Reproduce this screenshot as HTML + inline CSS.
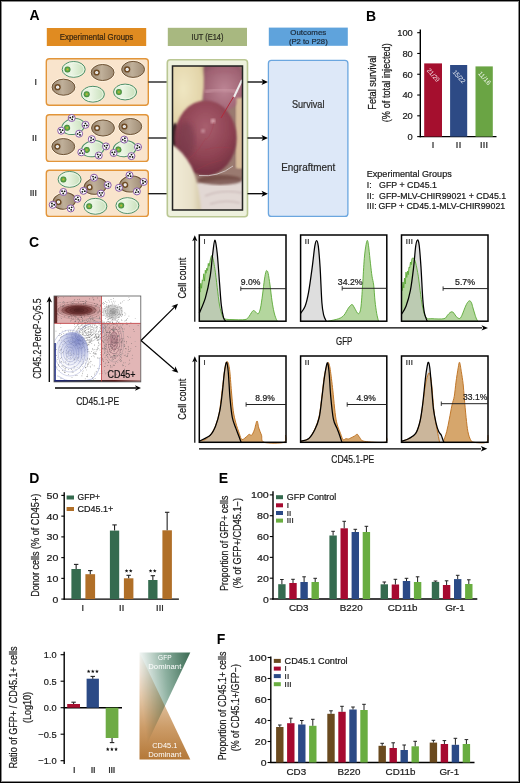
<!DOCTYPE html>
<html><head><meta charset="utf-8"><style>
html,body{margin:0;padding:0;background:#fff;}
svg{display:block;font-family:"Liberation Sans", sans-serif;}
</style></head><body>
<svg width="520" height="783" viewBox="0 0 520 783">
<rect width="520" height="783" fill="#fff"/>
<defs>
<linearGradient id="gcell" x1="0" y1="0" x2="1" y2="0"><stop offset="0" stop-color="#dcedd3"/><stop offset="0.4" stop-color="#ebf5e4"/><stop offset="1" stop-color="#c6dfb9"/></linearGradient>
<linearGradient id="bcell" x1="0" y1="0" x2="1" y2="0"><stop offset="0" stop-color="#98846d"/><stop offset="0.45" stop-color="#c0b09a"/><stop offset="1" stop-color="#a08d76"/></linearGradient>
<radialGradient id="gnuc" cx="0.5" cy="0.5" r="0.5"><stop offset="0" stop-color="#d8b430"/><stop offset="0.45" stop-color="#6cb048"/><stop offset="1" stop-color="#3b8238"/></radialGradient>
<radialGradient id="bnuc" cx="0.5" cy="0.5" r="0.5"><stop offset="0" stop-color="#d8d8d8"/><stop offset="1" stop-color="#ffffff"/></radialGradient>
<linearGradient id="tgreen" x1="1" y1="0" x2="0" y2="0.25"><stop offset="0" stop-color="#3a6a52"/><stop offset="0.5" stop-color="#8db0a0"/><stop offset="1" stop-color="#ffffff"/></linearGradient>
<linearGradient id="torange" x1="0" y1="1" x2="0" y2="0"><stop offset="0" stop-color="#b47838"/><stop offset="0.3" stop-color="#cc9c68"/><stop offset="0.55" stop-color="#e0c2a0"/><stop offset="0.8" stop-color="#f2e6da"/><stop offset="1" stop-color="#ffffff"/></linearGradient>
<radialGradient id="sphere" cx="0.5" cy="0.35" r="0.75"><stop offset="0" stop-color="#a85e6e"/><stop offset="0.55" stop-color="#8e4252"/><stop offset="1" stop-color="#682a3a"/></radialGradient>
<radialGradient id="glove1" cx="0.35" cy="0.4" r="0.75"><stop offset="0" stop-color="#efe6c2"/><stop offset="0.8" stop-color="#e2d4a8"/><stop offset="1" stop-color="#c8b486"/></radialGradient>
<radialGradient id="horn" cx="0.55" cy="0.6" r="0.7"><stop offset="0" stop-color="#bc8494"/><stop offset="0.6" stop-color="#a06474"/><stop offset="1" stop-color="#80485a"/></radialGradient>
<linearGradient id="glove2" x1="0" y1="0" x2="1" y2="0"><stop offset="0" stop-color="#f2ecd8"/><stop offset="0.7" stop-color="#e8e0c8"/><stop offset="1" stop-color="#d6caa8"/></linearGradient>
<filter id="blur1"><feGaussianBlur stdDeviation="1.2"/></filter>
<filter id="blur2"><feGaussianBlur stdDeviation="2.5"/></filter>
<clipPath id="photoclip"><rect x="172.5" y="66" width="69.8" height="143.5"/></clipPath>
</defs>
<rect x="0.5" y="0.5" width="519" height="782" fill="none" stroke="#000" stroke-width="1" rx="0"/>
<rect x="1.5" y="1.5" width="517" height="780" fill="none" stroke="#8a8a8a" stroke-width="1" rx="0"/>
<text x="29.6" y="20.4" font-size="14" fill="#000" font-weight="bold">A</text>
<rect x="46.8" y="28" width="99.4" height="18" fill="#e08b21" stroke="none" stroke-width="1" rx="0"/>
<text x="96.5" y="40.2" font-size="8.3" fill="#3b2710" text-anchor="middle" textLength="73.5" lengthAdjust="spacingAndGlyphs" stroke="#3b2710" stroke-width="0.22">Experimental Groups</text>
<rect x="167.8" y="27.8" width="79.2" height="18.2" fill="#a8b880" stroke="none" stroke-width="1" rx="0"/>
<text x="207.4" y="40.1" font-size="8.3" fill="#2c2c20" text-anchor="middle" textLength="32" lengthAdjust="spacingAndGlyphs" stroke="#2c2c20" stroke-width="0.22">IUT (E14)</text>
<rect x="268.8" y="27.6" width="79" height="18.2" fill="#5fa3dc" stroke="none" stroke-width="1" rx="0"/>
<text x="308.3" y="35.2" font-size="8" fill="#1d2c3c" text-anchor="middle" textLength="36" lengthAdjust="spacingAndGlyphs" stroke="#1d2c3c" stroke-width="0.22">Outcomes</text>
<text x="308.3" y="43.6" font-size="8" fill="#1d2c3c" text-anchor="middle" textLength="38.8" lengthAdjust="spacingAndGlyphs" stroke="#1d2c3c" stroke-width="0.22">(P2 to P28)</text>
<rect x="46.3" y="58.8" width="102" height="46.5" fill="#f9e4cc" stroke="#e2953a" stroke-width="1.4" rx="3"/>
<rect x="46.3" y="114.7" width="102" height="46.7" fill="#f9e4cc" stroke="#e2953a" stroke-width="1.4" rx="3"/>
<rect x="46.3" y="170.3" width="102" height="46.099999999999994" fill="#f9e4cc" stroke="#e2953a" stroke-width="1.4" rx="3"/>
<text x="37" y="84.6" font-size="8.8" fill="#444" text-anchor="end" font-weight="bold">I</text>
<text x="37" y="140.8" font-size="8.8" fill="#444" text-anchor="end" font-weight="bold">II</text>
<text x="37" y="196.4" font-size="8.8" fill="#444" text-anchor="end" font-weight="bold">III</text>
<g><ellipse cx="73.7" cy="69.4" rx="11.5" ry="7.9" fill="url(#gcell)" stroke="#4e8f6a" stroke-width="1"/><ellipse cx="73.7" cy="69.4" rx="10.2" ry="6.7" fill="none" stroke="#f3faef" stroke-width="0.7"/><circle cx="67.5" cy="69.4" r="3.0" fill="url(#gnuc)"/></g>
<g><ellipse cx="102.6" cy="72.5" rx="12.2" ry="8.9" fill="none" stroke="#fff4e2" stroke-width="1"/><ellipse cx="102.6" cy="72.5" rx="11.4" ry="8.0" fill="url(#bcell)" stroke="#6e5234" stroke-width="1"/><circle cx="96.69999999999999" cy="72.5" r="3.1" fill="#6e4a24"/><circle cx="96.69999999999999" cy="72.5" r="1.6" fill="url(#bnuc)"/></g>
<g><ellipse cx="133.1" cy="69.4" rx="12.2" ry="8.9" fill="none" stroke="#fff4e2" stroke-width="1"/><ellipse cx="133.1" cy="69.4" rx="11.4" ry="8.0" fill="url(#bcell)" stroke="#6e5234" stroke-width="1"/><circle cx="127.19999999999999" cy="69.4" r="3.1" fill="#6e4a24"/><circle cx="127.19999999999999" cy="69.4" r="1.6" fill="url(#bnuc)"/></g>
<g><ellipse cx="63.5" cy="87.2" rx="12.2" ry="8.9" fill="none" stroke="#fff4e2" stroke-width="1"/><ellipse cx="63.5" cy="87.2" rx="11.4" ry="8.0" fill="url(#bcell)" stroke="#6e5234" stroke-width="1"/><circle cx="57.6" cy="87.2" r="3.1" fill="#6e4a24"/><circle cx="57.6" cy="87.2" r="1.6" fill="url(#bnuc)"/></g>
<g><ellipse cx="92.9" cy="94.2" rx="11.5" ry="7.9" fill="url(#gcell)" stroke="#4e8f6a" stroke-width="1"/><ellipse cx="92.9" cy="94.2" rx="10.2" ry="6.7" fill="none" stroke="#f3faef" stroke-width="0.7"/><circle cx="86.7" cy="94.2" r="3.0" fill="url(#gnuc)"/></g>
<g><ellipse cx="125.1" cy="92" rx="11.5" ry="7.9" fill="url(#gcell)" stroke="#4e8f6a" stroke-width="1"/><ellipse cx="125.1" cy="92" rx="10.2" ry="6.7" fill="none" stroke="#f3faef" stroke-width="0.7"/><circle cx="118.89999999999999" cy="92" r="3.0" fill="url(#gnuc)"/></g>
<g transform="rotate(-12 73.2 126.5)"><ellipse cx="73.2" cy="126.5" rx="11.5" ry="7.9" fill="url(#gcell)" stroke="#4e8f6a" stroke-width="1"/><ellipse cx="73.2" cy="126.5" rx="10.2" ry="6.7" fill="none" stroke="#f3faef" stroke-width="0.7"/><circle cx="67.0" cy="126.5" r="3.0" fill="url(#gnuc)"/></g>
<g><ellipse cx="103" cy="128" rx="12.2" ry="8.9" fill="none" stroke="#fff4e2" stroke-width="1"/><ellipse cx="103" cy="128" rx="11.4" ry="8.0" fill="url(#bcell)" stroke="#6e5234" stroke-width="1"/><circle cx="97.1" cy="128" r="3.1" fill="#6e4a24"/><circle cx="97.1" cy="128" r="1.6" fill="url(#bnuc)"/></g>
<g><ellipse cx="130.3" cy="126.5" rx="12.2" ry="8.9" fill="none" stroke="#fff4e2" stroke-width="1"/><ellipse cx="130.3" cy="126.5" rx="11.4" ry="8.0" fill="url(#bcell)" stroke="#6e5234" stroke-width="1"/><circle cx="124.4" cy="126.5" r="3.1" fill="#6e4a24"/><circle cx="124.4" cy="126.5" r="1.6" fill="url(#bnuc)"/></g>
<g><ellipse cx="63.3" cy="146.6" rx="12.2" ry="8.9" fill="none" stroke="#fff4e2" stroke-width="1"/><ellipse cx="63.3" cy="146.6" rx="11.4" ry="8.0" fill="url(#bcell)" stroke="#6e5234" stroke-width="1"/><circle cx="57.4" cy="146.6" r="3.1" fill="#6e4a24"/><circle cx="57.4" cy="146.6" r="1.6" fill="url(#bnuc)"/></g>
<g transform="rotate(-12 92.9 148.7)"><ellipse cx="92.9" cy="148.7" rx="11.5" ry="7.9" fill="url(#gcell)" stroke="#4e8f6a" stroke-width="1"/><ellipse cx="92.9" cy="148.7" rx="10.2" ry="6.7" fill="none" stroke="#f3faef" stroke-width="0.7"/><circle cx="86.7" cy="148.7" r="3.0" fill="url(#gnuc)"/></g>
<g transform="rotate(-8 124.6 148.7)"><ellipse cx="124.6" cy="148.7" rx="11.5" ry="7.9" fill="url(#gcell)" stroke="#4e8f6a" stroke-width="1"/><ellipse cx="124.6" cy="148.7" rx="10.2" ry="6.7" fill="none" stroke="#f3faef" stroke-width="0.7"/><circle cx="118.39999999999999" cy="148.7" r="3.0" fill="url(#gnuc)"/></g>
<circle cx="71.7" cy="118" r="3.5" fill="#fff" stroke="#8758a6" stroke-width="1"/><circle cx="72.14" cy="119.43" r="0.9" fill="#111"/><circle cx="70.24" cy="117.66" r="0.9" fill="#111"/><circle cx="72.72" cy="116.90" r="0.9" fill="#111"/>
<circle cx="85.5" cy="124.8" r="3.5" fill="#fff" stroke="#8758a6" stroke-width="1"/><circle cx="84.26" cy="125.64" r="0.9" fill="#111"/><circle cx="85.40" cy="123.30" r="0.9" fill="#111"/><circle cx="86.85" cy="125.46" r="0.9" fill="#111"/>
<circle cx="61.2" cy="130.7" r="3.5" fill="#fff" stroke="#8758a6" stroke-width="1"/><circle cx="60.03" cy="129.76" r="0.9" fill="#111"/><circle cx="62.60" cy="130.16" r="0.9" fill="#111"/><circle cx="60.97" cy="132.18" r="0.9" fill="#111"/>
<circle cx="79.1" cy="133.7" r="3.5" fill="#fff" stroke="#8758a6" stroke-width="1"/><circle cx="79.66" cy="132.31" r="0.9" fill="#111"/><circle cx="80.02" cy="134.88" r="0.9" fill="#111"/><circle cx="77.61" cy="133.91" r="0.9" fill="#111"/>
<circle cx="91.8" cy="139.2" r="3.5" fill="#fff" stroke="#8758a6" stroke-width="1"/><circle cx="93.29" cy="139.33" r="0.9" fill="#111"/><circle cx="90.94" cy="140.43" r="0.9" fill="#111"/><circle cx="91.17" cy="137.84" r="0.9" fill="#111"/>
<circle cx="106" cy="146.4" r="3.5" fill="#fff" stroke="#8758a6" stroke-width="1"/><circle cx="106.31" cy="147.87" r="0.9" fill="#111"/><circle cx="104.57" cy="145.94" r="0.9" fill="#111"/><circle cx="107.11" cy="145.40" r="0.9" fill="#111"/>
<circle cx="81.3" cy="152.3" r="3.5" fill="#fff" stroke="#8758a6" stroke-width="1"/><circle cx="79.99" cy="153.03" r="0.9" fill="#111"/><circle cx="81.33" cy="150.80" r="0.9" fill="#111"/><circle cx="82.59" cy="153.07" r="0.9" fill="#111"/>
<circle cx="98.8" cy="155.5" r="3.5" fill="#fff" stroke="#8758a6" stroke-width="1"/><circle cx="97.72" cy="154.46" r="0.9" fill="#111"/><circle cx="100.24" cy="155.09" r="0.9" fill="#111"/><circle cx="98.44" cy="156.96" r="0.9" fill="#111"/>
<circle cx="124.2" cy="139.6" r="3.5" fill="#fff" stroke="#8758a6" stroke-width="1"/><circle cx="124.88" cy="138.26" r="0.9" fill="#111"/><circle cx="125.02" cy="140.86" r="0.9" fill="#111"/><circle cx="122.70" cy="139.68" r="0.9" fill="#111"/>
<circle cx="138" cy="147" r="3.5" fill="#fff" stroke="#8758a6" stroke-width="1"/><circle cx="139.48" cy="147.26" r="0.9" fill="#111"/><circle cx="137.04" cy="148.15" r="0.9" fill="#111"/><circle cx="137.49" cy="145.59" r="0.9" fill="#111"/>
<circle cx="113.6" cy="153" r="3.5" fill="#fff" stroke="#8758a6" stroke-width="1"/><circle cx="113.78" cy="154.49" r="0.9" fill="#111"/><circle cx="112.22" cy="152.41" r="0.9" fill="#111"/><circle cx="114.80" cy="152.10" r="0.9" fill="#111"/>
<circle cx="131.4" cy="156.1" r="3.5" fill="#fff" stroke="#8758a6" stroke-width="1"/><circle cx="130.03" cy="156.71" r="0.9" fill="#111"/><circle cx="131.56" cy="154.61" r="0.9" fill="#111"/><circle cx="132.61" cy="156.98" r="0.9" fill="#111"/>
<g><ellipse cx="69.6" cy="179.4" rx="11.5" ry="7.9" fill="url(#gcell)" stroke="#4e8f6a" stroke-width="1"/><ellipse cx="69.6" cy="179.4" rx="10.2" ry="6.7" fill="none" stroke="#f3faef" stroke-width="0.7"/><circle cx="63.39999999999999" cy="179.4" r="3.0" fill="url(#gnuc)"/></g>
<g transform="rotate(-10 95.4 186.2)"><ellipse cx="95.4" cy="186.2" rx="12.2" ry="8.9" fill="none" stroke="#fff4e2" stroke-width="1"/><ellipse cx="95.4" cy="186.2" rx="11.4" ry="8.0" fill="url(#bcell)" stroke="#6e5234" stroke-width="1"/><circle cx="89.5" cy="186.2" r="3.1" fill="#6e4a24"/><circle cx="89.5" cy="186.2" r="1.6" fill="url(#bnuc)"/></g>
<g transform="rotate(-8 131 184)"><ellipse cx="131" cy="184" rx="12.2" ry="8.9" fill="none" stroke="#fff4e2" stroke-width="1"/><ellipse cx="131" cy="184" rx="11.4" ry="8.0" fill="url(#bcell)" stroke="#6e5234" stroke-width="1"/><circle cx="125.1" cy="184" r="3.1" fill="#6e4a24"/><circle cx="125.1" cy="184" r="1.6" fill="url(#bnuc)"/></g>
<g transform="rotate(-10 64.3 201)"><ellipse cx="64.3" cy="201" rx="12.2" ry="8.9" fill="none" stroke="#fff4e2" stroke-width="1"/><ellipse cx="64.3" cy="201" rx="11.4" ry="8.0" fill="url(#bcell)" stroke="#6e5234" stroke-width="1"/><circle cx="58.4" cy="201" r="3.1" fill="#6e4a24"/><circle cx="58.4" cy="201" r="1.6" fill="url(#bnuc)"/></g>
<g><ellipse cx="95.4" cy="206.3" rx="11.5" ry="7.9" fill="url(#gcell)" stroke="#4e8f6a" stroke-width="1"/><ellipse cx="95.4" cy="206.3" rx="10.2" ry="6.7" fill="none" stroke="#f3faef" stroke-width="0.7"/><circle cx="89.2" cy="206.3" r="3.0" fill="url(#gnuc)"/></g>
<g><ellipse cx="127.4" cy="205.6" rx="11.5" ry="7.9" fill="url(#gcell)" stroke="#4e8f6a" stroke-width="1"/><ellipse cx="127.4" cy="205.6" rx="10.2" ry="6.7" fill="none" stroke="#f3faef" stroke-width="0.7"/><circle cx="121.2" cy="205.6" r="3.0" fill="url(#gnuc)"/></g>
<circle cx="94" cy="177.7" r="3.5" fill="#fff" stroke="#8758a6" stroke-width="1"/><circle cx="93.02" cy="176.57" r="0.9" fill="#111"/><circle cx="95.47" cy="177.41" r="0.9" fill="#111"/><circle cx="93.51" cy="179.12" r="0.9" fill="#111"/>
<circle cx="107.7" cy="185.1" r="3.5" fill="#fff" stroke="#8758a6" stroke-width="1"/><circle cx="108.49" cy="183.83" r="0.9" fill="#111"/><circle cx="108.40" cy="186.42" r="0.9" fill="#111"/><circle cx="106.20" cy="185.05" r="0.9" fill="#111"/>
<circle cx="83.4" cy="190.8" r="3.5" fill="#fff" stroke="#8758a6" stroke-width="1"/><circle cx="84.85" cy="191.19" r="0.9" fill="#111"/><circle cx="82.34" cy="191.86" r="0.9" fill="#111"/><circle cx="83.01" cy="189.35" r="0.9" fill="#111"/>
<circle cx="100.9" cy="193.6" r="3.5" fill="#fff" stroke="#8758a6" stroke-width="1"/><circle cx="100.95" cy="195.10" r="0.9" fill="#111"/><circle cx="99.58" cy="192.90" r="0.9" fill="#111"/><circle cx="102.17" cy="192.81" r="0.9" fill="#111"/>
<circle cx="129.5" cy="175.2" r="3.5" fill="#fff" stroke="#8758a6" stroke-width="1"/><circle cx="128.08" cy="175.69" r="0.9" fill="#111"/><circle cx="129.79" cy="173.73" r="0.9" fill="#111"/><circle cx="130.63" cy="176.18" r="0.9" fill="#111"/>
<circle cx="143.7" cy="181.9" r="3.5" fill="#fff" stroke="#8758a6" stroke-width="1"/><circle cx="142.82" cy="180.69" r="0.9" fill="#111"/><circle cx="145.19" cy="181.74" r="0.9" fill="#111"/><circle cx="143.09" cy="183.27" r="0.9" fill="#111"/>
<circle cx="118.9" cy="187.8" r="3.5" fill="#fff" stroke="#8758a6" stroke-width="1"/><circle cx="119.80" cy="186.60" r="0.9" fill="#111"/><circle cx="119.49" cy="189.18" r="0.9" fill="#111"/><circle cx="117.41" cy="187.62" r="0.9" fill="#111"/>
<circle cx="136.9" cy="191.4" r="3.5" fill="#fff" stroke="#8758a6" stroke-width="1"/><circle cx="138.31" cy="191.91" r="0.9" fill="#111"/><circle cx="135.75" cy="192.36" r="0.9" fill="#111"/><circle cx="136.64" cy="189.92" r="0.9" fill="#111"/>
<circle cx="63.3" cy="192" r="3.5" fill="#fff" stroke="#8758a6" stroke-width="1"/><circle cx="63.22" cy="193.50" r="0.9" fill="#111"/><circle cx="62.04" cy="191.18" r="0.9" fill="#111"/><circle cx="64.64" cy="191.32" r="0.9" fill="#111"/>
<circle cx="77.4" cy="198.8" r="3.5" fill="#fff" stroke="#8758a6" stroke-width="1"/><circle cx="75.94" cy="199.16" r="0.9" fill="#111"/><circle cx="77.81" cy="197.36" r="0.9" fill="#111"/><circle cx="78.44" cy="199.88" r="0.9" fill="#111"/>
<circle cx="52.7" cy="204.8" r="3.5" fill="#fff" stroke="#8758a6" stroke-width="1"/><circle cx="51.93" cy="203.51" r="0.9" fill="#111"/><circle cx="54.20" cy="204.77" r="0.9" fill="#111"/><circle cx="51.97" cy="206.11" r="0.9" fill="#111"/>
<circle cx="70.7" cy="208.4" r="3.5" fill="#fff" stroke="#8758a6" stroke-width="1"/><circle cx="71.70" cy="207.29" r="0.9" fill="#111"/><circle cx="71.16" cy="209.83" r="0.9" fill="#111"/><circle cx="69.23" cy="208.09" r="0.9" fill="#111"/>
<line x1="148.3" y1="82" x2="167.3" y2="82" stroke="#111" stroke-width="1.3"/>
<line x1="148.3" y1="138" x2="167.3" y2="138" stroke="#111" stroke-width="1.3"/>
<line x1="148.3" y1="193.7" x2="167.3" y2="193.7" stroke="#111" stroke-width="1.3"/>
<rect x="167.3" y="59.8" width="80.2" height="157" fill="#eef1de" stroke="#bac793" stroke-width="1.6" rx="3"/>
<g clip-path="url(#photoclip)">
<rect x="172.5" y="66" width="70" height="144" fill="#9a7a70" stroke="none" stroke-width="1" rx="0"/>
<path d="M194,184 Q220,178 243,180 L243,211 L194,211 Z" fill="#e2d8d4" filter="url(#blur1)"/>
<path d="M205,196 Q222,189 242,193 M210,204 Q225,199 240,203" stroke="#c4b0b0" stroke-width="1.1" fill="none" filter="url(#blur1)"/>
<ellipse cx="220" cy="180" rx="22" ry="5" fill="#6e4640" opacity="0.8" filter="url(#blur1)"/>
<rect x="236.5" y="98" width="7" height="70" fill="#d8bc9a" filter="url(#blur1)"/>
<ellipse cx="222" cy="84" rx="23" ry="27" fill="url(#horn)" filter="url(#blur1)"/>
<path d="M205,92 Q222,87 238,92" stroke="#cc9aa6" stroke-width="4" fill="none" opacity="0.55" filter="url(#blur1)"/>
<path d="M206,74 Q222,69 238,73" stroke="#a46274" stroke-width="1.2" fill="none" filter="url(#blur1)"/>
<rect x="236.5" y="98" width="7" height="70" fill="#d8bc9a" filter="url(#blur1)"/>
<path d="M172,64 L203,64 Q206,90 200,108 Q193,121 180,125 L172,127 Z" fill="url(#glove1)" filter="url(#blur1)"/>
<ellipse cx="175" cy="135" rx="4" ry="12" fill="#3a2025" filter="url(#blur1)"/>
<ellipse cx="205.6" cy="138" rx="31" ry="37.5" fill="url(#sphere)" filter="url(#blur1)"/>
<ellipse cx="186" cy="140" rx="9" ry="18" fill="#6a3048" fill-opacity="0.45" filter="url(#blur2)"/>
<circle cx="213" cy="121" r="2.5" fill="#e6b8c0" opacity="0.7" filter="url(#blur1)"/>
<circle cx="203" cy="131" r="2" fill="#dcb0b8" opacity="0.6" filter="url(#blur1)"/>
<path d="M188,160 Q200,150 206,138 M205,150 Q216,146 232,148 M196,170 Q210,162 222,160 M214,122 Q212,134 206,140" stroke="#a83848" stroke-width="0.5" fill="none" opacity="0.55"/>
<path d="M172,145 Q182,150 191,166 Q199,182 201,211 L172,211 Z" fill="url(#glove2)" filter="url(#blur1)"/>
<path d="M199,175.5 Q218,177.5 233,166" stroke="#d8cccc" stroke-width="1" fill="none" opacity="0.85"/>
<path d="M234,96 L221,118" stroke="#b02a3a" stroke-width="1" fill="none"/><path d="M242,80 L234,97" stroke="#eeeeee" stroke-width="2" fill="none"/>
</g>
<rect x="172.5" y="66" width="70" height="144" fill="none" stroke="#222" stroke-width="1.5" rx="0"/>
<line x1="247.5" y1="82" x2="263" y2="82" stroke="#000" stroke-width="1.3"/>
<polygon points="268,82 261.5,79 263.125,82 261.5,85" fill="#000"/>
<line x1="247.5" y1="138" x2="263" y2="138" stroke="#000" stroke-width="1.3"/>
<polygon points="268,138 261.5,135 263.125,138 261.5,141" fill="#000"/>
<line x1="247.5" y1="193.7" x2="263" y2="193.7" stroke="#000" stroke-width="1.3"/>
<polygon points="268,193.7 261.5,190.7 263.125,193.7 261.5,196.7" fill="#000"/>
<rect x="268.4" y="60.4" width="79.5" height="156" fill="#dde8f8" stroke="#6ba6df" stroke-width="1.3" rx="3"/>
<text x="308.2" y="108.4" font-size="10.5" fill="#2a2a2a" text-anchor="middle" textLength="32.6" lengthAdjust="spacingAndGlyphs" stroke="#2a2a2a" stroke-width="0.22">Survival</text>
<text x="308.2" y="171.2" font-size="10.5" fill="#2a2a2a" text-anchor="middle" textLength="54" lengthAdjust="spacingAndGlyphs" stroke="#2a2a2a" stroke-width="0.22">Engraftment</text>
<text x="366" y="20.6" font-size="14" fill="#000" font-weight="bold">B</text>
<line x1="420.3" y1="29.5" x2="420.3" y2="137.29999999999998" stroke="#000" stroke-width="1.4"/>
<line x1="419.6" y1="136.6" x2="496.5" y2="136.6" stroke="#000" stroke-width="1.4"/>
<line x1="417.2" y1="136.6" x2="420.3" y2="136.6" stroke="#000" stroke-width="1.1"/>
<text x="412.8" y="140.0" font-size="9.6" fill="#1a1a1a" text-anchor="end" textLength="5.2" lengthAdjust="spacingAndGlyphs" stroke="#1a1a1a" stroke-width="0.22">0</text>
<line x1="417.2" y1="115.82" x2="420.3" y2="115.82" stroke="#000" stroke-width="1.1"/>
<text x="412.8" y="119.22" font-size="9.6" fill="#1a1a1a" text-anchor="end" textLength="10.4" lengthAdjust="spacingAndGlyphs" stroke="#1a1a1a" stroke-width="0.22">20</text>
<line x1="417.2" y1="95.03999999999999" x2="420.3" y2="95.03999999999999" stroke="#000" stroke-width="1.1"/>
<text x="412.8" y="98.44" font-size="9.6" fill="#1a1a1a" text-anchor="end" textLength="10.4" lengthAdjust="spacingAndGlyphs" stroke="#1a1a1a" stroke-width="0.22">40</text>
<line x1="417.2" y1="74.25999999999999" x2="420.3" y2="74.25999999999999" stroke="#000" stroke-width="1.1"/>
<text x="412.8" y="77.66" font-size="9.6" fill="#1a1a1a" text-anchor="end" textLength="10.4" lengthAdjust="spacingAndGlyphs" stroke="#1a1a1a" stroke-width="0.22">60</text>
<line x1="417.2" y1="53.47999999999999" x2="420.3" y2="53.47999999999999" stroke="#000" stroke-width="1.1"/>
<text x="412.8" y="56.87999999999999" font-size="9.6" fill="#1a1a1a" text-anchor="end" textLength="10.4" lengthAdjust="spacingAndGlyphs" stroke="#1a1a1a" stroke-width="0.22">80</text>
<line x1="417.2" y1="32.69999999999999" x2="420.3" y2="32.69999999999999" stroke="#000" stroke-width="1.1"/>
<text x="412.8" y="36.09999999999999" font-size="9.6" fill="#1a1a1a" text-anchor="end" textLength="15.6" lengthAdjust="spacingAndGlyphs" stroke="#1a1a1a" stroke-width="0.22">100</text>
<rect x="424.2" y="63.4" width="17.80000000000001" height="73.19999999999999" fill="#a50f2e" stroke="none" stroke-width="1" rx="0"/>
<text x="426.4" y="70.8" font-size="6.6" fill="#fff" textLength="15.5" lengthAdjust="spacingAndGlyphs" transform="rotate(48 426.4 70.8)" fill-opacity="0.92">21/29</text>
<rect x="450.1" y="65" width="17.099999999999966" height="71.6" fill="#2d4a85" stroke="none" stroke-width="1" rx="0"/>
<text x="452.3" y="72.4" font-size="6.6" fill="#fff" textLength="15.5" lengthAdjust="spacingAndGlyphs" transform="rotate(48 452.3 72.4)" fill-opacity="0.92">15/22</text>
<rect x="475.5" y="66.4" width="17.30000000000001" height="70.19999999999999" fill="#6aa444" stroke="none" stroke-width="1" rx="0"/>
<text x="477.7" y="73.80000000000001" font-size="6.6" fill="#fff" textLength="15.5" lengthAdjust="spacingAndGlyphs" transform="rotate(48 477.7 73.80000000000001)" fill-opacity="0.92">11/16</text>
<text x="433.1" y="148.2" font-size="9" fill="#1a1a1a" text-anchor="middle" stroke="#1a1a1a" stroke-width="0.22" letter-spacing="0.3">I</text>
<text x="458.65" y="148.2" font-size="9" fill="#1a1a1a" text-anchor="middle" stroke="#1a1a1a" stroke-width="0.22" letter-spacing="0.3">II</text>
<text x="484.15" y="148.2" font-size="9" fill="#1a1a1a" text-anchor="middle" stroke="#1a1a1a" stroke-width="0.22" letter-spacing="0.3">III</text>
<text x="376.5" y="82.7" font-size="10" fill="#1a1a1a" text-anchor="middle" textLength="54" lengthAdjust="spacingAndGlyphs" transform="rotate(-90 376.5 82.7)" stroke="#1a1a1a" stroke-width="0.22">Fetal survival</text>
<text x="390.5" y="82.7" font-size="10" fill="#1a1a1a" text-anchor="middle" textLength="79" lengthAdjust="spacingAndGlyphs" transform="rotate(-90 390.5 82.7)" stroke="#1a1a1a" stroke-width="0.22">(% of total injected)</text>
<text x="366.8" y="176.9" font-size="8.8" fill="#1a1a1a" textLength="84.9" lengthAdjust="spacingAndGlyphs" stroke="#1a1a1a" stroke-width="0.22">Experimental Groups</text>
<text x="366.8" y="187.7" font-size="8.8" fill="#1a1a1a" stroke="#1a1a1a" stroke-width="0.22">I:</text>
<text x="379.1" y="187.7" font-size="8.8" fill="#1a1a1a" textLength="57.8" lengthAdjust="spacingAndGlyphs" stroke="#1a1a1a" stroke-width="0.22">GFP + CD45.1</text>
<text x="366.8" y="198.5" font-size="8.8" fill="#1a1a1a" stroke="#1a1a1a" stroke-width="0.22">II:</text>
<text x="379.1" y="198.5" font-size="8.8" fill="#1a1a1a" textLength="127.1" lengthAdjust="spacingAndGlyphs" stroke="#1a1a1a" stroke-width="0.22">GFP-MLV-CHIR99021 + CD45.1</text>
<text x="366.8" y="209.29999999999998" font-size="8.8" fill="#1a1a1a" stroke="#1a1a1a" stroke-width="0.22">III:</text>
<text x="378.5" y="209.29999999999998" font-size="8.8" fill="#1a1a1a" textLength="126.7" lengthAdjust="spacingAndGlyphs" stroke="#1a1a1a" stroke-width="0.22">GFP + CD45.1-MLV-CHIR99021</text>
<text x="29.1" y="246.7" font-size="14" fill="#000" font-weight="bold">C</text>
<rect x="54" y="296" width="86.80000000000001" height="85.89999999999998" fill="#fff" stroke="none" stroke-width="1" rx="0"/>
<rect x="54" y="296" width="47.5" height="27.399999999999977" fill="#d9a3a3" stroke="none" stroke-width="1" rx="0" fill-opacity="0.85"/>
<rect x="101.5" y="323.4" width="39.30000000000001" height="58.5" fill="#dfaeae" stroke="none" stroke-width="1" rx="0" fill-opacity="0.9"/>
<defs><clipPath id="dpclip"><rect x="54" y="296" width="86.8" height="85.9"/></clipPath><radialGradient id="blueb" cx="0.68" cy="0.22" r="0.85"><stop offset="0" stop-color="#4e5cb2"/><stop offset="0.4" stop-color="#a3abd9"/><stop offset="1" stop-color="#e4e6f5" stop-opacity="0"/></radialGradient><radialGradient id="marb" cx="0.5" cy="0.5" r="0.5"><stop offset="0" stop-color="#4e1e1e"/><stop offset="0.55" stop-color="#7a3e3e"/><stop offset="1" stop-color="#b07a7a" stop-opacity="0"/></radialGradient><radialGradient id="grayb" cx="0.5" cy="0.5" r="0.5"><stop offset="0" stop-color="#8f8f8f"/><stop offset="1" stop-color="#d8d8d8" stop-opacity="0"/></radialGradient></defs>
<g clip-path="url(#dpclip)">
<rect x="80.2" y="369.7" width="0.6" height="0.6" fill="#444"/>
<rect x="123.9" y="355.3" width="0.6" height="0.6" fill="#666"/>
<rect x="73.1" y="310.8" width="0.6" height="0.6" fill="#444"/>
<rect x="104.4" y="353.4" width="0.6" height="0.6" fill="#666"/>
<rect x="86.3" y="341.8" width="0.6" height="0.6" fill="#555"/>
<rect x="81.2" y="316.3" width="0.6" height="0.6" fill="#666"/>
<rect x="73.7" y="357.9" width="0.6" height="0.6" fill="#888"/>
<rect x="87.7" y="337.4" width="0.6" height="0.6" fill="#666"/>
<rect x="65.9" y="350.4" width="0.6" height="0.6" fill="#444"/>
<rect x="75.2" y="345.5" width="0.6" height="0.6" fill="#888"/>
<rect x="100.1" y="337.1" width="0.6" height="0.6" fill="#666"/>
<rect x="111.9" y="329.2" width="0.6" height="0.6" fill="#888"/>
<rect x="103.7" y="324.4" width="0.6" height="0.6" fill="#888"/>
<rect x="102.9" y="354.6" width="0.6" height="0.6" fill="#666"/>
<rect x="120.0" y="359.0" width="0.6" height="0.6" fill="#444"/>
<rect x="105.8" y="335.4" width="0.6" height="0.6" fill="#888"/>
<rect x="61.7" y="366.2" width="0.6" height="0.6" fill="#555"/>
<rect x="87.2" y="312.2" width="0.6" height="0.6" fill="#444"/>
<rect x="71.9" y="303.1" width="0.6" height="0.6" fill="#555"/>
<rect x="56.6" y="366.7" width="0.6" height="0.6" fill="#444"/>
<rect x="78.2" y="339.7" width="0.6" height="0.6" fill="#555"/>
<rect x="78.8" y="307.4" width="0.6" height="0.6" fill="#666"/>
<rect x="82.2" y="343.2" width="0.6" height="0.6" fill="#666"/>
<rect x="66.3" y="333.6" width="0.6" height="0.6" fill="#555"/>
<rect x="112.3" y="360.4" width="0.6" height="0.6" fill="#888"/>
<rect x="109.2" y="350.9" width="0.6" height="0.6" fill="#444"/>
<rect x="79.2" y="313.6" width="0.6" height="0.6" fill="#555"/>
<rect x="117.0" y="355.3" width="0.6" height="0.6" fill="#666"/>
<rect x="59.4" y="366.2" width="0.6" height="0.6" fill="#666"/>
<rect x="101.6" y="339.6" width="0.6" height="0.6" fill="#444"/>
<rect x="110.4" y="312.9" width="0.6" height="0.6" fill="#555"/>
<rect x="59.2" y="362.6" width="0.6" height="0.6" fill="#555"/>
<rect x="86.7" y="311.4" width="0.6" height="0.6" fill="#666"/>
<rect x="72.8" y="308.6" width="0.6" height="0.6" fill="#666"/>
<rect x="105.7" y="337.2" width="0.6" height="0.6" fill="#444"/>
<rect x="110.2" y="335.3" width="0.6" height="0.6" fill="#888"/>
<rect x="77.3" y="323.9" width="0.6" height="0.6" fill="#444"/>
<rect x="124.1" y="341.1" width="0.6" height="0.6" fill="#555"/>
<rect x="82.3" y="371.6" width="0.6" height="0.6" fill="#888"/>
<rect x="84.8" y="324.7" width="0.6" height="0.6" fill="#666"/>
<rect x="82.2" y="329.1" width="0.6" height="0.6" fill="#444"/>
<rect x="110.2" y="366.7" width="0.6" height="0.6" fill="#444"/>
<rect x="113.4" y="359.2" width="0.6" height="0.6" fill="#666"/>
<rect x="72.5" y="370.5" width="0.6" height="0.6" fill="#888"/>
<rect x="74.0" y="324.3" width="0.6" height="0.6" fill="#666"/>
<rect x="120.1" y="315.1" width="0.6" height="0.6" fill="#666"/>
<rect x="101.7" y="312.4" width="0.6" height="0.6" fill="#444"/>
<rect x="108.2" y="344.0" width="0.6" height="0.6" fill="#888"/>
<rect x="122.9" y="324.4" width="0.6" height="0.6" fill="#888"/>
<rect x="90.6" y="313.4" width="0.6" height="0.6" fill="#888"/>
<rect x="102.3" y="302.9" width="0.6" height="0.6" fill="#444"/>
<rect x="77.7" y="318.5" width="0.6" height="0.6" fill="#444"/>
<rect x="120.5" y="354.2" width="0.6" height="0.6" fill="#666"/>
<rect x="99.2" y="373.6" width="0.6" height="0.6" fill="#888"/>
<rect x="99.1" y="307.3" width="0.6" height="0.6" fill="#555"/>
<rect x="88.2" y="344.1" width="0.6" height="0.6" fill="#666"/>
<rect x="108.4" y="332.1" width="0.6" height="0.6" fill="#555"/>
<rect x="124.2" y="368.8" width="0.6" height="0.6" fill="#555"/>
<rect x="107.3" y="360.3" width="0.6" height="0.6" fill="#666"/>
<rect x="84.9" y="302.3" width="0.6" height="0.6" fill="#444"/>
<rect x="101.7" y="337.2" width="0.6" height="0.6" fill="#666"/>
<rect x="115.7" y="355.3" width="0.6" height="0.6" fill="#888"/>
<rect x="90.9" y="329.1" width="0.6" height="0.6" fill="#555"/>
<rect x="127.7" y="353.0" width="0.6" height="0.6" fill="#555"/>
<rect x="118.3" y="322.1" width="0.6" height="0.6" fill="#666"/>
<rect x="87.7" y="344.5" width="0.6" height="0.6" fill="#555"/>
<rect x="101.9" y="322.4" width="0.6" height="0.6" fill="#666"/>
<rect x="55.8" y="311.3" width="0.6" height="0.6" fill="#444"/>
<rect x="54.8" y="349.8" width="0.6" height="0.6" fill="#444"/>
<rect x="119.5" y="346.1" width="0.6" height="0.6" fill="#444"/>
<rect x="102.5" y="340.9" width="0.6" height="0.6" fill="#444"/>
<rect x="79.2" y="331.1" width="0.6" height="0.6" fill="#666"/>
<rect x="103.4" y="348.6" width="0.6" height="0.6" fill="#555"/>
<rect x="90.2" y="366.9" width="0.6" height="0.6" fill="#888"/>
<rect x="97.4" y="326.2" width="0.6" height="0.6" fill="#555"/>
<rect x="88.9" y="313.7" width="0.6" height="0.6" fill="#444"/>
<rect x="108.4" y="347.4" width="0.6" height="0.6" fill="#888"/>
<rect x="118.2" y="335.7" width="0.6" height="0.6" fill="#888"/>
<rect x="105.2" y="301.2" width="0.6" height="0.6" fill="#666"/>
<rect x="129.5" y="362.9" width="0.6" height="0.6" fill="#666"/>
<rect x="94.1" y="325.4" width="0.6" height="0.6" fill="#555"/>
<rect x="78.0" y="335.3" width="0.6" height="0.6" fill="#888"/>
<rect x="69.6" y="349.1" width="0.6" height="0.6" fill="#555"/>
<rect x="100.7" y="346.8" width="0.6" height="0.6" fill="#888"/>
<rect x="122.0" y="365.5" width="0.6" height="0.6" fill="#666"/>
<rect x="98.7" y="334.3" width="0.6" height="0.6" fill="#444"/>
<rect x="99.8" y="343.7" width="0.6" height="0.6" fill="#555"/>
<rect x="104.2" y="303.1" width="0.6" height="0.6" fill="#555"/>
<rect x="93.9" y="306.8" width="0.6" height="0.6" fill="#888"/>
<rect x="98.0" y="312.7" width="0.6" height="0.6" fill="#555"/>
<rect x="113.8" y="345.3" width="0.6" height="0.6" fill="#444"/>
<rect x="129.3" y="359.8" width="0.6" height="0.6" fill="#444"/>
<rect x="113.8" y="312.6" width="0.6" height="0.6" fill="#555"/>
<rect x="89.2" y="334.7" width="0.6" height="0.6" fill="#666"/>
<rect x="100.7" y="328.7" width="0.6" height="0.6" fill="#666"/>
<rect x="110.7" y="316.7" width="0.6" height="0.6" fill="#666"/>
<rect x="62.5" y="352.0" width="0.6" height="0.6" fill="#888"/>
<rect x="116.5" y="341.8" width="0.6" height="0.6" fill="#444"/>
<rect x="108.5" y="338.3" width="0.6" height="0.6" fill="#555"/>
<rect x="103.3" y="314.9" width="0.6" height="0.6" fill="#555"/>
<rect x="95.9" y="331.3" width="0.6" height="0.6" fill="#888"/>
<rect x="122.2" y="340.2" width="0.6" height="0.6" fill="#666"/>
<rect x="67.7" y="356.1" width="0.6" height="0.6" fill="#666"/>
<rect x="57.7" y="302.7" width="0.6" height="0.6" fill="#555"/>
<rect x="101.2" y="314.9" width="0.6" height="0.6" fill="#888"/>
<rect x="88.7" y="339.9" width="0.6" height="0.6" fill="#666"/>
<rect x="67.7" y="311.3" width="0.6" height="0.6" fill="#888"/>
<rect x="80.0" y="328.0" width="0.6" height="0.6" fill="#888"/>
<rect x="115.6" y="316.9" width="0.6" height="0.6" fill="#444"/>
<rect x="82.0" y="344.8" width="0.6" height="0.6" fill="#444"/>
<rect x="81.2" y="307.5" width="0.6" height="0.6" fill="#444"/>
<rect x="64.8" y="372.1" width="0.6" height="0.6" fill="#444"/>
<rect x="70.3" y="339.5" width="0.6" height="0.6" fill="#555"/>
<rect x="112.1" y="321.3" width="0.6" height="0.6" fill="#888"/>
<rect x="112.3" y="337.8" width="0.6" height="0.6" fill="#555"/>
<rect x="115.9" y="332.9" width="0.6" height="0.6" fill="#444"/>
<rect x="97.6" y="322.8" width="0.6" height="0.6" fill="#666"/>
<rect x="97.2" y="311.9" width="0.6" height="0.6" fill="#444"/>
<rect x="66.3" y="353.5" width="0.6" height="0.6" fill="#444"/>
<rect x="84.1" y="326.1" width="0.6" height="0.6" fill="#444"/>
<rect x="115.2" y="362.8" width="0.6" height="0.6" fill="#444"/>
<rect x="127.5" y="353.9" width="0.6" height="0.6" fill="#888"/>
<rect x="117.7" y="331.2" width="0.6" height="0.6" fill="#666"/>
<rect x="108.4" y="306.6" width="0.6" height="0.6" fill="#555"/>
<rect x="87.7" y="307.8" width="0.6" height="0.6" fill="#444"/>
<rect x="87.0" y="339.4" width="0.6" height="0.6" fill="#666"/>
<rect x="59.3" y="333.2" width="0.6" height="0.6" fill="#666"/>
<rect x="88.3" y="311.5" width="0.6" height="0.6" fill="#444"/>
<rect x="110.6" y="328.7" width="0.6" height="0.6" fill="#888"/>
<rect x="84.1" y="346.9" width="0.6" height="0.6" fill="#666"/>
<rect x="81.7" y="360.7" width="0.6" height="0.6" fill="#888"/>
<rect x="103.4" y="302.2" width="0.6" height="0.6" fill="#555"/>
<rect x="66.4" y="343.1" width="0.6" height="0.6" fill="#666"/>
<rect x="97.6" y="314.5" width="0.6" height="0.6" fill="#888"/>
<rect x="107.4" y="342.3" width="0.6" height="0.6" fill="#888"/>
<rect x="112.1" y="329.5" width="0.6" height="0.6" fill="#555"/>
<rect x="102.0" y="358.2" width="0.6" height="0.6" fill="#555"/>
<rect x="60.7" y="378.3" width="0.6" height="0.6" fill="#444"/>
<rect x="63.6" y="364.9" width="0.6" height="0.6" fill="#666"/>
<rect x="120.1" y="333.4" width="0.6" height="0.6" fill="#888"/>
<rect x="56.2" y="316.4" width="0.6" height="0.6" fill="#444"/>
<rect x="61.3" y="357.3" width="0.6" height="0.6" fill="#444"/>
<rect x="86.8" y="359.0" width="0.6" height="0.6" fill="#666"/>
<rect x="112.2" y="319.1" width="0.6" height="0.6" fill="#666"/>
<rect x="116.1" y="323.4" width="0.6" height="0.6" fill="#444"/>
<rect x="100.5" y="312.8" width="0.6" height="0.6" fill="#666"/>
<rect x="127.9" y="350.9" width="0.6" height="0.6" fill="#555"/>
<rect x="105.6" y="372.8" width="0.6" height="0.6" fill="#555"/>
<rect x="84.5" y="308.8" width="0.6" height="0.6" fill="#555"/>
<rect x="68.2" y="363.3" width="0.6" height="0.6" fill="#888"/>
<rect x="71.0" y="369.2" width="0.6" height="0.6" fill="#555"/>
<rect x="74.6" y="308.5" width="0.6" height="0.6" fill="#555"/>
<rect x="79.7" y="349.7" width="0.6" height="0.6" fill="#555"/>
<rect x="61.4" y="348.7" width="0.6" height="0.6" fill="#666"/>
<rect x="77.5" y="358.0" width="0.6" height="0.6" fill="#888"/>
<rect x="114.5" y="345.5" width="0.6" height="0.6" fill="#555"/>
<rect x="69.8" y="341.7" width="0.6" height="0.6" fill="#888"/>
<rect x="78.9" y="356.6" width="0.6" height="0.6" fill="#888"/>
<rect x="58.3" y="309.8" width="0.6" height="0.6" fill="#666"/>
<rect x="89.0" y="307.0" width="0.6" height="0.6" fill="#555"/>
<rect x="81.6" y="375.6" width="0.6" height="0.6" fill="#444"/>
<rect x="56.8" y="313.8" width="0.6" height="0.6" fill="#555"/>
<rect x="84.6" y="330.2" width="0.6" height="0.6" fill="#555"/>
<rect x="90.1" y="334.3" width="0.6" height="0.6" fill="#666"/>
<rect x="84.6" y="309.6" width="0.6" height="0.6" fill="#555"/>
<rect x="78.1" y="309.7" width="0.6" height="0.6" fill="#666"/>
<rect x="121.8" y="307.8" width="0.6" height="0.6" fill="#888"/>
<rect x="78.0" y="322.1" width="0.6" height="0.6" fill="#555"/>
<rect x="116.6" y="346.5" width="0.6" height="0.6" fill="#666"/>
<rect x="72.7" y="372.1" width="0.6" height="0.6" fill="#444"/>
<rect x="99.7" y="344.7" width="0.6" height="0.6" fill="#888"/>
<rect x="100.2" y="331.4" width="0.6" height="0.6" fill="#666"/>
<rect x="102.2" y="348.4" width="0.6" height="0.6" fill="#888"/>
<rect x="88.0" y="319.8" width="0.6" height="0.6" fill="#555"/>
<rect x="80.0" y="315.2" width="0.6" height="0.6" fill="#888"/>
<rect x="119.2" y="313.2" width="0.6" height="0.6" fill="#555"/>
<rect x="68.9" y="353.1" width="0.6" height="0.6" fill="#888"/>
<rect x="107.9" y="341.6" width="0.6" height="0.6" fill="#666"/>
<rect x="73.7" y="342.2" width="0.6" height="0.6" fill="#666"/>
<rect x="115.6" y="310.2" width="0.6" height="0.6" fill="#555"/>
<rect x="101.0" y="332.4" width="0.6" height="0.6" fill="#444"/>
<rect x="98.5" y="337.2" width="0.6" height="0.6" fill="#666"/>
<rect x="66.1" y="307.1" width="0.6" height="0.6" fill="#444"/>
<rect x="102.5" y="314.9" width="0.6" height="0.6" fill="#888"/>
<rect x="134.8" y="341.4" width="0.6" height="0.6" fill="#888"/>
<rect x="108.1" y="306.0" width="0.6" height="0.6" fill="#555"/>
<rect x="71.0" y="305.8" width="0.6" height="0.6" fill="#888"/>
<rect x="83.7" y="331.5" width="0.6" height="0.6" fill="#444"/>
<rect x="102.6" y="324.0" width="0.6" height="0.6" fill="#444"/>
<rect x="90.6" y="327.4" width="0.6" height="0.6" fill="#888"/>
<rect x="111.4" y="344.4" width="0.6" height="0.6" fill="#555"/>
<rect x="105.6" y="310.3" width="0.6" height="0.6" fill="#888"/>
<rect x="72.4" y="349.8" width="0.6" height="0.6" fill="#555"/>
<rect x="108.0" y="307.7" width="0.6" height="0.6" fill="#555"/>
<rect x="107.1" y="314.3" width="0.6" height="0.6" fill="#888"/>
<rect x="121.8" y="315.1" width="0.6" height="0.6" fill="#888"/>
<rect x="122.4" y="309.8" width="0.6" height="0.6" fill="#888"/>
<rect x="106.4" y="304.0" width="0.6" height="0.6" fill="#888"/>
<rect x="79.1" y="298.9" width="0.6" height="0.6" fill="#444"/>
<rect x="79.6" y="315.6" width="0.6" height="0.6" fill="#555"/>
<rect x="81.9" y="334.5" width="0.6" height="0.6" fill="#555"/>
<rect x="121.1" y="357.6" width="0.6" height="0.6" fill="#444"/>
<rect x="112.8" y="308.6" width="0.6" height="0.6" fill="#666"/>
<rect x="85.1" y="358.9" width="0.6" height="0.6" fill="#888"/>
<rect x="105.1" y="329.8" width="0.6" height="0.6" fill="#555"/>
<rect x="114.1" y="348.6" width="0.6" height="0.6" fill="#444"/>
<rect x="83.2" y="342.1" width="0.6" height="0.6" fill="#555"/>
<rect x="121.0" y="340.9" width="0.6" height="0.6" fill="#444"/>
<rect x="94.6" y="320.5" width="0.6" height="0.6" fill="#555"/>
<rect x="88.4" y="314.1" width="0.6" height="0.6" fill="#666"/>
<rect x="121.6" y="320.2" width="0.6" height="0.6" fill="#444"/>
<rect x="112.0" y="356.0" width="0.6" height="0.6" fill="#888"/>
<rect x="69.4" y="342.0" width="0.6" height="0.6" fill="#666"/>
<rect x="113.5" y="316.9" width="0.6" height="0.6" fill="#666"/>
<rect x="92.5" y="377.5" width="0.6" height="0.6" fill="#555"/>
<rect x="102.7" y="336.1" width="0.6" height="0.6" fill="#666"/>
<rect x="116.2" y="339.4" width="0.6" height="0.6" fill="#888"/>
<rect x="122.0" y="314.5" width="0.6" height="0.6" fill="#666"/>
<rect x="70.5" y="343.0" width="0.6" height="0.6" fill="#555"/>
<rect x="92.8" y="318.7" width="0.6" height="0.6" fill="#444"/>
<rect x="62.0" y="306.0" width="0.6" height="0.6" fill="#666"/>
<rect x="75.7" y="311.3" width="0.6" height="0.6" fill="#888"/>
<rect x="74.5" y="299.0" width="0.6" height="0.6" fill="#444"/>
<rect x="106.7" y="351.4" width="0.6" height="0.6" fill="#888"/>
<rect x="94.1" y="311.1" width="0.6" height="0.6" fill="#555"/>
<rect x="89.3" y="313.0" width="0.6" height="0.6" fill="#666"/>
<rect x="96.0" y="350.8" width="0.6" height="0.6" fill="#888"/>
<rect x="67.9" y="364.6" width="0.6" height="0.6" fill="#444"/>
<rect x="59.7" y="346.3" width="0.6" height="0.6" fill="#555"/>
<rect x="80.6" y="301.0" width="0.6" height="0.6" fill="#666"/>
<rect x="93.3" y="352.4" width="0.6" height="0.6" fill="#444"/>
<rect x="79.9" y="340.8" width="0.6" height="0.6" fill="#666"/>
<rect x="85.4" y="310.9" width="0.6" height="0.6" fill="#555"/>
<rect x="68.3" y="306.7" width="0.6" height="0.6" fill="#666"/>
<rect x="74.5" y="315.9" width="0.6" height="0.6" fill="#444"/>
<rect x="92.4" y="334.4" width="0.6" height="0.6" fill="#444"/>
<rect x="85.4" y="330.3" width="0.6" height="0.6" fill="#555"/>
<rect x="73.0" y="302.6" width="0.6" height="0.6" fill="#666"/>
<rect x="100.4" y="325.3" width="0.6" height="0.6" fill="#666"/>
<rect x="116.6" y="353.5" width="0.6" height="0.6" fill="#555"/>
<rect x="97.3" y="337.1" width="0.6" height="0.6" fill="#666"/>
<rect x="110.7" y="299.4" width="0.6" height="0.6" fill="#444"/>
<rect x="121.4" y="319.5" width="0.6" height="0.6" fill="#888"/>
<rect x="63.7" y="306.3" width="0.6" height="0.6" fill="#888"/>
<rect x="86.8" y="357.7" width="0.6" height="0.6" fill="#555"/>
<rect x="104.9" y="348.3" width="0.6" height="0.6" fill="#444"/>
<rect x="93.6" y="309.5" width="0.6" height="0.6" fill="#555"/>
<rect x="115.9" y="322.4" width="0.6" height="0.6" fill="#666"/>
<rect x="111.3" y="345.9" width="0.6" height="0.6" fill="#888"/>
<rect x="100.9" y="355.6" width="0.6" height="0.6" fill="#444"/>
<rect x="99.6" y="318.2" width="0.6" height="0.6" fill="#888"/>
<rect x="111.0" y="341.6" width="0.6" height="0.6" fill="#555"/>
<rect x="114.4" y="338.0" width="0.6" height="0.6" fill="#444"/>
<rect x="87.1" y="313.6" width="0.6" height="0.6" fill="#666"/>
<rect x="86.7" y="307.3" width="0.6" height="0.6" fill="#666"/>
<rect x="112.9" y="329.5" width="0.6" height="0.6" fill="#888"/>
<rect x="89.9" y="360.9" width="0.6" height="0.6" fill="#888"/>
<rect x="79.7" y="331.9" width="0.6" height="0.6" fill="#555"/>
<rect x="112.3" y="319.1" width="0.6" height="0.6" fill="#888"/>
<rect x="73.8" y="366.5" width="0.6" height="0.6" fill="#888"/>
<rect x="118.3" y="335.3" width="0.6" height="0.6" fill="#888"/>
<rect x="58.5" y="308.6" width="0.6" height="0.6" fill="#888"/>
<rect x="73.7" y="333.2" width="0.6" height="0.6" fill="#444"/>
<rect x="99.5" y="309.4" width="0.6" height="0.6" fill="#888"/>
<rect x="122.2" y="311.5" width="0.6" height="0.6" fill="#888"/>
<rect x="77.6" y="357.3" width="0.6" height="0.6" fill="#444"/>
<rect x="59.7" y="350.7" width="0.6" height="0.6" fill="#888"/>
<rect x="113.9" y="329.3" width="0.6" height="0.6" fill="#888"/>
<rect x="76.9" y="353.9" width="0.6" height="0.6" fill="#444"/>
<rect x="80.9" y="317.2" width="0.6" height="0.6" fill="#444"/>
<rect x="67.1" y="308.3" width="0.6" height="0.6" fill="#888"/>
<rect x="81.3" y="352.9" width="0.6" height="0.6" fill="#666"/>
<rect x="107.3" y="307.2" width="0.6" height="0.6" fill="#666"/>
<rect x="85.0" y="302.6" width="0.6" height="0.6" fill="#555"/>
<rect x="59.7" y="302.3" width="0.6" height="0.6" fill="#888"/>
<rect x="69.8" y="354.3" width="0.6" height="0.6" fill="#888"/>
<rect x="75.7" y="333.4" width="0.6" height="0.6" fill="#555"/>
<rect x="114.7" y="311.0" width="0.6" height="0.6" fill="#444"/>
<rect x="70.3" y="357.2" width="0.6" height="0.6" fill="#444"/>
<rect x="84.0" y="316.5" width="0.6" height="0.6" fill="#555"/>
<rect x="117.5" y="355.8" width="0.6" height="0.6" fill="#888"/>
<rect x="109.2" y="343.9" width="0.6" height="0.6" fill="#555"/>
<rect x="131.3" y="343.4" width="0.6" height="0.6" fill="#555"/>
<rect x="73.1" y="307.4" width="0.6" height="0.6" fill="#444"/>
<rect x="110.8" y="309.6" width="0.6" height="0.6" fill="#888"/>
<rect x="112.9" y="364.8" width="0.6" height="0.6" fill="#555"/>
<rect x="134.9" y="318.1" width="0.6" height="0.6" fill="#888"/>
<rect x="98.2" y="342.3" width="0.6" height="0.6" fill="#444"/>
<rect x="100.2" y="304.6" width="0.6" height="0.6" fill="#666"/>
<rect x="89.7" y="322.0" width="0.6" height="0.6" fill="#555"/>
<rect x="83.8" y="320.1" width="0.6" height="0.6" fill="#555"/>
<rect x="88.7" y="344.6" width="0.6" height="0.6" fill="#444"/>
<rect x="87.5" y="321.9" width="0.6" height="0.6" fill="#888"/>
<rect x="104.7" y="357.0" width="0.6" height="0.6" fill="#666"/>
<rect x="84.6" y="310.4" width="0.6" height="0.6" fill="#666"/>
<rect x="71.8" y="354.8" width="0.6" height="0.6" fill="#444"/>
<rect x="75.4" y="308.8" width="0.6" height="0.6" fill="#444"/>
<rect x="125.0" y="351.7" width="0.6" height="0.6" fill="#888"/>
<rect x="121.3" y="309.9" width="0.6" height="0.6" fill="#444"/>
<rect x="114.5" y="313.6" width="0.6" height="0.6" fill="#555"/>
<rect x="79.9" y="312.3" width="0.6" height="0.6" fill="#444"/>
<rect x="109.9" y="322.0" width="0.6" height="0.6" fill="#444"/>
<rect x="109.0" y="331.1" width="0.6" height="0.6" fill="#444"/>
<rect x="83.3" y="303.0" width="0.6" height="0.6" fill="#888"/>
<rect x="67.8" y="353.4" width="0.6" height="0.6" fill="#888"/>
<rect x="112.6" y="334.6" width="0.6" height="0.6" fill="#888"/>
<rect x="105.8" y="329.8" width="0.6" height="0.6" fill="#888"/>
<rect x="102.2" y="348.6" width="0.6" height="0.6" fill="#555"/>
<rect x="101.0" y="356.7" width="0.6" height="0.6" fill="#444"/>
<rect x="95.0" y="380.1" width="0.6" height="0.6" fill="#444"/>
<rect x="87.0" y="363.7" width="0.6" height="0.6" fill="#666"/>
<rect x="70.0" y="347.0" width="0.6" height="0.6" fill="#888"/>
<rect x="68.6" y="346.7" width="0.6" height="0.6" fill="#666"/>
<rect x="60.6" y="317.6" width="0.6" height="0.6" fill="#888"/>
<rect x="101.9" y="372.8" width="0.6" height="0.6" fill="#666"/>
<rect x="103.2" y="361.3" width="0.6" height="0.6" fill="#444"/>
<rect x="105.4" y="343.7" width="0.6" height="0.6" fill="#444"/>
<rect x="82.5" y="359.4" width="0.6" height="0.6" fill="#555"/>
<rect x="113.7" y="323.2" width="0.6" height="0.6" fill="#444"/>
<rect x="65.8" y="367.0" width="0.6" height="0.6" fill="#666"/>
<rect x="76.5" y="344.7" width="0.6" height="0.6" fill="#555"/>
<rect x="60.2" y="305.7" width="0.6" height="0.6" fill="#444"/>
<rect x="66.8" y="359.7" width="0.6" height="0.6" fill="#555"/>
<rect x="113.7" y="331.0" width="0.6" height="0.6" fill="#555"/>
<rect x="113.7" y="355.0" width="0.6" height="0.6" fill="#888"/>
<rect x="96.6" y="336.2" width="0.6" height="0.6" fill="#666"/>
<rect x="113.4" y="300.8" width="0.6" height="0.6" fill="#666"/>
<rect x="128.2" y="337.4" width="0.6" height="0.6" fill="#888"/>
<rect x="73.7" y="312.9" width="0.6" height="0.6" fill="#444"/>
<rect x="73.0" y="307.2" width="0.6" height="0.6" fill="#666"/>
<rect x="96.3" y="315.9" width="0.6" height="0.6" fill="#555"/>
<rect x="124.9" y="320.4" width="0.6" height="0.6" fill="#888"/>
<rect x="111.6" y="313.0" width="0.6" height="0.6" fill="#555"/>
<rect x="108.1" y="347.0" width="0.6" height="0.6" fill="#888"/>
<rect x="100.3" y="364.0" width="0.6" height="0.6" fill="#555"/>
<rect x="79.3" y="319.8" width="0.6" height="0.6" fill="#555"/>
<rect x="107.5" y="319.2" width="0.6" height="0.6" fill="#666"/>
<rect x="107.8" y="326.6" width="0.6" height="0.6" fill="#888"/>
<rect x="108.5" y="299.9" width="0.6" height="0.6" fill="#666"/>
<rect x="111.1" y="317.3" width="0.6" height="0.6" fill="#888"/>
<rect x="112.2" y="342.4" width="0.6" height="0.6" fill="#555"/>
<rect x="77.1" y="314.0" width="0.6" height="0.6" fill="#888"/>
<rect x="106.0" y="355.4" width="0.6" height="0.6" fill="#444"/>
<rect x="70.0" y="309.2" width="0.6" height="0.6" fill="#666"/>
<rect x="102.6" y="359.0" width="0.6" height="0.6" fill="#666"/>
<rect x="101.2" y="340.0" width="0.6" height="0.6" fill="#888"/>
<rect x="65.3" y="368.4" width="0.6" height="0.6" fill="#666"/>
<rect x="96.8" y="339.9" width="0.6" height="0.6" fill="#444"/>
<rect x="104.3" y="325.2" width="0.6" height="0.6" fill="#888"/>
<rect x="112.1" y="312.6" width="0.6" height="0.6" fill="#555"/>
<rect x="75.5" y="320.2" width="0.6" height="0.6" fill="#888"/>
<rect x="73.3" y="314.8" width="0.6" height="0.6" fill="#666"/>
<rect x="105.1" y="327.6" width="0.6" height="0.6" fill="#666"/>
<rect x="82.2" y="301.0" width="0.6" height="0.6" fill="#666"/>
<rect x="82.1" y="340.1" width="0.6" height="0.6" fill="#666"/>
<rect x="55.7" y="330.8" width="0.6" height="0.6" fill="#555"/>
<rect x="85.8" y="366.8" width="0.6" height="0.6" fill="#666"/>
<rect x="98.5" y="348.0" width="0.6" height="0.6" fill="#666"/>
<rect x="109.2" y="315.2" width="0.6" height="0.6" fill="#555"/>
<rect x="97.8" y="345.8" width="0.6" height="0.6" fill="#888"/>
<rect x="64.0" y="341.1" width="0.6" height="0.6" fill="#555"/>
<rect x="58.5" y="335.3" width="0.6" height="0.6" fill="#888"/>
<rect x="73.5" y="314.7" width="0.6" height="0.6" fill="#444"/>
<rect x="127.1" y="324.4" width="0.6" height="0.6" fill="#666"/>
<rect x="81.1" y="364.7" width="0.6" height="0.6" fill="#444"/>
<rect x="118.2" y="314.2" width="0.6" height="0.6" fill="#444"/>
<rect x="94.7" y="335.8" width="0.6" height="0.6" fill="#555"/>
<rect x="84.9" y="378.6" width="0.6" height="0.6" fill="#666"/>
<rect x="77.5" y="299.2" width="0.6" height="0.6" fill="#444"/>
<rect x="126.5" y="322.4" width="0.6" height="0.6" fill="#888"/>
<rect x="110.0" y="305.1" width="0.6" height="0.6" fill="#555"/>
<rect x="117.4" y="348.1" width="0.6" height="0.6" fill="#555"/>
<rect x="118.2" y="317.4" width="0.6" height="0.6" fill="#444"/>
<rect x="105.4" y="329.4" width="0.6" height="0.6" fill="#666"/>
<rect x="66.8" y="336.2" width="0.6" height="0.6" fill="#444"/>
<rect x="68.7" y="317.0" width="0.6" height="0.6" fill="#555"/>
<rect x="118.7" y="327.3" width="0.6" height="0.6" fill="#555"/>
<rect x="86.0" y="324.9" width="0.6" height="0.6" fill="#888"/>
<rect x="106.2" y="349.4" width="0.6" height="0.6" fill="#888"/>
<rect x="122.6" y="353.5" width="0.6" height="0.6" fill="#666"/>
<rect x="74.1" y="303.1" width="0.6" height="0.6" fill="#888"/>
<rect x="71.1" y="306.2" width="0.6" height="0.6" fill="#666"/>
<rect x="65.0" y="361.6" width="0.6" height="0.6" fill="#444"/>
<rect x="109.5" y="374.5" width="0.6" height="0.6" fill="#555"/>
<rect x="94.3" y="349.0" width="0.6" height="0.6" fill="#888"/>
<rect x="76.0" y="316.8" width="0.6" height="0.6" fill="#888"/>
<rect x="112.2" y="308.9" width="0.6" height="0.6" fill="#444"/>
<rect x="128.0" y="349.2" width="0.6" height="0.6" fill="#555"/>
<rect x="99.7" y="349.7" width="0.6" height="0.6" fill="#444"/>
<rect x="84.9" y="304.9" width="0.6" height="0.6" fill="#444"/>
<rect x="124.4" y="328.7" width="0.6" height="0.6" fill="#666"/>
<rect x="84.7" y="322.1" width="0.6" height="0.6" fill="#444"/>
<rect x="109.1" y="306.2" width="0.6" height="0.6" fill="#666"/>
<rect x="79.6" y="311.2" width="0.6" height="0.6" fill="#444"/>
<rect x="82.5" y="322.8" width="0.6" height="0.6" fill="#666"/>
<rect x="107.6" y="336.7" width="0.6" height="0.6" fill="#888"/>
<rect x="114.4" y="312.3" width="0.6" height="0.6" fill="#444"/>
<rect x="67.8" y="340.3" width="0.6" height="0.6" fill="#555"/>
<rect x="101.4" y="335.4" width="0.6" height="0.6" fill="#444"/>
<rect x="90.4" y="310.4" width="0.6" height="0.6" fill="#666"/>
<rect x="85.3" y="349.4" width="0.6" height="0.6" fill="#555"/>
<rect x="113.7" y="312.9" width="0.6" height="0.6" fill="#444"/>
<rect x="58.0" y="297.2" width="0.6" height="0.6" fill="#444"/>
<rect x="118.7" y="316.7" width="0.6" height="0.6" fill="#888"/>
<rect x="114.7" y="371.2" width="0.6" height="0.6" fill="#666"/>
<rect x="74.5" y="341.1" width="0.6" height="0.6" fill="#666"/>
<rect x="124.9" y="354.8" width="0.6" height="0.6" fill="#555"/>
<rect x="98.4" y="339.3" width="0.6" height="0.6" fill="#444"/>
<rect x="115.5" y="342.2" width="0.6" height="0.6" fill="#444"/>
<rect x="63.8" y="370.8" width="0.6" height="0.6" fill="#555"/>
<rect x="108.7" y="344.0" width="0.6" height="0.6" fill="#444"/>
<rect x="59.6" y="335.3" width="0.6" height="0.6" fill="#555"/>
<rect x="92.3" y="325.5" width="0.6" height="0.6" fill="#888"/>
<rect x="107.2" y="335.9" width="0.6" height="0.6" fill="#444"/>
<rect x="77.4" y="318.7" width="0.6" height="0.6" fill="#888"/>
<rect x="113.8" y="338.9" width="0.6" height="0.6" fill="#666"/>
<rect x="85.4" y="362.8" width="0.6" height="0.6" fill="#666"/>
<rect x="63.5" y="333.3" width="0.6" height="0.6" fill="#666"/>
<rect x="113.9" y="343.0" width="0.6" height="0.6" fill="#888"/>
<rect x="121.7" y="323.3" width="0.6" height="0.6" fill="#444"/>
<rect x="86.0" y="376.4" width="0.6" height="0.6" fill="#666"/>
<rect x="120.5" y="303.2" width="0.6" height="0.6" fill="#555"/>
<rect x="83.1" y="361.7" width="0.6" height="0.6" fill="#555"/>
<rect x="113.0" y="298.1" width="0.6" height="0.6" fill="#666"/>
<rect x="81.3" y="357.3" width="0.6" height="0.6" fill="#666"/>
<rect x="88.4" y="329.4" width="0.6" height="0.6" fill="#555"/>
<rect x="108.5" y="362.1" width="0.6" height="0.6" fill="#444"/>
<rect x="99.9" y="305.9" width="0.6" height="0.6" fill="#888"/>
<rect x="83.4" y="338.8" width="0.6" height="0.6" fill="#666"/>
<rect x="82.0" y="306.1" width="0.6" height="0.6" fill="#888"/>
<rect x="63.2" y="351.1" width="0.6" height="0.6" fill="#444"/>
<rect x="61.9" y="330.8" width="0.6" height="0.6" fill="#888"/>
<rect x="91.6" y="334.8" width="0.6" height="0.6" fill="#444"/>
<rect x="67.6" y="351.6" width="0.6" height="0.6" fill="#444"/>
<rect x="119.2" y="306.4" width="0.6" height="0.6" fill="#666"/>
<rect x="114.3" y="305.8" width="0.6" height="0.6" fill="#555"/>
<rect x="123.7" y="300.0" width="0.6" height="0.6" fill="#888"/>
<rect x="73.1" y="352.7" width="0.6" height="0.6" fill="#888"/>
<rect x="92.9" y="353.3" width="0.6" height="0.6" fill="#444"/>
<rect x="101.0" y="310.7" width="0.6" height="0.6" fill="#444"/>
<rect x="103.8" y="308.6" width="0.6" height="0.6" fill="#555"/>
<rect x="117.0" y="307.3" width="0.6" height="0.6" fill="#666"/>
<rect x="90.7" y="332.5" width="0.6" height="0.6" fill="#888"/>
<rect x="106.5" y="334.2" width="0.6" height="0.6" fill="#444"/>
<rect x="129.1" y="351.2" width="0.6" height="0.6" fill="#555"/>
<rect x="92.4" y="316.6" width="0.6" height="0.6" fill="#666"/>
<rect x="110.4" y="365.0" width="0.6" height="0.6" fill="#444"/>
<rect x="81.7" y="357.9" width="0.6" height="0.6" fill="#888"/>
<rect x="94.3" y="356.6" width="0.6" height="0.6" fill="#666"/>
<rect x="102.3" y="323.7" width="0.6" height="0.6" fill="#666"/>
<rect x="123.4" y="370.4" width="0.6" height="0.6" fill="#444"/>
<rect x="109.6" y="316.0" width="0.6" height="0.6" fill="#666"/>
<rect x="133.8" y="331.3" width="0.6" height="0.6" fill="#555"/>
<rect x="107.2" y="327.7" width="0.6" height="0.6" fill="#888"/>
<rect x="70.6" y="359.4" width="0.6" height="0.6" fill="#888"/>
<rect x="78.8" y="311.7" width="0.6" height="0.6" fill="#555"/>
<rect x="104.9" y="373.7" width="0.6" height="0.6" fill="#888"/>
<rect x="70.1" y="355.4" width="0.6" height="0.6" fill="#888"/>
<rect x="76.9" y="367.2" width="0.6" height="0.6" fill="#888"/>
<rect x="83.1" y="346.1" width="0.6" height="0.6" fill="#444"/>
<rect x="96.4" y="305.1" width="0.6" height="0.6" fill="#555"/>
<rect x="125.1" y="362.5" width="0.6" height="0.6" fill="#888"/>
<rect x="89.4" y="358.3" width="0.6" height="0.6" fill="#666"/>
<rect x="70.7" y="320.3" width="0.6" height="0.6" fill="#444"/>
<rect x="119.0" y="340.6" width="0.6" height="0.6" fill="#444"/>
<rect x="75.7" y="343.9" width="0.6" height="0.6" fill="#555"/>
<rect x="86.5" y="304.7" width="0.6" height="0.6" fill="#666"/>
<rect x="81.9" y="355.9" width="0.6" height="0.6" fill="#888"/>
<rect x="94.9" y="353.7" width="0.6" height="0.6" fill="#666"/>
<rect x="115.2" y="348.9" width="0.6" height="0.6" fill="#444"/>
<rect x="112.2" y="311.8" width="0.6" height="0.6" fill="#666"/>
<rect x="104.6" y="305.9" width="0.6" height="0.6" fill="#666"/>
<rect x="91.3" y="351.3" width="0.6" height="0.6" fill="#555"/>
<rect x="123.4" y="331.1" width="0.6" height="0.6" fill="#888"/>
<rect x="83.1" y="326.9" width="0.6" height="0.6" fill="#555"/>
<rect x="58.0" y="314.6" width="0.6" height="0.6" fill="#666"/>
<rect x="113.4" y="353.5" width="0.6" height="0.6" fill="#888"/>
<rect x="72.6" y="303.8" width="0.6" height="0.6" fill="#444"/>
<rect x="98.8" y="335.7" width="0.6" height="0.6" fill="#444"/>
<rect x="72.3" y="301.0" width="0.6" height="0.6" fill="#888"/>
<rect x="122.0" y="324.6" width="0.6" height="0.6" fill="#444"/>
<rect x="85.2" y="367.2" width="0.6" height="0.6" fill="#555"/>
<rect x="75.4" y="340.7" width="0.6" height="0.6" fill="#444"/>
<rect x="121.3" y="316.4" width="0.6" height="0.6" fill="#666"/>
<rect x="77.9" y="319.2" width="0.6" height="0.6" fill="#444"/>
<rect x="98.5" y="306.3" width="0.6" height="0.6" fill="#888"/>
<rect x="63.1" y="306.2" width="0.6" height="0.6" fill="#666"/>
<rect x="128.5" y="363.9" width="0.6" height="0.6" fill="#666"/>
<rect x="89.7" y="314.1" width="0.6" height="0.6" fill="#888"/>
<rect x="99.0" y="317.2" width="0.6" height="0.6" fill="#666"/>
<rect x="121.1" y="360.7" width="0.6" height="0.6" fill="#555"/>
<rect x="93.2" y="299.5" width="0.6" height="0.6" fill="#555"/>
<rect x="104.0" y="328.0" width="0.6" height="0.6" fill="#444"/>
<rect x="89.4" y="342.6" width="0.6" height="0.6" fill="#888"/>
<rect x="80.1" y="331.8" width="0.6" height="0.6" fill="#888"/>
<rect x="115.7" y="337.1" width="0.6" height="0.6" fill="#666"/>
<rect x="99.7" y="327.3" width="0.6" height="0.6" fill="#555"/>
<rect x="118.3" y="342.6" width="0.6" height="0.6" fill="#666"/>
<rect x="62.8" y="312.4" width="0.6" height="0.6" fill="#444"/>
<rect x="106.8" y="314.9" width="0.6" height="0.6" fill="#555"/>
<rect x="99.1" y="310.2" width="0.6" height="0.6" fill="#444"/>
<rect x="71.1" y="306.9" width="0.6" height="0.6" fill="#888"/>
<rect x="91.1" y="340.4" width="0.6" height="0.6" fill="#444"/>
<rect x="105.6" y="311.2" width="0.6" height="0.6" fill="#444"/>
<rect x="64.1" y="372.4" width="0.6" height="0.6" fill="#444"/>
<rect x="108.5" y="307.1" width="0.6" height="0.6" fill="#888"/>
<rect x="65.1" y="342.3" width="0.6" height="0.6" fill="#555"/>
<rect x="87.0" y="374.0" width="0.6" height="0.6" fill="#888"/>
<rect x="105.0" y="327.1" width="0.6" height="0.6" fill="#555"/>
<rect x="111.1" y="305.5" width="0.6" height="0.6" fill="#888"/>
<rect x="79.8" y="348.0" width="0.6" height="0.6" fill="#666"/>
<rect x="75.7" y="369.5" width="0.6" height="0.6" fill="#555"/>
<rect x="61.3" y="318.0" width="0.6" height="0.6" fill="#666"/>
<rect x="65.7" y="362.6" width="0.6" height="0.6" fill="#666"/>
<rect x="71.0" y="343.3" width="0.6" height="0.6" fill="#444"/>
<rect x="79.9" y="366.5" width="0.6" height="0.6" fill="#555"/>
<rect x="104.7" y="366.2" width="0.6" height="0.6" fill="#666"/>
<rect x="75.7" y="311.1" width="0.6" height="0.6" fill="#555"/>
<rect x="59.2" y="370.0" width="0.6" height="0.6" fill="#888"/>
<rect x="99.3" y="338.7" width="0.6" height="0.6" fill="#555"/>
<rect x="106.3" y="305.8" width="0.6" height="0.6" fill="#666"/>
<rect x="79.8" y="361.3" width="0.6" height="0.6" fill="#444"/>
<rect x="105.2" y="339.6" width="0.6" height="0.6" fill="#555"/>
<rect x="111.7" y="366.7" width="0.6" height="0.6" fill="#444"/>
<rect x="57.3" y="356.9" width="0.6" height="0.6" fill="#888"/>
<rect x="58.2" y="364.1" width="0.6" height="0.6" fill="#555"/>
<rect x="109.8" y="346.3" width="0.6" height="0.6" fill="#555"/>
<rect x="65.4" y="369.7" width="0.6" height="0.6" fill="#666"/>
<rect x="83.8" y="354.1" width="0.6" height="0.6" fill="#888"/>
<rect x="82.7" y="328.2" width="0.6" height="0.6" fill="#888"/>
<rect x="99.2" y="317.9" width="0.6" height="0.6" fill="#444"/>
<rect x="76.8" y="320.6" width="0.6" height="0.6" fill="#888"/>
<rect x="92.6" y="318.9" width="0.6" height="0.6" fill="#555"/>
<rect x="71.9" y="342.0" width="0.6" height="0.6" fill="#555"/>
<rect x="107.4" y="351.8" width="0.6" height="0.6" fill="#555"/>
<rect x="82.4" y="320.2" width="0.6" height="0.6" fill="#444"/>
<rect x="95.1" y="334.8" width="0.6" height="0.6" fill="#555"/>
<rect x="74.4" y="354.3" width="0.6" height="0.6" fill="#888"/>
<rect x="113.9" y="334.1" width="0.6" height="0.6" fill="#888"/>
<rect x="92.2" y="348.2" width="0.6" height="0.6" fill="#666"/>
<rect x="94.9" y="305.3" width="0.6" height="0.6" fill="#555"/>
<rect x="68.2" y="340.0" width="0.6" height="0.6" fill="#666"/>
<rect x="92.9" y="355.6" width="0.6" height="0.6" fill="#444"/>
<rect x="87.1" y="351.2" width="0.6" height="0.6" fill="#444"/>
<rect x="114.7" y="342.1" width="0.6" height="0.6" fill="#444"/>
<rect x="84.9" y="332.5" width="0.6" height="0.6" fill="#444"/>
<rect x="117.5" y="362.0" width="0.6" height="0.6" fill="#888"/>
<rect x="122.6" y="328.8" width="0.6" height="0.6" fill="#666"/>
<rect x="84.8" y="349.9" width="0.6" height="0.6" fill="#666"/>
<rect x="87.1" y="344.7" width="0.6" height="0.6" fill="#444"/>
<rect x="91.5" y="339.0" width="0.6" height="0.6" fill="#444"/>
<rect x="109.6" y="337.2" width="0.6" height="0.6" fill="#666"/>
<rect x="74.6" y="362.3" width="0.6" height="0.6" fill="#444"/>
<rect x="117.1" y="339.9" width="0.6" height="0.6" fill="#666"/>
<rect x="87.0" y="349.0" width="0.6" height="0.6" fill="#555"/>
<rect x="102.5" y="340.1" width="0.6" height="0.6" fill="#666"/>
<rect x="128.6" y="315.8" width="0.6" height="0.6" fill="#666"/>
<rect x="87.8" y="335.6" width="0.6" height="0.6" fill="#888"/>
<rect x="109.2" y="335.6" width="0.6" height="0.6" fill="#666"/>
<rect x="54.8" y="366.1" width="0.6" height="0.6" fill="#444"/>
<rect x="114.2" y="353.1" width="0.6" height="0.6" fill="#888"/>
<rect x="94.8" y="353.5" width="0.6" height="0.6" fill="#555"/>
<rect x="101.1" y="359.7" width="0.6" height="0.6" fill="#555"/>
<rect x="83.0" y="342.1" width="0.6" height="0.6" fill="#555"/>
<rect x="111.9" y="316.3" width="0.6" height="0.6" fill="#444"/>
<rect x="125.5" y="313.7" width="0.6" height="0.6" fill="#666"/>
<rect x="120.0" y="349.8" width="0.6" height="0.6" fill="#666"/>
<rect x="69.1" y="351.6" width="0.6" height="0.6" fill="#666"/>
<rect x="64.5" y="316.4" width="0.6" height="0.6" fill="#555"/>
<rect x="81.2" y="337.7" width="0.6" height="0.6" fill="#555"/>
<rect x="91.9" y="364.6" width="0.6" height="0.6" fill="#666"/>
<rect x="108.8" y="329.8" width="0.6" height="0.6" fill="#555"/>
<rect x="83.9" y="355.0" width="0.6" height="0.6" fill="#666"/>
<rect x="78.1" y="302.5" width="0.6" height="0.6" fill="#444"/>
<rect x="87.4" y="375.7" width="0.6" height="0.6" fill="#555"/>
<rect x="76.4" y="307.3" width="0.6" height="0.6" fill="#444"/>
<rect x="76.4" y="356.8" width="0.6" height="0.6" fill="#666"/>
<rect x="67.0" y="345.9" width="0.6" height="0.6" fill="#888"/>
<rect x="114.3" y="330.2" width="0.6" height="0.6" fill="#888"/>
<rect x="71.8" y="318.9" width="0.6" height="0.6" fill="#555"/>
<rect x="127.3" y="318.0" width="0.6" height="0.6" fill="#666"/>
<rect x="96.0" y="337.7" width="0.6" height="0.6" fill="#888"/>
<rect x="127.9" y="346.4" width="0.6" height="0.6" fill="#555"/>
<rect x="116.7" y="307.4" width="0.6" height="0.6" fill="#444"/>
<rect x="124.6" y="320.8" width="0.6" height="0.6" fill="#666"/>
<rect x="116.5" y="343.3" width="0.6" height="0.6" fill="#666"/>
<rect x="90.3" y="334.5" width="0.6" height="0.6" fill="#444"/>
<rect x="70.4" y="313.8" width="0.6" height="0.6" fill="#666"/>
<rect x="88.1" y="331.5" width="0.6" height="0.6" fill="#555"/>
<rect x="95.2" y="322.8" width="0.6" height="0.6" fill="#444"/>
<rect x="115.2" y="327.4" width="0.6" height="0.6" fill="#444"/>
<rect x="102.1" y="327.8" width="0.6" height="0.6" fill="#666"/>
<rect x="121.7" y="345.6" width="0.6" height="0.6" fill="#888"/>
<rect x="125.9" y="356.3" width="0.6" height="0.6" fill="#555"/>
<rect x="82.6" y="325.8" width="0.6" height="0.6" fill="#444"/>
<rect x="82.3" y="347.0" width="0.6" height="0.6" fill="#888"/>
<rect x="112.8" y="308.2" width="0.6" height="0.6" fill="#555"/>
<rect x="86.4" y="334.1" width="0.6" height="0.6" fill="#666"/>
<rect x="108.8" y="338.0" width="0.6" height="0.6" fill="#666"/>
<rect x="78.6" y="321.4" width="0.6" height="0.6" fill="#666"/>
<rect x="96.4" y="337.2" width="0.6" height="0.6" fill="#444"/>
<rect x="111.6" y="315.0" width="0.6" height="0.6" fill="#555"/>
<rect x="114.5" y="355.4" width="0.6" height="0.6" fill="#555"/>
<rect x="64.3" y="304.0" width="0.6" height="0.6" fill="#666"/>
<rect x="121.3" y="360.0" width="0.6" height="0.6" fill="#888"/>
<rect x="99.3" y="357.8" width="0.6" height="0.6" fill="#666"/>
<rect x="108.9" y="348.8" width="0.6" height="0.6" fill="#888"/>
<rect x="73.8" y="310.1" width="0.6" height="0.6" fill="#888"/>
<rect x="77.9" y="360.3" width="0.6" height="0.6" fill="#444"/>
<rect x="60.9" y="312.2" width="0.6" height="0.6" fill="#888"/>
<rect x="79.9" y="310.3" width="0.6" height="0.6" fill="#555"/>
<rect x="70.0" y="296.3" width="0.6" height="0.6" fill="#888"/>
<rect x="63.1" y="310.4" width="0.6" height="0.6" fill="#666"/>
<rect x="110.3" y="357.3" width="0.6" height="0.6" fill="#444"/>
<rect x="70.5" y="314.7" width="0.6" height="0.6" fill="#888"/>
<rect x="127.2" y="356.1" width="0.6" height="0.6" fill="#444"/>
<rect x="118.0" y="329.2" width="0.6" height="0.6" fill="#666"/>
<rect x="60.6" y="327.0" width="0.6" height="0.6" fill="#666"/>
<rect x="75.7" y="305.8" width="0.6" height="0.6" fill="#888"/>
<rect x="63.2" y="340.8" width="0.6" height="0.6" fill="#666"/>
<rect x="59.1" y="347.5" width="0.6" height="0.6" fill="#888"/>
<rect x="121.8" y="314.0" width="0.6" height="0.6" fill="#555"/>
<rect x="105.4" y="326.4" width="0.6" height="0.6" fill="#555"/>
<rect x="126.2" y="341.3" width="0.6" height="0.6" fill="#444"/>
<rect x="79.1" y="312.7" width="0.6" height="0.6" fill="#555"/>
<rect x="92.6" y="311.3" width="0.6" height="0.6" fill="#666"/>
<rect x="111.8" y="313.1" width="0.6" height="0.6" fill="#555"/>
<rect x="82.2" y="310.7" width="0.6" height="0.6" fill="#555"/>
<rect x="115.1" y="342.9" width="0.6" height="0.6" fill="#666"/>
<rect x="96.0" y="336.5" width="0.6" height="0.6" fill="#555"/>
<rect x="108.7" y="321.2" width="0.6" height="0.6" fill="#555"/>
<rect x="71.1" y="315.0" width="0.6" height="0.6" fill="#666"/>
<rect x="108.9" y="327.0" width="0.6" height="0.6" fill="#444"/>
<rect x="107.5" y="365.0" width="0.6" height="0.6" fill="#555"/>
<rect x="69.9" y="331.6" width="0.6" height="0.6" fill="#888"/>
<rect x="101.5" y="337.2" width="0.6" height="0.6" fill="#666"/>
<rect x="112.3" y="302.8" width="0.6" height="0.6" fill="#666"/>
<rect x="105.8" y="359.1" width="0.6" height="0.6" fill="#555"/>
<rect x="70.8" y="368.2" width="0.6" height="0.6" fill="#888"/>
<rect x="90.4" y="319.5" width="0.6" height="0.6" fill="#444"/>
<rect x="118.3" y="304.6" width="0.6" height="0.6" fill="#666"/>
<rect x="89.9" y="365.9" width="0.6" height="0.6" fill="#555"/>
<rect x="109.9" y="310.7" width="0.6" height="0.6" fill="#444"/>
<rect x="107.1" y="312.8" width="0.6" height="0.6" fill="#666"/>
<rect x="100.5" y="333.1" width="0.6" height="0.6" fill="#444"/>
<rect x="104.0" y="339.7" width="0.6" height="0.6" fill="#555"/>
<rect x="109.7" y="348.9" width="0.6" height="0.6" fill="#666"/>
<rect x="91.0" y="335.4" width="0.6" height="0.6" fill="#444"/>
<rect x="73.4" y="353.3" width="0.6" height="0.6" fill="#666"/>
<rect x="94.7" y="351.7" width="0.6" height="0.6" fill="#444"/>
<rect x="100.7" y="328.3" width="0.6" height="0.6" fill="#888"/>
<rect x="77.6" y="305.4" width="0.6" height="0.6" fill="#444"/>
<rect x="120.2" y="354.1" width="0.6" height="0.6" fill="#888"/>
<rect x="125.8" y="348.6" width="0.6" height="0.6" fill="#444"/>
<rect x="62.4" y="370.0" width="0.6" height="0.6" fill="#444"/>
<rect x="85.1" y="323.8" width="0.6" height="0.6" fill="#666"/>
<rect x="140.7" y="349.2" width="0.6" height="0.6" fill="#555"/>
<rect x="84.7" y="310.3" width="0.6" height="0.6" fill="#888"/>
<rect x="107.5" y="310.3" width="0.6" height="0.6" fill="#555"/>
<rect x="108.2" y="334.8" width="0.6" height="0.6" fill="#888"/>
<rect x="102.8" y="330.7" width="0.6" height="0.6" fill="#666"/>
<rect x="87.0" y="345.5" width="0.6" height="0.6" fill="#444"/>
<rect x="63.4" y="305.1" width="0.6" height="0.6" fill="#555"/>
<rect x="127.5" y="336.4" width="0.6" height="0.6" fill="#555"/>
<rect x="81.5" y="337.2" width="0.6" height="0.6" fill="#444"/>
<rect x="59.8" y="349.7" width="0.6" height="0.6" fill="#666"/>
<rect x="97.0" y="348.0" width="0.6" height="0.6" fill="#888"/>
<rect x="109.0" y="359.6" width="0.6" height="0.6" fill="#888"/>
<rect x="62.9" y="366.8" width="0.6" height="0.6" fill="#666"/>
<rect x="90.7" y="315.9" width="0.6" height="0.6" fill="#888"/>
<rect x="104.1" y="370.0" width="0.6" height="0.6" fill="#888"/>
<rect x="60.4" y="337.1" width="0.6" height="0.6" fill="#444"/>
<rect x="95.1" y="327.7" width="0.6" height="0.6" fill="#666"/>
<rect x="105.4" y="323.0" width="0.6" height="0.6" fill="#888"/>
<rect x="115.8" y="329.2" width="0.6" height="0.6" fill="#666"/>
<rect x="108.9" y="370.8" width="0.6" height="0.6" fill="#888"/>
<rect x="82.6" y="332.4" width="0.6" height="0.6" fill="#555"/>
<rect x="64.9" y="330.5" width="0.6" height="0.6" fill="#555"/>
<rect x="107.2" y="324.8" width="0.6" height="0.6" fill="#888"/>
<rect x="86.1" y="320.1" width="0.6" height="0.6" fill="#555"/>
<rect x="83.3" y="327.4" width="0.6" height="0.6" fill="#888"/>
<rect x="103.8" y="308.2" width="0.6" height="0.6" fill="#888"/>
<rect x="89.7" y="320.6" width="0.6" height="0.6" fill="#666"/>
<rect x="61.8" y="365.4" width="0.6" height="0.6" fill="#555"/>
<rect x="129.2" y="325.8" width="0.6" height="0.6" fill="#888"/>
<rect x="112.9" y="355.7" width="0.6" height="0.6" fill="#444"/>
<rect x="109.4" y="332.6" width="0.6" height="0.6" fill="#444"/>
<rect x="109.2" y="314.4" width="0.6" height="0.6" fill="#888"/>
<rect x="110.4" y="332.4" width="0.6" height="0.6" fill="#444"/>
<rect x="85.4" y="327.8" width="0.6" height="0.6" fill="#888"/>
<rect x="121.1" y="342.5" width="0.6" height="0.6" fill="#444"/>
<rect x="97.3" y="339.2" width="0.6" height="0.6" fill="#888"/>
<rect x="124.2" y="345.5" width="0.6" height="0.6" fill="#888"/>
<rect x="94.3" y="303.2" width="0.6" height="0.6" fill="#444"/>
<rect x="82.9" y="363.1" width="0.6" height="0.6" fill="#555"/>
<rect x="111.9" y="312.2" width="0.6" height="0.6" fill="#888"/>
<rect x="94.1" y="344.5" width="0.6" height="0.6" fill="#888"/>
<rect x="87.6" y="310.4" width="0.6" height="0.6" fill="#444"/>
<rect x="62.9" y="362.5" width="0.6" height="0.6" fill="#666"/>
<rect x="107.5" y="332.4" width="0.6" height="0.6" fill="#888"/>
<rect x="111.7" y="342.6" width="0.6" height="0.6" fill="#888"/>
<rect x="100.6" y="333.4" width="0.6" height="0.6" fill="#888"/>
<rect x="60.6" y="349.8" width="0.6" height="0.6" fill="#888"/>
<rect x="57.8" y="311.1" width="0.6" height="0.6" fill="#888"/>
<rect x="68.2" y="306.3" width="0.6" height="0.6" fill="#444"/>
<rect x="84.9" y="326.8" width="0.6" height="0.6" fill="#666"/>
<rect x="74.4" y="359.6" width="0.6" height="0.6" fill="#666"/>
<rect x="78.8" y="367.8" width="0.6" height="0.6" fill="#555"/>
<rect x="70.1" y="330.1" width="0.6" height="0.6" fill="#888"/>
<rect x="82.6" y="334.0" width="0.6" height="0.6" fill="#444"/>
<rect x="77.5" y="308.2" width="0.6" height="0.6" fill="#555"/>
<rect x="110.2" y="352.4" width="0.6" height="0.6" fill="#555"/>
<rect x="95.2" y="334.4" width="0.6" height="0.6" fill="#666"/>
<rect x="99.8" y="311.0" width="0.6" height="0.6" fill="#666"/>
<rect x="116.4" y="321.7" width="0.6" height="0.6" fill="#888"/>
<rect x="78.4" y="351.6" width="0.6" height="0.6" fill="#666"/>
<rect x="108.8" y="332.6" width="0.6" height="0.6" fill="#666"/>
<rect x="112.4" y="357.8" width="0.6" height="0.6" fill="#555"/>
<rect x="114.0" y="357.8" width="0.6" height="0.6" fill="#555"/>
<rect x="124.6" y="315.4" width="0.6" height="0.6" fill="#888"/>
<rect x="80.3" y="304.7" width="0.6" height="0.6" fill="#555"/>
<rect x="121.6" y="341.5" width="0.6" height="0.6" fill="#444"/>
<rect x="125.5" y="374.4" width="0.6" height="0.6" fill="#666"/>
<rect x="103.3" y="341.9" width="0.6" height="0.6" fill="#444"/>
<rect x="105.2" y="346.0" width="0.6" height="0.6" fill="#555"/>
<rect x="86.6" y="340.3" width="0.6" height="0.6" fill="#888"/>
<rect x="100.0" y="331.4" width="0.6" height="0.6" fill="#444"/>
<rect x="67.8" y="309.9" width="0.6" height="0.6" fill="#555"/>
<rect x="113.6" y="336.4" width="0.6" height="0.6" fill="#888"/>
<rect x="105.0" y="318.0" width="0.6" height="0.6" fill="#666"/>
<rect x="98.5" y="345.2" width="0.6" height="0.6" fill="#666"/>
<rect x="106.1" y="306.8" width="0.6" height="0.6" fill="#444"/>
<rect x="113.2" y="327.7" width="0.6" height="0.6" fill="#666"/>
<rect x="73.7" y="322.9" width="0.6" height="0.6" fill="#666"/>
<rect x="77.2" y="357.5" width="0.6" height="0.6" fill="#888"/>
<rect x="112.1" y="313.6" width="0.6" height="0.6" fill="#555"/>
<rect x="72.5" y="336.7" width="0.6" height="0.6" fill="#888"/>
<rect x="64.8" y="366.2" width="0.6" height="0.6" fill="#666"/>
<rect x="60.7" y="362.2" width="0.6" height="0.6" fill="#666"/>
<rect x="109.6" y="332.0" width="0.6" height="0.6" fill="#888"/>
<rect x="112.0" y="335.4" width="0.6" height="0.6" fill="#444"/>
<rect x="110.5" y="334.2" width="0.6" height="0.6" fill="#888"/>
<rect x="101.5" y="351.5" width="0.6" height="0.6" fill="#555"/>
<rect x="113.2" y="330.1" width="0.6" height="0.6" fill="#555"/>
<rect x="57.5" y="313.0" width="0.6" height="0.6" fill="#666"/>
<rect x="118.7" y="306.9" width="0.6" height="0.6" fill="#888"/>
<rect x="105.4" y="355.6" width="0.6" height="0.6" fill="#888"/>
<rect x="84.1" y="302.9" width="0.6" height="0.6" fill="#888"/>
<rect x="120.5" y="302.0" width="0.6" height="0.6" fill="#888"/>
<rect x="81.6" y="346.9" width="0.6" height="0.6" fill="#666"/>
<rect x="78.6" y="305.2" width="0.6" height="0.6" fill="#666"/>
<rect x="93.4" y="332.7" width="0.6" height="0.6" fill="#666"/>
<rect x="73.4" y="307.3" width="0.6" height="0.6" fill="#444"/>
<rect x="54.5" y="374.9" width="0.6" height="0.6" fill="#555"/>
<rect x="84.1" y="313.1" width="0.6" height="0.6" fill="#444"/>
<rect x="62.4" y="336.4" width="0.6" height="0.6" fill="#888"/>
<rect x="100.2" y="354.5" width="0.6" height="0.6" fill="#555"/>
<rect x="104.2" y="348.4" width="0.6" height="0.6" fill="#666"/>
<rect x="122.0" y="364.0" width="0.6" height="0.6" fill="#888"/>
<rect x="81.0" y="323.8" width="0.6" height="0.6" fill="#888"/>
<rect x="113.8" y="364.9" width="0.6" height="0.6" fill="#444"/>
<rect x="97.0" y="349.0" width="0.6" height="0.6" fill="#888"/>
<rect x="89.6" y="337.1" width="0.6" height="0.6" fill="#555"/>
<rect x="59.8" y="302.5" width="0.6" height="0.6" fill="#666"/>
<rect x="89.2" y="308.9" width="0.6" height="0.6" fill="#888"/>
<rect x="87.2" y="321.4" width="0.6" height="0.6" fill="#444"/>
<rect x="111.4" y="359.7" width="0.6" height="0.6" fill="#888"/>
<rect x="58.1" y="365.0" width="0.6" height="0.6" fill="#666"/>
<rect x="101.0" y="320.5" width="0.6" height="0.6" fill="#444"/>
<rect x="112.3" y="348.1" width="0.6" height="0.6" fill="#555"/>
<rect x="56.1" y="349.2" width="0.6" height="0.6" fill="#444"/>
<rect x="87.1" y="364.9" width="0.6" height="0.6" fill="#666"/>
<rect x="104.3" y="349.7" width="0.6" height="0.6" fill="#444"/>
<rect x="113.5" y="323.8" width="0.6" height="0.6" fill="#444"/>
<rect x="86.6" y="337.8" width="0.6" height="0.6" fill="#555"/>
<rect x="118.7" y="350.6" width="0.6" height="0.6" fill="#444"/>
<rect x="104.0" y="347.0" width="0.6" height="0.6" fill="#666"/>
<rect x="107.1" y="354.2" width="0.6" height="0.6" fill="#888"/>
<rect x="107.3" y="354.3" width="0.6" height="0.6" fill="#555"/>
<rect x="119.9" y="356.2" width="0.6" height="0.6" fill="#444"/>
<rect x="119.0" y="354.9" width="0.6" height="0.6" fill="#444"/>
<rect x="104.8" y="310.2" width="0.6" height="0.6" fill="#444"/>
<rect x="69.3" y="381.7" width="0.6" height="0.6" fill="#555"/>
<rect x="86.6" y="347.8" width="0.6" height="0.6" fill="#888"/>
<rect x="107.5" y="316.4" width="0.6" height="0.6" fill="#888"/>
<rect x="75.5" y="359.5" width="0.6" height="0.6" fill="#888"/>
<rect x="77.8" y="318.2" width="0.6" height="0.6" fill="#666"/>
<rect x="72.5" y="342.5" width="0.6" height="0.6" fill="#444"/>
<rect x="117.4" y="342.4" width="0.6" height="0.6" fill="#888"/>
<rect x="80.8" y="315.3" width="0.6" height="0.6" fill="#666"/>
<rect x="117.9" y="319.2" width="0.6" height="0.6" fill="#555"/>
<rect x="68.9" y="342.0" width="0.6" height="0.6" fill="#666"/>
<rect x="59.7" y="312.9" width="0.6" height="0.6" fill="#444"/>
<rect x="96.7" y="303.7" width="0.6" height="0.6" fill="#555"/>
<rect x="120.9" y="308.4" width="0.6" height="0.6" fill="#666"/>
<rect x="81.7" y="321.0" width="0.6" height="0.6" fill="#888"/>
<rect x="108.8" y="339.7" width="0.6" height="0.6" fill="#666"/>
<rect x="82.1" y="347.6" width="0.6" height="0.6" fill="#444"/>
<rect x="72.3" y="336.7" width="0.6" height="0.6" fill="#888"/>
<rect x="105.2" y="348.7" width="0.6" height="0.6" fill="#444"/>
<rect x="95.5" y="334.0" width="0.6" height="0.6" fill="#555"/>
<rect x="71.7" y="371.7" width="0.6" height="0.6" fill="#888"/>
<rect x="112.5" y="326.8" width="0.6" height="0.6" fill="#888"/>
<rect x="73.7" y="344.8" width="0.6" height="0.6" fill="#666"/>
<rect x="81.5" y="355.0" width="0.6" height="0.6" fill="#888"/>
<rect x="110.0" y="311.2" width="0.6" height="0.6" fill="#555"/>
<rect x="83.1" y="314.1" width="0.6" height="0.6" fill="#555"/>
<rect x="81.4" y="307.8" width="0.6" height="0.6" fill="#666"/>
<rect x="105.9" y="325.9" width="0.6" height="0.6" fill="#888"/>
<rect x="110.8" y="348.5" width="0.6" height="0.6" fill="#444"/>
<rect x="111.9" y="317.0" width="0.6" height="0.6" fill="#444"/>
<rect x="101.2" y="313.9" width="0.6" height="0.6" fill="#666"/>
<rect x="85.1" y="367.6" width="0.6" height="0.6" fill="#444"/>
<rect x="71.2" y="347.9" width="0.6" height="0.6" fill="#888"/>
<rect x="70.4" y="314.7" width="0.6" height="0.6" fill="#666"/>
<rect x="66.2" y="357.5" width="0.6" height="0.6" fill="#888"/>
<rect x="112.4" y="322.4" width="0.6" height="0.6" fill="#444"/>
<rect x="105.7" y="330.7" width="0.6" height="0.6" fill="#444"/>
<rect x="65.3" y="307.5" width="0.6" height="0.6" fill="#666"/>
<rect x="72.5" y="346.9" width="0.6" height="0.6" fill="#666"/>
<rect x="67.3" y="346.4" width="0.6" height="0.6" fill="#444"/>
<rect x="121.2" y="327.3" width="0.6" height="0.6" fill="#666"/>
<rect x="117.1" y="314.7" width="0.6" height="0.6" fill="#666"/>
<rect x="84.2" y="343.0" width="0.6" height="0.6" fill="#555"/>
<rect x="111.1" y="311.3" width="0.6" height="0.6" fill="#888"/>
<rect x="73.9" y="366.4" width="0.6" height="0.6" fill="#666"/>
<rect x="108.9" y="322.1" width="0.6" height="0.6" fill="#666"/>
<rect x="135.5" y="346.1" width="0.6" height="0.6" fill="#555"/>
<rect x="112.1" y="330.2" width="0.6" height="0.6" fill="#666"/>
<rect x="90.7" y="318.4" width="0.6" height="0.6" fill="#444"/>
<rect x="65.9" y="346.9" width="0.6" height="0.6" fill="#444"/>
<rect x="69.0" y="308.3" width="0.6" height="0.6" fill="#444"/>
<rect x="121.3" y="349.2" width="0.6" height="0.6" fill="#444"/>
<rect x="62.2" y="304.8" width="0.6" height="0.6" fill="#888"/>
<rect x="75.0" y="336.5" width="0.6" height="0.6" fill="#666"/>
<rect x="91.4" y="308.1" width="0.6" height="0.6" fill="#555"/>
<rect x="79.9" y="307.3" width="0.6" height="0.6" fill="#666"/>
<rect x="73.7" y="312.3" width="0.6" height="0.6" fill="#666"/>
<rect x="81.4" y="317.0" width="0.6" height="0.6" fill="#444"/>
<rect x="94.1" y="320.1" width="0.6" height="0.6" fill="#555"/>
<rect x="87.8" y="351.0" width="0.6" height="0.6" fill="#444"/>
<rect x="103.4" y="303.8" width="0.6" height="0.6" fill="#555"/>
<rect x="75.4" y="305.5" width="0.6" height="0.6" fill="#666"/>
<rect x="98.5" y="343.4" width="0.6" height="0.6" fill="#555"/>
<rect x="93.6" y="299.6" width="0.6" height="0.6" fill="#444"/>
<rect x="122.0" y="313.8" width="0.6" height="0.6" fill="#666"/>
<rect x="99.6" y="316.9" width="0.6" height="0.6" fill="#888"/>
<rect x="103.1" y="327.4" width="0.6" height="0.6" fill="#444"/>
<rect x="83.2" y="301.2" width="0.6" height="0.6" fill="#666"/>
<rect x="105.3" y="308.0" width="0.6" height="0.6" fill="#555"/>
<rect x="113.0" y="329.6" width="0.6" height="0.6" fill="#444"/>
<rect x="74.5" y="326.0" width="0.6" height="0.6" fill="#888"/>
<rect x="110.8" y="346.3" width="0.6" height="0.6" fill="#888"/>
<rect x="121.8" y="331.2" width="0.6" height="0.6" fill="#888"/>
<rect x="75.5" y="310.1" width="0.6" height="0.6" fill="#444"/>
<rect x="104.9" y="344.9" width="0.6" height="0.6" fill="#888"/>
<rect x="85.7" y="355.7" width="0.6" height="0.6" fill="#888"/>
<rect x="67.0" y="352.8" width="0.6" height="0.6" fill="#888"/>
<rect x="75.1" y="317.7" width="0.6" height="0.6" fill="#555"/>
<rect x="61.3" y="349.3" width="0.6" height="0.6" fill="#666"/>
<rect x="130.2" y="350.6" width="0.6" height="0.6" fill="#666"/>
<rect x="66.6" y="359.4" width="0.6" height="0.6" fill="#666"/>
<rect x="120.4" y="306.7" width="0.6" height="0.6" fill="#555"/>
<rect x="59.8" y="379.9" width="0.6" height="0.6" fill="#666"/>
<rect x="122.8" y="338.4" width="0.6" height="0.6" fill="#444"/>
<rect x="93.2" y="320.7" width="0.6" height="0.6" fill="#555"/>
<rect x="79.2" y="320.5" width="0.6" height="0.6" fill="#444"/>
<rect x="87.7" y="315.0" width="0.6" height="0.6" fill="#555"/>
<rect x="78.2" y="306.2" width="0.6" height="0.6" fill="#555"/>
<rect x="67.2" y="306.2" width="0.6" height="0.6" fill="#888"/>
<rect x="61.0" y="334.0" width="0.6" height="0.6" fill="#555"/>
<rect x="91.8" y="327.1" width="0.6" height="0.6" fill="#555"/>
<rect x="89.2" y="341.8" width="0.6" height="0.6" fill="#444"/>
<rect x="71.1" y="354.7" width="0.6" height="0.6" fill="#666"/>
<rect x="114.0" y="337.2" width="0.6" height="0.6" fill="#888"/>
<rect x="118.2" y="346.9" width="0.6" height="0.6" fill="#888"/>
<rect x="62.3" y="306.6" width="0.6" height="0.6" fill="#444"/>
<rect x="98.6" y="340.7" width="0.6" height="0.6" fill="#888"/>
<rect x="91.1" y="376.0" width="0.6" height="0.6" fill="#444"/>
<rect x="87.2" y="349.0" width="0.6" height="0.6" fill="#555"/>
<rect x="101.2" y="342.3" width="0.6" height="0.6" fill="#888"/>
<rect x="77.0" y="336.8" width="0.6" height="0.6" fill="#444"/>
<rect x="111.2" y="350.1" width="0.6" height="0.6" fill="#444"/>
<rect x="77.4" y="306.9" width="0.6" height="0.6" fill="#888"/>
<rect x="58.1" y="317.5" width="0.6" height="0.6" fill="#888"/>
<rect x="94.6" y="337.1" width="0.6" height="0.6" fill="#555"/>
<rect x="109.8" y="317.8" width="0.6" height="0.6" fill="#444"/>
<rect x="108.9" y="354.1" width="0.6" height="0.6" fill="#555"/>
<rect x="117.4" y="324.6" width="0.6" height="0.6" fill="#555"/>
<rect x="84.1" y="350.8" width="0.6" height="0.6" fill="#888"/>
<rect x="74.9" y="316.1" width="0.6" height="0.6" fill="#555"/>
<rect x="112.6" y="358.9" width="0.6" height="0.6" fill="#555"/>
<rect x="86.0" y="369.7" width="0.6" height="0.6" fill="#888"/>
<rect x="104.8" y="346.6" width="0.6" height="0.6" fill="#888"/>
<rect x="78.8" y="347.7" width="0.6" height="0.6" fill="#666"/>
<rect x="116.9" y="336.3" width="0.6" height="0.6" fill="#555"/>
<rect x="109.1" y="301.7" width="0.6" height="0.6" fill="#666"/>
<rect x="106.7" y="339.8" width="0.6" height="0.6" fill="#444"/>
<rect x="97.2" y="368.3" width="0.6" height="0.6" fill="#888"/>
<rect x="59.1" y="352.0" width="0.6" height="0.6" fill="#666"/>
<rect x="123.1" y="365.0" width="0.6" height="0.6" fill="#555"/>
<rect x="117.9" y="336.4" width="0.6" height="0.6" fill="#888"/>
<rect x="117.0" y="338.9" width="0.6" height="0.6" fill="#444"/>
<rect x="108.2" y="321.4" width="0.6" height="0.6" fill="#555"/>
<rect x="111.4" y="301.6" width="0.6" height="0.6" fill="#666"/>
<rect x="66.9" y="302.6" width="0.6" height="0.6" fill="#444"/>
<rect x="125.9" y="324.4" width="0.6" height="0.6" fill="#555"/>
<rect x="123.5" y="362.6" width="0.6" height="0.6" fill="#555"/>
<rect x="89.3" y="351.6" width="0.6" height="0.6" fill="#888"/>
<rect x="98.5" y="336.2" width="0.6" height="0.6" fill="#888"/>
<rect x="130.0" y="336.9" width="0.6" height="0.6" fill="#888"/>
<rect x="70.9" y="309.7" width="0.6" height="0.6" fill="#888"/>
<rect x="101.5" y="314.7" width="0.6" height="0.6" fill="#555"/>
<rect x="120.1" y="314.4" width="0.6" height="0.6" fill="#444"/>
<rect x="81.2" y="307.9" width="0.6" height="0.6" fill="#666"/>
<rect x="98.6" y="336.9" width="0.6" height="0.6" fill="#666"/>
<rect x="114.3" y="308.0" width="0.6" height="0.6" fill="#444"/>
<rect x="118.9" y="321.7" width="0.6" height="0.6" fill="#888"/>
<rect x="85.6" y="360.2" width="0.6" height="0.6" fill="#444"/>
<rect x="78.4" y="357.7" width="0.6" height="0.6" fill="#555"/>
<rect x="128.6" y="297.4" width="0.6" height="0.6" fill="#888"/>
<rect x="70.4" y="353.1" width="0.6" height="0.6" fill="#444"/>
<rect x="78.7" y="336.3" width="0.6" height="0.6" fill="#555"/>
<rect x="110.5" y="310.1" width="0.6" height="0.6" fill="#666"/>
<rect x="76.7" y="375.0" width="0.6" height="0.6" fill="#444"/>
<rect x="96.0" y="371.6" width="0.6" height="0.6" fill="#666"/>
<rect x="118.6" y="370.8" width="0.6" height="0.6" fill="#888"/>
<rect x="133.2" y="329.1" width="0.6" height="0.6" fill="#444"/>
<rect x="78.6" y="310.8" width="0.6" height="0.6" fill="#888"/>
<rect x="79.2" y="328.3" width="0.6" height="0.6" fill="#888"/>
<rect x="88.6" y="332.5" width="0.6" height="0.6" fill="#666"/>
<rect x="112.1" y="344.1" width="0.6" height="0.6" fill="#555"/>
<rect x="104.2" y="371.7" width="0.6" height="0.6" fill="#888"/>
<rect x="87.0" y="351.9" width="0.6" height="0.6" fill="#888"/>
<rect x="97.5" y="347.0" width="0.6" height="0.6" fill="#666"/>
<rect x="107.3" y="339.6" width="0.6" height="0.6" fill="#555"/>
<rect x="113.0" y="313.2" width="0.6" height="0.6" fill="#666"/>
<rect x="137.8" y="325.0" width="0.6" height="0.6" fill="#555"/>
<rect x="113.2" y="331.5" width="0.6" height="0.6" fill="#555"/>
<rect x="87.7" y="310.3" width="0.6" height="0.6" fill="#555"/>
<rect x="92.6" y="297.6" width="0.6" height="0.6" fill="#444"/>
<rect x="114.2" y="355.1" width="0.6" height="0.6" fill="#444"/>
<rect x="107.9" y="361.6" width="0.6" height="0.6" fill="#555"/>
<rect x="84.8" y="335.6" width="0.6" height="0.6" fill="#666"/>
<rect x="104.2" y="321.8" width="0.6" height="0.6" fill="#444"/>
<rect x="95.6" y="353.6" width="0.6" height="0.6" fill="#555"/>
<rect x="106.0" y="331.9" width="0.6" height="0.6" fill="#555"/>
<rect x="101.0" y="329.8" width="0.6" height="0.6" fill="#555"/>
<rect x="61.9" y="301.9" width="0.6" height="0.6" fill="#666"/>
<rect x="95.8" y="349.1" width="0.6" height="0.6" fill="#666"/>
<rect x="64.3" y="310.1" width="0.6" height="0.6" fill="#666"/>
<rect x="114.7" y="340.9" width="0.6" height="0.6" fill="#666"/>
<rect x="89.8" y="340.0" width="0.6" height="0.6" fill="#444"/>
<rect x="90.2" y="330.4" width="0.6" height="0.6" fill="#555"/>
<rect x="79.9" y="321.5" width="0.6" height="0.6" fill="#666"/>
<rect x="125.0" y="348.3" width="0.6" height="0.6" fill="#555"/>
<rect x="113.8" y="312.9" width="0.6" height="0.6" fill="#444"/>
<rect x="117.0" y="336.5" width="0.6" height="0.6" fill="#666"/>
<rect x="119.6" y="360.4" width="0.6" height="0.6" fill="#444"/>
<rect x="101.3" y="340.3" width="0.6" height="0.6" fill="#444"/>
<rect x="97.9" y="311.3" width="0.6" height="0.6" fill="#444"/>
<rect x="78.2" y="328.5" width="0.6" height="0.6" fill="#444"/>
<rect x="107.4" y="320.9" width="0.6" height="0.6" fill="#555"/>
<rect x="89.8" y="353.2" width="0.6" height="0.6" fill="#444"/>
<rect x="99.7" y="311.5" width="0.6" height="0.6" fill="#666"/>
<rect x="72.4" y="307.2" width="0.6" height="0.6" fill="#555"/>
<rect x="85.5" y="327.5" width="0.6" height="0.6" fill="#888"/>
<rect x="119.7" y="349.0" width="0.6" height="0.6" fill="#444"/>
<rect x="76.2" y="314.3" width="0.6" height="0.6" fill="#888"/>
<rect x="117.6" y="342.3" width="0.6" height="0.6" fill="#444"/>
<rect x="114.7" y="329.6" width="0.6" height="0.6" fill="#555"/>
<rect x="76.2" y="358.6" width="0.6" height="0.6" fill="#666"/>
<rect x="87.3" y="314.0" width="0.6" height="0.6" fill="#444"/>
<rect x="113.5" y="337.6" width="0.6" height="0.6" fill="#666"/>
<rect x="97.3" y="357.6" width="0.6" height="0.6" fill="#666"/>
<rect x="87.5" y="358.3" width="0.6" height="0.6" fill="#666"/>
<rect x="111.0" y="317.3" width="0.6" height="0.6" fill="#888"/>
<rect x="73.8" y="359.6" width="0.6" height="0.6" fill="#555"/>
<rect x="113.0" y="355.5" width="0.6" height="0.6" fill="#555"/>
<rect x="81.9" y="364.0" width="0.6" height="0.6" fill="#888"/>
<rect x="78.6" y="343.6" width="0.6" height="0.6" fill="#666"/>
<rect x="117.1" y="320.7" width="0.6" height="0.6" fill="#444"/>
<rect x="86.8" y="305.8" width="0.6" height="0.6" fill="#888"/>
<rect x="58.1" y="308.6" width="0.6" height="0.6" fill="#666"/>
<rect x="64.1" y="340.9" width="0.6" height="0.6" fill="#444"/>
<rect x="94.0" y="374.6" width="0.6" height="0.6" fill="#444"/>
<rect x="109.9" y="345.8" width="0.6" height="0.6" fill="#666"/>
<rect x="84.5" y="337.9" width="0.6" height="0.6" fill="#888"/>
<rect x="114.1" y="355.9" width="0.6" height="0.6" fill="#444"/>
<rect x="91.4" y="304.7" width="0.6" height="0.6" fill="#666"/>
<rect x="102.7" y="326.0" width="0.6" height="0.6" fill="#888"/>
<rect x="75.8" y="303.9" width="0.6" height="0.6" fill="#444"/>
<rect x="73.7" y="357.7" width="0.6" height="0.6" fill="#555"/>
<rect x="65.4" y="342.6" width="0.6" height="0.6" fill="#555"/>
<rect x="87.6" y="312.5" width="0.6" height="0.6" fill="#555"/>
<rect x="120.4" y="326.7" width="0.6" height="0.6" fill="#888"/>
<rect x="130.6" y="348.5" width="0.6" height="0.6" fill="#666"/>
<rect x="81.3" y="314.5" width="0.6" height="0.6" fill="#888"/>
<rect x="117.5" y="312.2" width="0.6" height="0.6" fill="#444"/>
<rect x="67.9" y="304.4" width="0.6" height="0.6" fill="#888"/>
<rect x="115.0" y="314.1" width="0.6" height="0.6" fill="#444"/>
<rect x="61.0" y="336.1" width="0.6" height="0.6" fill="#666"/>
<rect x="74.9" y="313.8" width="0.6" height="0.6" fill="#666"/>
<rect x="79.2" y="338.9" width="0.6" height="0.6" fill="#666"/>
<rect x="80.5" y="306.3" width="0.6" height="0.6" fill="#888"/>
<rect x="63.3" y="301.3" width="0.6" height="0.6" fill="#666"/>
<rect x="55.0" y="369.4" width="0.6" height="0.6" fill="#666"/>
<rect x="105.4" y="325.0" width="0.6" height="0.6" fill="#888"/>
<rect x="117.3" y="309.1" width="0.6" height="0.6" fill="#444"/>
<rect x="64.2" y="301.9" width="0.6" height="0.6" fill="#666"/>
<rect x="56.3" y="355.0" width="0.6" height="0.6" fill="#444"/>
<rect x="88.7" y="337.2" width="0.6" height="0.6" fill="#444"/>
<rect x="113.3" y="326.7" width="0.6" height="0.6" fill="#555"/>
<rect x="93.3" y="349.6" width="0.6" height="0.6" fill="#888"/>
<rect x="90.7" y="361.3" width="0.6" height="0.6" fill="#444"/>
<rect x="82.0" y="318.1" width="0.6" height="0.6" fill="#555"/>
<rect x="94.0" y="307.9" width="0.6" height="0.6" fill="#666"/>
<rect x="79.6" y="344.0" width="0.6" height="0.6" fill="#444"/>
<rect x="74.9" y="321.3" width="0.6" height="0.6" fill="#555"/>
<rect x="125.0" y="366.0" width="0.6" height="0.6" fill="#888"/>
<rect x="73.3" y="318.7" width="0.6" height="0.6" fill="#444"/>
<rect x="94.0" y="309.4" width="0.6" height="0.6" fill="#666"/>
<rect x="74.7" y="321.4" width="0.6" height="0.6" fill="#444"/>
<rect x="88.8" y="340.8" width="0.6" height="0.6" fill="#666"/>
<rect x="111.5" y="333.5" width="0.6" height="0.6" fill="#888"/>
<rect x="89.2" y="298.6" width="0.6" height="0.6" fill="#444"/>
<rect x="100.9" y="370.7" width="0.6" height="0.6" fill="#666"/>
<rect x="123.9" y="344.0" width="0.6" height="0.6" fill="#444"/>
<rect x="95.8" y="333.1" width="0.6" height="0.6" fill="#666"/>
<rect x="111.4" y="356.7" width="0.6" height="0.6" fill="#666"/>
<rect x="72.8" y="337.8" width="0.6" height="0.6" fill="#444"/>
<rect x="65.6" y="352.5" width="0.6" height="0.6" fill="#888"/>
<rect x="103.2" y="338.3" width="0.6" height="0.6" fill="#666"/>
<rect x="94.8" y="378.3" width="0.6" height="0.6" fill="#666"/>
<rect x="72.0" y="340.4" width="0.6" height="0.6" fill="#888"/>
<rect x="84.4" y="314.6" width="0.6" height="0.6" fill="#444"/>
<rect x="91.1" y="331.8" width="0.6" height="0.6" fill="#444"/>
<rect x="85.2" y="303.7" width="0.6" height="0.6" fill="#555"/>
<rect x="88.4" y="335.5" width="0.6" height="0.6" fill="#666"/>
<rect x="88.1" y="363.5" width="0.6" height="0.6" fill="#666"/>
<rect x="98.1" y="336.0" width="0.6" height="0.6" fill="#444"/>
<rect x="72.9" y="311.0" width="0.6" height="0.6" fill="#555"/>
<rect x="113.8" y="365.4" width="0.6" height="0.6" fill="#666"/>
<rect x="120.9" y="338.2" width="0.6" height="0.6" fill="#555"/>
<rect x="54.2" y="313.6" width="0.6" height="0.6" fill="#444"/>
<rect x="111.2" y="336.5" width="0.6" height="0.6" fill="#666"/>
<rect x="104.3" y="352.6" width="0.6" height="0.6" fill="#888"/>
<rect x="107.8" y="324.3" width="0.6" height="0.6" fill="#444"/>
<rect x="75.2" y="345.1" width="0.6" height="0.6" fill="#888"/>
<rect x="119.7" y="339.2" width="0.6" height="0.6" fill="#444"/>
<rect x="89.8" y="362.7" width="0.6" height="0.6" fill="#888"/>
<rect x="64.4" y="368.6" width="0.6" height="0.6" fill="#888"/>
<rect x="127.3" y="355.2" width="0.6" height="0.6" fill="#555"/>
<rect x="105.6" y="323.9" width="0.6" height="0.6" fill="#555"/>
<rect x="81.8" y="319.6" width="0.6" height="0.6" fill="#666"/>
<rect x="121.6" y="342.7" width="0.6" height="0.6" fill="#555"/>
<rect x="83.3" y="370.6" width="0.6" height="0.6" fill="#888"/>
<rect x="105.6" y="362.5" width="0.6" height="0.6" fill="#888"/>
<rect x="79.7" y="313.4" width="0.6" height="0.6" fill="#888"/>
<rect x="81.8" y="328.9" width="0.6" height="0.6" fill="#555"/>
<rect x="78.4" y="326.1" width="0.6" height="0.6" fill="#555"/>
<rect x="76.9" y="330.6" width="0.6" height="0.6" fill="#666"/>
<rect x="82.5" y="366.2" width="0.6" height="0.6" fill="#888"/>
<rect x="106.0" y="322.1" width="0.6" height="0.6" fill="#666"/>
<rect x="80.2" y="334.5" width="0.6" height="0.6" fill="#666"/>
<rect x="99.9" y="321.2" width="0.6" height="0.6" fill="#444"/>
<rect x="121.6" y="312.7" width="0.6" height="0.6" fill="#888"/>
<rect x="86.0" y="300.9" width="0.6" height="0.6" fill="#444"/>
<rect x="120.5" y="342.3" width="0.6" height="0.6" fill="#888"/>
<rect x="92.3" y="323.6" width="0.6" height="0.6" fill="#444"/>
<rect x="112.0" y="304.7" width="0.6" height="0.6" fill="#666"/>
<rect x="100.0" y="352.4" width="0.6" height="0.6" fill="#888"/>
<rect x="60.8" y="353.5" width="0.6" height="0.6" fill="#444"/>
<rect x="89.0" y="337.0" width="0.6" height="0.6" fill="#444"/>
<rect x="86.9" y="331.7" width="0.6" height="0.6" fill="#888"/>
<rect x="62.3" y="352.5" width="0.6" height="0.6" fill="#444"/>
<rect x="119.0" y="326.0" width="0.6" height="0.6" fill="#888"/>
<rect x="116.1" y="373.9" width="0.6" height="0.6" fill="#555"/>
<rect x="70.2" y="308.3" width="0.6" height="0.6" fill="#555"/>
<rect x="115.7" y="329.4" width="0.6" height="0.6" fill="#444"/>
<rect x="104.5" y="345.4" width="0.6" height="0.6" fill="#444"/>
<rect x="110.1" y="310.6" width="0.6" height="0.6" fill="#555"/>
<rect x="112.6" y="318.3" width="0.6" height="0.6" fill="#888"/>
<rect x="128.2" y="347.6" width="0.6" height="0.6" fill="#666"/>
<rect x="94.6" y="372.8" width="0.6" height="0.6" fill="#555"/>
<rect x="96.6" y="338.0" width="0.6" height="0.6" fill="#888"/>
<rect x="96.0" y="327.2" width="0.6" height="0.6" fill="#444"/>
<rect x="114.8" y="300.9" width="0.6" height="0.6" fill="#888"/>
<rect x="59.8" y="350.2" width="0.6" height="0.6" fill="#888"/>
<rect x="94.0" y="311.8" width="0.6" height="0.6" fill="#666"/>
<rect x="70.8" y="307.3" width="0.6" height="0.6" fill="#444"/>
<rect x="119.1" y="316.9" width="0.6" height="0.6" fill="#888"/>
<rect x="106.3" y="344.3" width="0.6" height="0.6" fill="#444"/>
<rect x="90.5" y="312.1" width="0.6" height="0.6" fill="#555"/>
<rect x="83.5" y="304.3" width="0.6" height="0.6" fill="#555"/>
<rect x="107.2" y="356.1" width="0.6" height="0.6" fill="#888"/>
<rect x="100.5" y="357.2" width="0.6" height="0.6" fill="#888"/>
<rect x="99.1" y="300.7" width="0.6" height="0.6" fill="#666"/>
<rect x="76.5" y="308.8" width="0.6" height="0.6" fill="#444"/>
<rect x="109.6" y="328.1" width="0.6" height="0.6" fill="#444"/>
<rect x="70.8" y="302.5" width="0.6" height="0.6" fill="#444"/>
<rect x="95.6" y="306.0" width="0.6" height="0.6" fill="#444"/>
<rect x="107.3" y="372.4" width="0.6" height="0.6" fill="#555"/>
<rect x="89.0" y="317.5" width="0.6" height="0.6" fill="#555"/>
<rect x="101.7" y="370.8" width="0.6" height="0.6" fill="#555"/>
<rect x="98.1" y="334.7" width="0.6" height="0.6" fill="#555"/>
<rect x="105.7" y="338.4" width="0.6" height="0.6" fill="#888"/>
<rect x="109.3" y="349.5" width="0.6" height="0.6" fill="#666"/>
<rect x="123.0" y="331.4" width="0.6" height="0.6" fill="#888"/>
<rect x="124.6" y="345.7" width="0.6" height="0.6" fill="#666"/>
<rect x="80.9" y="324.8" width="0.6" height="0.6" fill="#888"/>
<rect x="112.4" y="336.8" width="0.6" height="0.6" fill="#444"/>
<rect x="112.8" y="340.8" width="0.6" height="0.6" fill="#888"/>
<rect x="113.9" y="318.8" width="0.6" height="0.6" fill="#888"/>
<rect x="107.0" y="323.3" width="0.6" height="0.6" fill="#888"/>
<rect x="61.1" y="341.9" width="0.6" height="0.6" fill="#888"/>
<rect x="82.4" y="320.8" width="0.6" height="0.6" fill="#555"/>
<rect x="115.4" y="318.9" width="0.6" height="0.6" fill="#666"/>
<rect x="112.2" y="337.4" width="0.6" height="0.6" fill="#666"/>
<rect x="116.7" y="329.3" width="0.6" height="0.6" fill="#888"/>
<rect x="73.4" y="345.2" width="0.6" height="0.6" fill="#888"/>
<rect x="132.0" y="354.9" width="0.6" height="0.6" fill="#666"/>
<rect x="117.6" y="335.2" width="0.6" height="0.6" fill="#444"/>
<rect x="127.8" y="300.2" width="0.6" height="0.6" fill="#888"/>
<rect x="70.6" y="352.1" width="0.6" height="0.6" fill="#666"/>
<rect x="111.9" y="347.0" width="0.6" height="0.6" fill="#444"/>
<rect x="91.1" y="356.4" width="0.6" height="0.6" fill="#666"/>
<rect x="59.4" y="340.4" width="0.6" height="0.6" fill="#444"/>
<rect x="106.1" y="313.4" width="0.6" height="0.6" fill="#555"/>
<rect x="82.7" y="341.8" width="0.6" height="0.6" fill="#555"/>
<rect x="57.1" y="375.7" width="0.6" height="0.6" fill="#888"/>
<rect x="102.6" y="359.8" width="0.6" height="0.6" fill="#444"/>
<rect x="68.6" y="363.6" width="0.6" height="0.6" fill="#666"/>
<rect x="108.7" y="316.3" width="0.6" height="0.6" fill="#444"/>
<rect x="104.9" y="333.7" width="0.6" height="0.6" fill="#555"/>
<rect x="112.8" y="323.4" width="0.6" height="0.6" fill="#666"/>
<rect x="99.1" y="316.3" width="0.6" height="0.6" fill="#888"/>
<rect x="83.2" y="303.5" width="0.6" height="0.6" fill="#444"/>
<rect x="129.2" y="299.4" width="0.6" height="0.6" fill="#555"/>
<rect x="74.3" y="308.5" width="0.6" height="0.6" fill="#555"/>
<rect x="111.0" y="317.1" width="0.6" height="0.6" fill="#666"/>
<rect x="90.0" y="342.3" width="0.6" height="0.6" fill="#666"/>
<rect x="73.7" y="368.6" width="0.6" height="0.6" fill="#666"/>
<rect x="120.5" y="307.9" width="0.6" height="0.6" fill="#444"/>
<rect x="100.8" y="373.2" width="0.6" height="0.6" fill="#666"/>
<rect x="109.1" y="324.6" width="0.6" height="0.6" fill="#666"/>
<rect x="104.0" y="335.5" width="0.6" height="0.6" fill="#666"/>
<rect x="74.8" y="310.5" width="0.6" height="0.6" fill="#666"/>
<rect x="89.4" y="359.4" width="0.6" height="0.6" fill="#555"/>
<rect x="111.4" y="310.6" width="0.6" height="0.6" fill="#444"/>
<rect x="118.4" y="335.8" width="0.6" height="0.6" fill="#666"/>
<rect x="92.5" y="378.2" width="0.6" height="0.6" fill="#666"/>
<rect x="96.6" y="338.1" width="0.6" height="0.6" fill="#444"/>
<rect x="110.7" y="314.5" width="0.6" height="0.6" fill="#888"/>
<rect x="104.4" y="351.8" width="0.6" height="0.6" fill="#555"/>
<rect x="84.4" y="331.3" width="0.6" height="0.6" fill="#444"/>
<rect x="105.3" y="335.2" width="0.6" height="0.6" fill="#888"/>
<rect x="63.2" y="297.1" width="0.6" height="0.6" fill="#888"/>
<rect x="62.9" y="302.3" width="0.6" height="0.6" fill="#666"/>
<rect x="61.6" y="313.7" width="0.6" height="0.6" fill="#888"/>
<rect x="61.4" y="339.8" width="0.6" height="0.6" fill="#666"/>
<rect x="109.7" y="318.5" width="0.6" height="0.6" fill="#666"/>
<rect x="81.0" y="330.3" width="0.6" height="0.6" fill="#555"/>
<rect x="87.5" y="366.4" width="0.6" height="0.6" fill="#555"/>
<rect x="94.5" y="353.6" width="0.6" height="0.6" fill="#444"/>
<rect x="66.6" y="355.8" width="0.6" height="0.6" fill="#444"/>
<rect x="60.0" y="358.3" width="0.6" height="0.6" fill="#555"/>
<rect x="67.8" y="352.4" width="0.6" height="0.6" fill="#444"/>
<rect x="81.4" y="304.4" width="0.6" height="0.6" fill="#555"/>
<rect x="84.0" y="326.4" width="0.6" height="0.6" fill="#444"/>
<rect x="98.2" y="336.8" width="0.6" height="0.6" fill="#555"/>
<rect x="102.6" y="327.5" width="0.6" height="0.6" fill="#888"/>
<rect x="120.3" y="361.0" width="0.6" height="0.6" fill="#666"/>
<rect x="87.1" y="376.5" width="0.6" height="0.6" fill="#444"/>
<rect x="94.5" y="326.8" width="0.6" height="0.6" fill="#888"/>
<rect x="78.8" y="343.5" width="0.6" height="0.6" fill="#888"/>
<rect x="79.3" y="347.3" width="0.6" height="0.6" fill="#555"/>
<rect x="68.3" y="330.8" width="0.6" height="0.6" fill="#444"/>
<rect x="61.3" y="361.2" width="0.6" height="0.6" fill="#444"/>
<rect x="106.6" y="321.7" width="0.6" height="0.6" fill="#666"/>
<rect x="86.0" y="332.5" width="0.6" height="0.6" fill="#666"/>
<rect x="80.7" y="307.4" width="0.6" height="0.6" fill="#666"/>
<rect x="109.7" y="313.2" width="0.6" height="0.6" fill="#444"/>
<rect x="60.0" y="323.6" width="0.6" height="0.6" fill="#444"/>
<rect x="124.2" y="369.6" width="0.6" height="0.6" fill="#444"/>
<rect x="119.6" y="328.2" width="0.6" height="0.6" fill="#444"/>
<rect x="88.1" y="334.1" width="0.6" height="0.6" fill="#666"/>
<rect x="94.6" y="330.7" width="0.6" height="0.6" fill="#444"/>
<rect x="67.9" y="316.8" width="0.6" height="0.6" fill="#666"/>
<rect x="82.6" y="312.7" width="0.6" height="0.6" fill="#888"/>
<rect x="122.4" y="338.8" width="0.6" height="0.6" fill="#555"/>
<rect x="59.0" y="360.8" width="0.6" height="0.6" fill="#555"/>
<rect x="111.9" y="329.5" width="0.6" height="0.6" fill="#666"/>
<rect x="97.4" y="304.5" width="0.6" height="0.6" fill="#444"/>
<rect x="71.2" y="317.8" width="0.6" height="0.6" fill="#555"/>
<rect x="91.5" y="343.0" width="0.6" height="0.6" fill="#555"/>
<rect x="107.4" y="332.3" width="0.6" height="0.6" fill="#555"/>
<rect x="92.3" y="349.5" width="0.6" height="0.6" fill="#666"/>
<rect x="87.4" y="335.3" width="0.6" height="0.6" fill="#444"/>
<rect x="106.5" y="331.9" width="0.6" height="0.6" fill="#444"/>
<rect x="104.9" y="363.5" width="0.6" height="0.6" fill="#666"/>
<rect x="88.3" y="326.7" width="0.6" height="0.6" fill="#555"/>
<rect x="107.5" y="324.6" width="0.6" height="0.6" fill="#888"/>
<rect x="108.0" y="304.9" width="0.6" height="0.6" fill="#444"/>
<rect x="85.3" y="322.7" width="0.6" height="0.6" fill="#888"/>
<rect x="107.9" y="362.1" width="0.6" height="0.6" fill="#555"/>
<rect x="116.4" y="309.1" width="0.6" height="0.6" fill="#555"/>
<rect x="90.3" y="324.9" width="0.6" height="0.6" fill="#444"/>
<rect x="103.3" y="331.8" width="0.6" height="0.6" fill="#555"/>
<rect x="126.0" y="342.7" width="0.6" height="0.6" fill="#666"/>
<rect x="76.9" y="312.4" width="0.6" height="0.6" fill="#555"/>
<rect x="88.6" y="331.3" width="0.6" height="0.6" fill="#555"/>
<rect x="101.5" y="357.1" width="0.6" height="0.6" fill="#888"/>
<rect x="109.8" y="308.0" width="0.6" height="0.6" fill="#888"/>
<rect x="104.8" y="311.6" width="0.6" height="0.6" fill="#555"/>
<rect x="109.4" y="317.7" width="0.6" height="0.6" fill="#888"/>
<rect x="98.0" y="331.2" width="0.6" height="0.6" fill="#555"/>
<rect x="115.5" y="334.9" width="0.6" height="0.6" fill="#888"/>
<rect x="95.4" y="309.5" width="0.6" height="0.6" fill="#666"/>
<rect x="84.1" y="328.2" width="0.6" height="0.6" fill="#888"/>
<rect x="124.0" y="346.3" width="0.6" height="0.6" fill="#444"/>
<rect x="85.4" y="300.0" width="0.6" height="0.6" fill="#666"/>
<rect x="71.2" y="350.5" width="0.6" height="0.6" fill="#888"/>
<rect x="77.0" y="348.1" width="0.6" height="0.6" fill="#666"/>
<rect x="90.8" y="319.1" width="0.6" height="0.6" fill="#888"/>
<rect x="84.3" y="381.6" width="0.6" height="0.6" fill="#555"/>
<rect x="115.1" y="355.8" width="0.6" height="0.6" fill="#444"/>
<rect x="121.0" y="307.4" width="0.6" height="0.6" fill="#444"/>
<rect x="66.9" y="337.7" width="0.6" height="0.6" fill="#555"/>
<rect x="106.2" y="315.4" width="0.6" height="0.6" fill="#888"/>
<rect x="113.8" y="328.9" width="0.6" height="0.6" fill="#555"/>
<rect x="82.2" y="342.8" width="0.6" height="0.6" fill="#888"/>
<rect x="70.8" y="304.2" width="0.6" height="0.6" fill="#555"/>
<rect x="130.6" y="322.4" width="0.6" height="0.6" fill="#555"/>
<rect x="88.7" y="362.1" width="0.6" height="0.6" fill="#555"/>
<rect x="109.5" y="336.3" width="0.6" height="0.6" fill="#444"/>
<rect x="102.9" y="341.4" width="0.6" height="0.6" fill="#666"/>
<rect x="87.8" y="360.8" width="0.6" height="0.6" fill="#666"/>
<rect x="78.0" y="353.8" width="0.6" height="0.6" fill="#444"/>
<rect x="77.1" y="332.4" width="0.6" height="0.6" fill="#888"/>
<rect x="97.2" y="339.9" width="0.6" height="0.6" fill="#666"/>
<rect x="62.0" y="344.2" width="0.6" height="0.6" fill="#666"/>
<rect x="106.0" y="332.3" width="0.6" height="0.6" fill="#666"/>
<rect x="93.9" y="365.6" width="0.6" height="0.6" fill="#444"/>
<rect x="114.3" y="350.7" width="0.6" height="0.6" fill="#888"/>
<rect x="111.1" y="329.3" width="0.6" height="0.6" fill="#444"/>
<rect x="116.0" y="311.6" width="0.6" height="0.6" fill="#888"/>
<rect x="68.5" y="351.2" width="0.6" height="0.6" fill="#555"/>
<rect x="66.3" y="334.1" width="0.6" height="0.6" fill="#666"/>
<rect x="80.6" y="313.0" width="0.6" height="0.6" fill="#666"/>
<rect x="88.1" y="308.4" width="0.6" height="0.6" fill="#888"/>
<rect x="92.9" y="379.5" width="0.6" height="0.6" fill="#444"/>
<rect x="97.1" y="297.7" width="0.6" height="0.6" fill="#444"/>
<rect x="122.4" y="328.5" width="0.6" height="0.6" fill="#555"/>
<rect x="54.4" y="320.4" width="0.6" height="0.6" fill="#444"/>
<rect x="75.4" y="320.8" width="0.6" height="0.6" fill="#666"/>
<rect x="65.7" y="358.0" width="0.6" height="0.6" fill="#888"/>
<rect x="115.6" y="314.7" width="0.6" height="0.6" fill="#666"/>
<rect x="80.1" y="307.5" width="0.6" height="0.6" fill="#888"/>
<rect x="76.3" y="334.6" width="0.6" height="0.6" fill="#555"/>
<rect x="90.0" y="316.0" width="0.6" height="0.6" fill="#666"/>
<rect x="71.7" y="377.1" width="0.6" height="0.6" fill="#666"/>
<rect x="104.3" y="366.2" width="0.6" height="0.6" fill="#555"/>
<rect x="77.7" y="353.8" width="0.6" height="0.6" fill="#444"/>
<rect x="106.6" y="302.0" width="0.6" height="0.6" fill="#555"/>
<rect x="90.3" y="332.5" width="0.6" height="0.6" fill="#666"/>
<rect x="112.3" y="322.3" width="0.6" height="0.6" fill="#444"/>
<rect x="87.7" y="364.0" width="0.6" height="0.6" fill="#444"/>
<rect x="98.3" y="339.8" width="0.6" height="0.6" fill="#666"/>
<rect x="113.2" y="308.8" width="0.6" height="0.6" fill="#444"/>
<rect x="73.6" y="353.2" width="0.6" height="0.6" fill="#666"/>
<rect x="98.8" y="368.3" width="0.6" height="0.6" fill="#555"/>
<rect x="108.0" y="313.3" width="0.6" height="0.6" fill="#555"/>
<rect x="80.4" y="315.0" width="0.6" height="0.6" fill="#666"/>
<rect x="60.4" y="349.2" width="0.6" height="0.6" fill="#888"/>
<rect x="68.2" y="374.2" width="0.6" height="0.6" fill="#666"/>
<rect x="54.6" y="314.8" width="0.6" height="0.6" fill="#444"/>
<rect x="93.8" y="312.7" width="0.6" height="0.6" fill="#888"/>
<rect x="103.4" y="336.2" width="0.6" height="0.6" fill="#555"/>
<rect x="125.9" y="320.0" width="0.6" height="0.6" fill="#555"/>
<rect x="90.2" y="340.9" width="0.6" height="0.6" fill="#555"/>
<rect x="91.7" y="312.2" width="0.6" height="0.6" fill="#444"/>
<rect x="92.3" y="318.8" width="0.6" height="0.6" fill="#444"/>
<rect x="114.9" y="335.1" width="0.6" height="0.6" fill="#888"/>
<rect x="116.1" y="326.4" width="0.6" height="0.6" fill="#888"/>
<rect x="66.1" y="338.5" width="0.6" height="0.6" fill="#888"/>
<rect x="69.9" y="311.2" width="0.6" height="0.6" fill="#666"/>
<rect x="73.8" y="300.1" width="0.6" height="0.6" fill="#666"/>
<rect x="113.7" y="351.0" width="0.6" height="0.6" fill="#555"/>
<rect x="79.5" y="312.8" width="0.6" height="0.6" fill="#888"/>
<rect x="71.6" y="316.3" width="0.6" height="0.6" fill="#555"/>
<rect x="69.0" y="312.8" width="0.6" height="0.6" fill="#666"/>
<rect x="75.5" y="375.2" width="0.6" height="0.6" fill="#666"/>
<rect x="54.1" y="350.7" width="0.6" height="0.6" fill="#666"/>
<rect x="86.6" y="337.0" width="0.6" height="0.6" fill="#444"/>
<rect x="66.1" y="343.8" width="0.6" height="0.6" fill="#888"/>
<rect x="114.4" y="302.7" width="0.6" height="0.6" fill="#888"/>
<rect x="83.0" y="355.5" width="0.6" height="0.6" fill="#555"/>
<rect x="120.8" y="344.8" width="0.6" height="0.6" fill="#888"/>
<rect x="116.3" y="361.2" width="0.6" height="0.6" fill="#888"/>
<rect x="110.3" y="344.1" width="0.6" height="0.6" fill="#888"/>
<rect x="115.7" y="354.7" width="0.6" height="0.6" fill="#555"/>
<rect x="108.3" y="319.1" width="0.6" height="0.6" fill="#444"/>
<rect x="119.1" y="314.1" width="0.6" height="0.6" fill="#444"/>
<rect x="70.4" y="321.2" width="0.6" height="0.6" fill="#888"/>
<rect x="115.1" y="358.2" width="0.6" height="0.6" fill="#444"/>
<rect x="113.5" y="330.5" width="0.6" height="0.6" fill="#444"/>
<rect x="68.3" y="369.2" width="0.6" height="0.6" fill="#666"/>
<rect x="124.5" y="312.6" width="0.6" height="0.6" fill="#555"/>
<rect x="73.9" y="359.2" width="0.6" height="0.6" fill="#666"/>
<rect x="112.1" y="347.1" width="0.6" height="0.6" fill="#666"/>
<rect x="85.1" y="326.7" width="0.6" height="0.6" fill="#555"/>
<rect x="82.1" y="373.5" width="0.6" height="0.6" fill="#444"/>
<rect x="75.7" y="315.9" width="0.6" height="0.6" fill="#888"/>
<rect x="83.0" y="333.6" width="0.6" height="0.6" fill="#444"/>
<rect x="120.0" y="352.4" width="0.6" height="0.6" fill="#666"/>
<rect x="109.9" y="333.8" width="0.6" height="0.6" fill="#444"/>
<rect x="82.2" y="339.2" width="0.6" height="0.6" fill="#444"/>
<rect x="122.4" y="301.6" width="0.6" height="0.6" fill="#666"/>
<rect x="93.5" y="308.1" width="0.6" height="0.6" fill="#444"/>
<rect x="68.8" y="316.4" width="0.6" height="0.6" fill="#444"/>
<rect x="96.0" y="353.7" width="0.6" height="0.6" fill="#888"/>
<rect x="92.1" y="329.2" width="0.6" height="0.6" fill="#666"/>
<rect x="88.3" y="309.7" width="0.6" height="0.6" fill="#555"/>
<rect x="107.2" y="309.0" width="0.6" height="0.6" fill="#444"/>
<rect x="80.3" y="340.3" width="0.6" height="0.6" fill="#555"/>
<rect x="87.7" y="348.9" width="0.6" height="0.6" fill="#444"/>
<rect x="102.2" y="347.8" width="0.6" height="0.6" fill="#666"/>
<rect x="120.2" y="323.0" width="0.6" height="0.6" fill="#555"/>
<rect x="115.4" y="306.2" width="0.6" height="0.6" fill="#555"/>
<rect x="98.7" y="324.6" width="0.6" height="0.6" fill="#666"/>
<rect x="131.8" y="358.1" width="0.6" height="0.6" fill="#666"/>
<rect x="57.0" y="359.3" width="0.6" height="0.6" fill="#888"/>
<rect x="82.3" y="337.0" width="0.6" height="0.6" fill="#666"/>
<rect x="71.2" y="309.6" width="0.6" height="0.6" fill="#888"/>
<rect x="118.6" y="377.7" width="0.6" height="0.6" fill="#888"/>
<rect x="104.8" y="328.2" width="0.6" height="0.6" fill="#888"/>
<rect x="95.8" y="370.9" width="0.6" height="0.6" fill="#888"/>
<rect x="96.7" y="380.7" width="0.6" height="0.6" fill="#888"/>
<rect x="74.8" y="307.8" width="0.6" height="0.6" fill="#666"/>
<rect x="80.9" y="348.2" width="0.6" height="0.6" fill="#555"/>
<rect x="87.3" y="310.0" width="0.6" height="0.6" fill="#555"/>
<rect x="69.6" y="361.2" width="0.6" height="0.6" fill="#555"/>
<rect x="100.3" y="305.4" width="0.6" height="0.6" fill="#444"/>
<rect x="84.7" y="322.5" width="0.6" height="0.6" fill="#555"/>
<rect x="103.8" y="342.4" width="0.6" height="0.6" fill="#666"/>
<rect x="96.8" y="349.6" width="0.6" height="0.6" fill="#666"/>
<rect x="110.7" y="309.4" width="0.6" height="0.6" fill="#666"/>
<rect x="119.1" y="331.1" width="0.6" height="0.6" fill="#666"/>
<rect x="113.5" y="333.3" width="0.6" height="0.6" fill="#888"/>
<rect x="63.5" y="335.0" width="0.6" height="0.6" fill="#666"/>
<rect x="113.7" y="326.2" width="0.6" height="0.6" fill="#666"/>
<rect x="107.6" y="356.8" width="0.6" height="0.6" fill="#666"/>
<rect x="111.6" y="335.0" width="0.6" height="0.6" fill="#444"/>
<rect x="84.6" y="325.0" width="0.6" height="0.6" fill="#666"/>
<rect x="115.5" y="308.9" width="0.6" height="0.6" fill="#444"/>
<rect x="89.6" y="306.6" width="0.6" height="0.6" fill="#555"/>
<rect x="95.2" y="335.8" width="0.6" height="0.6" fill="#888"/>
<rect x="97.8" y="357.8" width="0.6" height="0.6" fill="#444"/>
<rect x="77.1" y="308.4" width="0.6" height="0.6" fill="#888"/>
<rect x="109.4" y="369.8" width="0.6" height="0.6" fill="#444"/>
<rect x="123.7" y="340.8" width="0.6" height="0.6" fill="#888"/>
<rect x="94.2" y="345.2" width="0.6" height="0.6" fill="#888"/>
<rect x="126.4" y="319.4" width="0.6" height="0.6" fill="#555"/>
<rect x="94.3" y="337.4" width="0.6" height="0.6" fill="#555"/>
<ellipse cx="78" cy="310" rx="23" ry="7" fill="url(#marb)"/>
<ellipse cx="79" cy="310.3" rx="24" ry="9" fill="none" stroke="#4a1a1a" stroke-width="0.45" stroke-opacity="0.35"/>
<ellipse cx="79" cy="310.3" rx="21" ry="7" fill="none" stroke="#4a1a1a" stroke-width="0.45" stroke-opacity="0.5"/>
<ellipse cx="79" cy="310.3" rx="17" ry="5.3" fill="none" stroke="#4a1a1a" stroke-width="0.45" stroke-opacity="0.7"/>
<ellipse cx="79" cy="310.3" rx="13" ry="4" fill="none" stroke="#4a1a1a" stroke-width="0.45" stroke-opacity="0.8"/>
<ellipse cx="79" cy="310.3" rx="9" ry="2.8" fill="none" stroke="#4a1a1a" stroke-width="0.45" stroke-opacity="0.9"/>
<ellipse cx="79" cy="310.3" rx="5" ry="1.6" fill="none" stroke="#4a1a1a" stroke-width="0.45" stroke-opacity="1"/>
<rect x="54" y="296" width="3.2" height="27" fill="#4a1212" fill-opacity="0.85"/>
<ellipse cx="113" cy="312" rx="11" ry="8.5" fill="url(#grayb)"/>
<ellipse cx="112.5" cy="312" rx="9" ry="7" fill="none" stroke="#888" stroke-width="0.4"/>
<ellipse cx="112.5" cy="312" rx="7" ry="5.4" fill="none" stroke="#888" stroke-width="0.4"/>
<ellipse cx="112.5" cy="312" rx="5" ry="3.8" fill="none" stroke="#888" stroke-width="0.4"/>
<ellipse cx="112.5" cy="312" rx="3" ry="2.3" fill="none" stroke="#888" stroke-width="0.4"/>
<ellipse cx="88" cy="331" rx="18" ry="11" transform="rotate(-30 88 331)" fill="none" stroke="#8a8a8a" stroke-width="0.4"/>
<ellipse cx="88" cy="331" rx="14" ry="8.5" transform="rotate(-30 88 331)" fill="none" stroke="#8a8a8a" stroke-width="0.4"/>
<ellipse cx="88" cy="331" rx="10" ry="6" transform="rotate(-30 88 331)" fill="none" stroke="#8a8a8a" stroke-width="0.4"/>
<ellipse cx="88" cy="331" rx="6.5" ry="3.8" transform="rotate(-30 88 331)" fill="none" stroke="#8a8a8a" stroke-width="0.4"/>
<ellipse cx="88" cy="331" rx="3.5" ry="2" transform="rotate(-30 88 331)" fill="none" stroke="#8a8a8a" stroke-width="0.4"/>
<ellipse cx="72" cy="351" rx="16" ry="19" fill="url(#blueb)" fill-opacity="0.7"/>
<ellipse cx="70" cy="353" rx="18" ry="23" fill="none" stroke="#6a76bc" stroke-width="0.4" stroke-opacity="0.75"/>
<ellipse cx="70" cy="353" rx="15" ry="19" fill="none" stroke="#6a76bc" stroke-width="0.4" stroke-opacity="0.75"/>
<ellipse cx="70" cy="353" rx="12" ry="15.5" fill="none" stroke="#6a76bc" stroke-width="0.4" stroke-opacity="0.75"/>
<ellipse cx="70" cy="353" rx="9" ry="12" fill="none" stroke="#6a76bc" stroke-width="0.4" stroke-opacity="0.75"/>
<ellipse cx="70" cy="353" rx="6.5" ry="9" fill="none" stroke="#6a76bc" stroke-width="0.4" stroke-opacity="0.75"/>
<ellipse cx="70" cy="353" rx="4" ry="6" fill="none" stroke="#6a76bc" stroke-width="0.4" stroke-opacity="0.75"/>
<ellipse cx="70" cy="353" rx="2" ry="3" fill="none" stroke="#6a76bc" stroke-width="0.4" stroke-opacity="0.75"/>
<path d="M58,376 Q72,386 92,379 Q101,372 100,358" fill="none" stroke="#8a92cc" stroke-width="0.5"/>
<path d="M72,338 Q84,322 100,322 Q106,326 100,340" fill="none" stroke="#8a92cc" stroke-width="0.5"/>
<rect x="54" y="343" width="2" height="39" fill="#1d2a8a" fill-opacity="0.8"/>
<ellipse cx="114" cy="341" rx="10" ry="21" fill="none" stroke="#9a8a90" stroke-width="0.4"/>
<ellipse cx="114" cy="341" rx="8" ry="17" fill="none" stroke="#8a6a76" stroke-width="0.4"/>
<ellipse cx="114" cy="341" rx="6" ry="13" fill="none" stroke="#7a4a5a" stroke-width="0.4"/>
<ellipse cx="114" cy="341" rx="4" ry="9" fill="none" stroke="#6b3d4d" stroke-width="0.4"/>
<ellipse cx="114" cy="341" rx="2.5" ry="5.5" fill="none" stroke="#5a3040" stroke-width="0.4"/>
<ellipse cx="114" cy="341" rx="1.2" ry="2.5" fill="none" stroke="#4a2030" stroke-width="0.4"/>
<ellipse cx="114" cy="341" rx="4" ry="10" fill="#8a5566" fill-opacity="0.25"/>
<defs><linearGradient id="bband" x1="0" y1="0" x2="1" y2="0"><stop offset="0" stop-color="#1a237e"/><stop offset="0.45" stop-color="#333"/><stop offset="0.7" stop-color="#5a1a1a"/><stop offset="1" stop-color="#6a2a2a" stop-opacity="0.4"/></linearGradient></defs>
<rect x="54" y="380" width="87" height="2.2" fill="url(#bband)"/>
</g>
<line x1="101.5" y1="296" x2="101.5" y2="381.9" stroke="#c0393b" stroke-width="0.8"/>
<line x1="54" y1="323.4" x2="140.8" y2="323.4" stroke="#c0393b" stroke-width="0.8"/>
<rect x="54" y="296" width="86.80000000000001" height="85.89999999999998" fill="none" stroke="#555" stroke-width="0.8" rx="0"/>
<text x="135.5" y="377.6" font-size="10" fill="#111" text-anchor="end" textLength="28" lengthAdjust="spacingAndGlyphs" stroke="#111" stroke-width="0.22">CD45+</text>
<line x1="49.3" y1="382" x2="49.3" y2="301" stroke="#000" stroke-width="1.3"/>
<polygon points="49.3,296.5 46.599999999999994,302.5 49.3,301.0 52.0,302.5" fill="#000"/>
<line x1="55" y1="388" x2="136" y2="388" stroke="#000" stroke-width="1.3"/>
<polygon points="141,388 135,385.3 136.5,388 135,390.7" fill="#000"/>
<text x="41.4" y="338.6" font-size="11" fill="#1a1a1a" text-anchor="middle" textLength="80.5" lengthAdjust="spacingAndGlyphs" transform="rotate(-90 41.4 338.6)" stroke="#1a1a1a" stroke-width="0.22">CD45.2-PercP-Cy5.5</text>
<text x="97.7" y="405.2" font-size="10.5" fill="#1a1a1a" text-anchor="middle" textLength="43" lengthAdjust="spacingAndGlyphs" stroke="#1a1a1a" stroke-width="0.22">CD45.1-PE</text>
<line x1="141" y1="340.5" x2="174.77" y2="306.91" stroke="#000" stroke-width="1.2"/>
<polygon points="178,303.7 175.44,310.34 174.77,306.91 171.35,306.23" fill="#000"/>
<line x1="141" y1="340.5" x2="174.86" y2="369.82" stroke="#000" stroke-width="1.2"/>
<polygon points="178.3,372.8 171.49,370.74 174.86,369.82 175.28,366.35" fill="#000"/>
<path d="M199.30,287.21 L200.05,292.13 L200.80,283.35 L201.55,288.23 L202.30,279.85 L203.05,280.73 L203.80,273.75 L204.55,281.10 L205.30,270.22 L206.05,273.21 L206.80,268.16 L207.55,270.37 L208.30,263.42 L209.05,266.14 C209.51,264.44 210.98,255.12 211.90,255.50 C212.82,255.88 213.95,263.41 214.80,268.50 C215.65,273.59 216.45,281.46 217.20,287.30 C217.95,293.14 218.65,300.39 219.50,305.00 C220.35,309.61 221.56,313.86 222.50,316.10 C223.44,318.34 223.88,318.44 225.40,319.00 C226.92,319.56 228.86,319.50 232.00,319.60 C235.14,319.70 242.28,320.10 245.00,319.60 C247.72,319.10 247.96,317.64 249.00,316.50 C250.04,315.36 250.78,313.46 251.50,312.50 C252.22,311.54 252.86,310.61 253.50,310.50 C254.14,310.39 254.73,311.29 255.50,311.80 C256.27,312.31 257.50,314.31 258.30,313.70 C259.10,313.09 259.83,310.99 260.50,308.00 C261.17,305.01 261.86,299.64 262.50,295.00 C263.14,290.36 263.94,282.76 264.50,279.00 C265.06,275.24 265.60,272.81 266.00,271.50 C266.40,270.19 266.65,270.48 267.00,270.80 C267.35,271.12 267.72,271.23 268.20,273.50 C268.68,275.77 269.39,280.60 270.00,285.00 C270.61,289.40 271.36,296.68 272.00,301.00 C272.64,305.32 273.36,309.20 274.00,312.00 C274.64,314.80 275.44,317.03 276.00,318.50 C276.56,319.97 277.26,320.77 277.50,321.20 L277.50,321.2 L199.30,321.2 Z" fill="#86bd62" fill-opacity="0.62" stroke="none"/>
<path d="M199.30,313.20 C200.28,310.75 203.67,303.74 205.40,297.90 C207.13,292.06 208.96,283.48 210.10,276.70 C211.24,269.92 211.75,261.34 212.50,255.50 C213.25,249.66 214.05,240.57 214.80,240.20 C215.55,239.83 216.45,246.42 217.20,253.20 C217.95,259.98 218.84,274.31 219.50,282.60 C220.16,290.89 220.64,299.35 221.30,305.00 C221.96,310.65 222.91,315.31 223.60,317.90 C224.29,320.49 225.28,320.67 225.60,321.20 L225.60,321.2 L199.30,321.2 Z" fill="#c2c2c2" fill-opacity="0.55" stroke="none"/>
<path d="M199.30,287.21 L200.05,292.13 L200.80,283.35 L201.55,288.23 L202.30,279.85 L203.05,280.73 L203.80,273.75 L204.55,281.10 L205.30,270.22 L206.05,273.21 L206.80,268.16 L207.55,270.37 L208.30,263.42 L209.05,266.14 C209.51,264.44 210.98,255.12 211.90,255.50 C212.82,255.88 213.95,263.41 214.80,268.50 C215.65,273.59 216.45,281.46 217.20,287.30 C217.95,293.14 218.65,300.39 219.50,305.00 C220.35,309.61 221.56,313.86 222.50,316.10 C223.44,318.34 223.88,318.44 225.40,319.00 C226.92,319.56 228.86,319.50 232.00,319.60 C235.14,319.70 242.28,320.10 245.00,319.60 C247.72,319.10 247.96,317.64 249.00,316.50 C250.04,315.36 250.78,313.46 251.50,312.50 C252.22,311.54 252.86,310.61 253.50,310.50 C254.14,310.39 254.73,311.29 255.50,311.80 C256.27,312.31 257.50,314.31 258.30,313.70 C259.10,313.09 259.83,310.99 260.50,308.00 C261.17,305.01 261.86,299.64 262.50,295.00 C263.14,290.36 263.94,282.76 264.50,279.00 C265.06,275.24 265.60,272.81 266.00,271.50 C266.40,270.19 266.65,270.48 267.00,270.80 C267.35,271.12 267.72,271.23 268.20,273.50 C268.68,275.77 269.39,280.60 270.00,285.00 C270.61,289.40 271.36,296.68 272.00,301.00 C272.64,305.32 273.36,309.20 274.00,312.00 C274.64,314.80 275.44,317.03 276.00,318.50 C276.56,319.97 277.26,320.77 277.50,321.20" fill="none" stroke="#5aa835" stroke-width="0.9" stroke-opacity="1.0" stroke-linejoin="round"/>
<path d="M199.30,313.20 C200.28,310.75 203.67,303.74 205.40,297.90 C207.13,292.06 208.96,283.48 210.10,276.70 C211.24,269.92 211.75,261.34 212.50,255.50 C213.25,249.66 214.05,240.57 214.80,240.20 C215.55,239.83 216.45,246.42 217.20,253.20 C217.95,259.98 218.84,274.31 219.50,282.60 C220.16,290.89 220.64,299.35 221.30,305.00 C221.96,310.65 222.91,315.31 223.60,317.90 C224.29,320.49 225.28,320.67 225.60,321.20" fill="none" stroke="#000" stroke-width="1.25" stroke-opacity="1.0" stroke-linejoin="round"/>
<path d="M328.10,321.20 C329.80,320.80 336.16,319.66 338.70,318.70 C341.24,317.74 342.45,316.90 344.00,315.20 C345.55,313.50 347.12,309.81 348.40,308.10 C349.68,306.39 351.01,304.50 352.00,304.50 C352.99,304.50 353.61,306.63 354.60,308.10 C355.59,309.57 357.21,313.70 358.20,313.70 C359.19,313.70 360.10,312.68 360.80,308.10 C361.50,303.52 362.04,293.04 362.60,285.10 C363.16,277.16 363.74,265.01 364.30,258.50 C364.86,251.99 365.59,247.28 366.10,244.40 C366.61,241.52 367.07,239.94 367.50,240.50 C367.93,241.06 368.32,244.17 368.80,247.90 C369.28,251.63 369.99,259.27 370.50,263.80 C371.01,268.33 371.49,272.79 372.00,276.20 C372.51,279.61 373.22,281.13 373.70,285.10 C374.18,289.07 374.52,296.47 375.00,301.00 C375.48,305.53 376.14,310.17 376.70,313.40 C377.26,316.63 378.21,319.95 378.50,321.20 L378.50,321.2 L328.10,321.2 Z" fill="#86bd62" fill-opacity="0.62" stroke="none"/>
<path d="M300.60,313.40 C301.32,312.26 303.82,309.69 305.10,306.30 C306.38,302.91 307.46,298.42 308.60,292.20 C309.74,285.98 311.21,274.76 312.20,267.40 C313.19,260.04 314.10,250.50 314.80,246.20 C315.50,241.90 316.04,240.50 316.60,240.50 C317.16,240.50 317.74,241.90 318.30,246.20 C318.86,250.50 319.52,258.34 320.10,267.40 C320.68,276.46 321.32,295.15 321.90,302.80 C322.48,310.45 323.00,312.26 323.70,315.20 C324.40,318.14 325.88,320.24 326.30,321.20 L326.30,321.2 L300.60,321.2 Z" fill="#c2c2c2" fill-opacity="0.55" stroke="none"/>
<path d="M328.10,321.20 C329.80,320.80 336.16,319.66 338.70,318.70 C341.24,317.74 342.45,316.90 344.00,315.20 C345.55,313.50 347.12,309.81 348.40,308.10 C349.68,306.39 351.01,304.50 352.00,304.50 C352.99,304.50 353.61,306.63 354.60,308.10 C355.59,309.57 357.21,313.70 358.20,313.70 C359.19,313.70 360.10,312.68 360.80,308.10 C361.50,303.52 362.04,293.04 362.60,285.10 C363.16,277.16 363.74,265.01 364.30,258.50 C364.86,251.99 365.59,247.28 366.10,244.40 C366.61,241.52 367.07,239.94 367.50,240.50 C367.93,241.06 368.32,244.17 368.80,247.90 C369.28,251.63 369.99,259.27 370.50,263.80 C371.01,268.33 371.49,272.79 372.00,276.20 C372.51,279.61 373.22,281.13 373.70,285.10 C374.18,289.07 374.52,296.47 375.00,301.00 C375.48,305.53 376.14,310.17 376.70,313.40 C377.26,316.63 378.21,319.95 378.50,321.20" fill="none" stroke="#5aa835" stroke-width="0.9" stroke-opacity="1.0" stroke-linejoin="round"/>
<path d="M300.60,313.40 C301.32,312.26 303.82,309.69 305.10,306.30 C306.38,302.91 307.46,298.42 308.60,292.20 C309.74,285.98 311.21,274.76 312.20,267.40 C313.19,260.04 314.10,250.50 314.80,246.20 C315.50,241.90 316.04,240.50 316.60,240.50 C317.16,240.50 317.74,241.90 318.30,246.20 C318.86,250.50 319.52,258.34 320.10,267.40 C320.68,276.46 321.32,295.15 321.90,302.80 C322.48,310.45 323.00,312.26 323.70,315.20 C324.40,318.14 325.88,320.24 326.30,321.20" fill="none" stroke="#000" stroke-width="1.25" stroke-opacity="1.0" stroke-linejoin="round"/>
<path d="M401.50,285.37 L402.25,290.54 L403.00,282.07 L403.75,287.93 L404.50,278.08 L405.25,283.99 L406.00,272.13 L406.75,277.43 L407.50,271.06 L408.25,274.71 L409.00,267.11 L409.75,267.68 L410.50,262.00 L411.25,264.66 L412.00,258.40 C412.30,258.42 413.31,257.76 413.90,258.50 C414.49,259.24 415.00,260.17 415.70,263.00 C416.40,265.83 417.60,271.82 418.30,276.20 C419.00,280.58 419.38,285.30 420.10,290.40 C420.82,295.50 421.81,303.72 422.80,308.10 C423.79,312.48 424.83,316.10 426.30,317.80 C427.77,319.50 429.17,318.56 432.00,318.70 C434.83,318.84 441.52,319.26 444.00,318.70 C446.48,318.14 446.54,316.18 447.50,315.20 C448.46,314.22 449.28,313.14 450.00,312.60 C450.72,312.06 451.36,311.70 452.00,311.80 C452.64,311.90 453.30,312.40 454.00,313.20 C454.70,314.00 455.46,315.95 456.40,316.80 C457.34,317.65 458.92,318.95 459.90,318.50 C460.88,318.05 461.68,315.76 462.50,314.00 C463.32,312.24 464.20,309.34 465.00,307.50 C465.80,305.66 466.75,303.57 467.50,302.50 C468.25,301.43 469.06,300.75 469.70,300.80 C470.34,300.85 470.97,301.65 471.50,302.80 C472.03,303.95 472.47,306.21 473.00,308.00 C473.53,309.79 474.24,312.24 474.80,314.00 C475.36,315.76 475.99,317.85 476.50,319.00 C477.01,320.15 477.76,320.85 478.00,321.20 L478.00,321.2 L401.50,321.2 Z" fill="#86bd62" fill-opacity="0.62" stroke="none"/>
<path d="M401.50,314.30 C402.22,313.02 404.58,310.12 406.00,306.30 C407.42,302.48 409.18,296.62 410.40,290.40 C411.62,284.18 412.75,274.47 413.60,267.40 C414.45,260.33 415.08,250.58 415.70,246.20 C416.32,241.82 416.94,240.14 417.50,240.00 C418.06,239.86 418.64,240.92 419.20,245.30 C419.76,249.68 420.42,258.78 421.00,267.40 C421.58,276.02 422.24,291.84 422.80,299.20 C423.36,306.56 423.80,309.88 424.50,313.40 C425.20,316.92 426.77,319.95 427.20,321.20 L427.20,321.2 L401.50,321.2 Z" fill="#c2c2c2" fill-opacity="0.55" stroke="none"/>
<path d="M401.50,285.37 L402.25,290.54 L403.00,282.07 L403.75,287.93 L404.50,278.08 L405.25,283.99 L406.00,272.13 L406.75,277.43 L407.50,271.06 L408.25,274.71 L409.00,267.11 L409.75,267.68 L410.50,262.00 L411.25,264.66 L412.00,258.40 C412.30,258.42 413.31,257.76 413.90,258.50 C414.49,259.24 415.00,260.17 415.70,263.00 C416.40,265.83 417.60,271.82 418.30,276.20 C419.00,280.58 419.38,285.30 420.10,290.40 C420.82,295.50 421.81,303.72 422.80,308.10 C423.79,312.48 424.83,316.10 426.30,317.80 C427.77,319.50 429.17,318.56 432.00,318.70 C434.83,318.84 441.52,319.26 444.00,318.70 C446.48,318.14 446.54,316.18 447.50,315.20 C448.46,314.22 449.28,313.14 450.00,312.60 C450.72,312.06 451.36,311.70 452.00,311.80 C452.64,311.90 453.30,312.40 454.00,313.20 C454.70,314.00 455.46,315.95 456.40,316.80 C457.34,317.65 458.92,318.95 459.90,318.50 C460.88,318.05 461.68,315.76 462.50,314.00 C463.32,312.24 464.20,309.34 465.00,307.50 C465.80,305.66 466.75,303.57 467.50,302.50 C468.25,301.43 469.06,300.75 469.70,300.80 C470.34,300.85 470.97,301.65 471.50,302.80 C472.03,303.95 472.47,306.21 473.00,308.00 C473.53,309.79 474.24,312.24 474.80,314.00 C475.36,315.76 475.99,317.85 476.50,319.00 C477.01,320.15 477.76,320.85 478.00,321.20" fill="none" stroke="#5aa835" stroke-width="0.9" stroke-opacity="1.0" stroke-linejoin="round"/>
<path d="M401.50,314.30 C402.22,313.02 404.58,310.12 406.00,306.30 C407.42,302.48 409.18,296.62 410.40,290.40 C411.62,284.18 412.75,274.47 413.60,267.40 C414.45,260.33 415.08,250.58 415.70,246.20 C416.32,241.82 416.94,240.14 417.50,240.00 C418.06,239.86 418.64,240.92 419.20,245.30 C419.76,249.68 420.42,258.78 421.00,267.40 C421.58,276.02 422.24,291.84 422.80,299.20 C423.36,306.56 423.80,309.88 424.50,313.40 C425.20,316.92 426.77,319.95 427.20,321.20" fill="none" stroke="#000" stroke-width="1.25" stroke-opacity="1.0" stroke-linejoin="round"/>
<path d="M199.50,441.00 C200.64,440.63 204.33,440.49 206.60,438.70 C208.87,436.91 211.72,433.77 213.70,429.80 C215.68,425.83 217.59,420.68 219.00,413.90 C220.41,407.12 221.51,395.03 222.50,387.40 C223.49,379.77 224.40,370.31 225.20,366.20 C226.00,362.09 226.80,361.14 227.50,361.70 C228.20,362.26 228.98,365.03 229.60,369.70 C230.22,374.37 230.82,384.39 231.40,390.90 C231.98,397.41 232.50,405.30 233.20,410.40 C233.90,415.50 234.82,419.12 235.80,422.80 C236.78,426.48 238.31,430.71 239.30,433.40 C240.29,436.09 240.72,439.18 242.00,439.60 C243.28,440.02 246.16,436.85 247.30,436.00 C248.44,435.15 248.40,434.43 249.10,434.30 C249.80,434.17 250.85,435.92 251.70,435.20 C252.55,434.48 253.55,432.07 254.40,429.80 C255.25,427.53 256.30,421.27 257.00,421.00 C257.70,420.73 258.08,425.83 258.80,428.10 C259.52,430.37 260.65,432.93 261.50,435.20 C262.35,437.47 260.50,441.16 264.10,442.30 C267.70,443.44 280.58,443.47 284.00,442.30 C287.42,441.13 285.26,436.17 285.50,435.00 L285.50,442.3 L199.50,442.3 Z" fill="#d6a66c" fill-opacity="1" stroke="none"/>
<path d="M199.50,441.00 C201.21,440.07 207.64,437.55 210.20,435.20 C212.76,432.85 213.95,430.27 215.50,426.30 C217.05,422.33 218.78,416.06 219.90,410.40 C221.02,404.74 221.80,396.85 222.50,390.90 C223.20,384.95 223.68,377.78 224.30,373.20 C224.92,368.62 225.78,362.57 226.40,362.30 C227.02,362.03 227.62,365.79 228.20,371.50 C228.78,377.21 229.34,390.64 230.00,398.00 C230.66,405.36 231.37,412.68 232.30,417.50 C233.23,422.32 234.81,425.27 235.80,428.10 C236.79,430.93 237.65,432.93 238.50,435.20 C239.35,437.47 240.68,441.16 241.10,442.30 L241.10,442.3 L199.50,442.3 Z" fill="#c2c2c2" fill-opacity="0.55" stroke="none"/>
<path d="M199.50,441.00 C200.64,440.63 204.33,440.49 206.60,438.70 C208.87,436.91 211.72,433.77 213.70,429.80 C215.68,425.83 217.59,420.68 219.00,413.90 C220.41,407.12 221.51,395.03 222.50,387.40 C223.49,379.77 224.40,370.31 225.20,366.20 C226.00,362.09 226.80,361.14 227.50,361.70 C228.20,362.26 228.98,365.03 229.60,369.70 C230.22,374.37 230.82,384.39 231.40,390.90 C231.98,397.41 232.50,405.30 233.20,410.40 C233.90,415.50 234.82,419.12 235.80,422.80 C236.78,426.48 238.31,430.71 239.30,433.40 C240.29,436.09 240.72,439.18 242.00,439.60 C243.28,440.02 246.16,436.85 247.30,436.00 C248.44,435.15 248.40,434.43 249.10,434.30 C249.80,434.17 250.85,435.92 251.70,435.20 C252.55,434.48 253.55,432.07 254.40,429.80 C255.25,427.53 256.30,421.27 257.00,421.00 C257.70,420.73 258.08,425.83 258.80,428.10 C259.52,430.37 260.65,432.93 261.50,435.20 C262.35,437.47 260.50,441.16 264.10,442.30 C267.70,443.44 280.58,443.47 284.00,442.30 C287.42,441.13 285.26,436.17 285.50,435.00" fill="none" stroke="#c0772a" stroke-width="1.0" stroke-opacity="1.0" stroke-linejoin="round"/>
<path d="M199.50,441.00 C201.21,440.07 207.64,437.55 210.20,435.20 C212.76,432.85 213.95,430.27 215.50,426.30 C217.05,422.33 218.78,416.06 219.90,410.40 C221.02,404.74 221.80,396.85 222.50,390.90 C223.20,384.95 223.68,377.78 224.30,373.20 C224.92,368.62 225.78,362.57 226.40,362.30 C227.02,362.03 227.62,365.79 228.20,371.50 C228.78,377.21 229.34,390.64 230.00,398.00 C230.66,405.36 231.37,412.68 232.30,417.50 C233.23,422.32 234.81,425.27 235.80,428.10 C236.79,430.93 237.65,432.93 238.50,435.20 C239.35,437.47 240.68,441.16 241.10,442.30" fill="none" stroke="#000" stroke-width="1.25" stroke-opacity="1.0" stroke-linejoin="round"/>
<path d="M300.70,441.30 C301.96,440.85 306.34,440.47 308.60,438.50 C310.86,436.53 313.10,432.60 314.80,429.00 C316.50,425.40 318.06,421.28 319.20,416.00 C320.34,410.72 321.05,402.56 321.90,396.00 C322.75,389.44 323.60,380.12 324.50,375.00 C325.40,369.88 326.88,365.98 327.50,364.00 C328.12,362.02 328.00,361.96 328.40,362.60 C328.80,363.24 329.34,364.03 330.00,368.00 C330.66,371.97 331.54,379.21 332.50,387.40 C333.46,395.59 334.72,411.84 336.00,419.20 C337.28,426.56 339.36,430.14 340.50,433.40 C341.64,436.66 342.25,438.75 343.10,439.60 C343.95,440.45 344.95,438.80 345.80,438.70 C346.65,438.60 347.55,439.14 348.40,439.00 C349.25,438.86 350.11,438.28 351.10,437.80 C352.09,437.32 353.61,436.56 354.60,436.00 C355.59,435.44 356.45,434.01 357.30,434.30 C358.15,434.59 358.78,436.68 359.90,437.80 C361.02,438.92 360.28,440.58 364.30,441.30 C368.32,442.02 381.45,442.99 385.00,442.30 C388.55,441.61 386.26,437.85 386.50,437.00 L386.50,442.3 L300.70,442.3 Z" fill="#d6a66c" fill-opacity="1" stroke="none"/>
<path d="M300.70,441.30 C301.96,440.88 306.34,440.54 308.60,438.70 C310.86,436.86 313.10,433.19 314.80,429.80 C316.50,426.41 318.06,422.59 319.20,417.50 C320.34,412.41 321.05,404.51 321.90,398.00 C322.75,391.49 323.65,382.40 324.50,376.80 C325.35,371.20 326.48,363.85 327.20,363.00 C327.92,362.15 328.44,366.19 329.00,371.50 C329.56,376.81 330.00,388.57 330.70,396.20 C331.40,403.83 332.41,414.10 333.40,419.20 C334.39,424.30 335.91,425.54 336.90,428.10 C337.89,430.66 338.80,432.93 339.60,435.20 C340.40,437.47 341.53,441.16 341.90,442.30 L341.90,442.3 L300.70,442.3 Z" fill="#c2c2c2" fill-opacity="0.55" stroke="none"/>
<path d="M300.70,441.30 C301.96,440.85 306.34,440.47 308.60,438.50 C310.86,436.53 313.10,432.60 314.80,429.00 C316.50,425.40 318.06,421.28 319.20,416.00 C320.34,410.72 321.05,402.56 321.90,396.00 C322.75,389.44 323.60,380.12 324.50,375.00 C325.40,369.88 326.88,365.98 327.50,364.00 C328.12,362.02 328.00,361.96 328.40,362.60 C328.80,363.24 329.34,364.03 330.00,368.00 C330.66,371.97 331.54,379.21 332.50,387.40 C333.46,395.59 334.72,411.84 336.00,419.20 C337.28,426.56 339.36,430.14 340.50,433.40 C341.64,436.66 342.25,438.75 343.10,439.60 C343.95,440.45 344.95,438.80 345.80,438.70 C346.65,438.60 347.55,439.14 348.40,439.00 C349.25,438.86 350.11,438.28 351.10,437.80 C352.09,437.32 353.61,436.56 354.60,436.00 C355.59,435.44 356.45,434.01 357.30,434.30 C358.15,434.59 358.78,436.68 359.90,437.80 C361.02,438.92 360.28,440.58 364.30,441.30 C368.32,442.02 381.45,442.99 385.00,442.30 C388.55,441.61 386.26,437.85 386.50,437.00" fill="none" stroke="#c0772a" stroke-width="1.0" stroke-opacity="1.0" stroke-linejoin="round"/>
<path d="M300.70,441.30 C301.96,440.88 306.34,440.54 308.60,438.70 C310.86,436.86 313.10,433.19 314.80,429.80 C316.50,426.41 318.06,422.59 319.20,417.50 C320.34,412.41 321.05,404.51 321.90,398.00 C322.75,391.49 323.65,382.40 324.50,376.80 C325.35,371.20 326.48,363.85 327.20,363.00 C327.92,362.15 328.44,366.19 329.00,371.50 C329.56,376.81 330.00,388.57 330.70,396.20 C331.40,403.83 332.41,414.10 333.40,419.20 C334.39,424.30 335.91,425.54 336.90,428.10 C337.89,430.66 338.80,432.93 339.60,435.20 C340.40,437.47 341.53,441.16 341.90,442.30" fill="none" stroke="#000" stroke-width="1.25" stroke-opacity="1.0" stroke-linejoin="round"/>
<path d="M401.50,441.30 C402.64,440.88 406.33,439.96 408.60,438.70 C410.87,437.44 413.86,436.23 415.70,433.40 C417.54,430.57 418.96,425.70 420.10,421.00 C421.24,416.30 421.95,409.76 422.80,404.00 C423.65,398.24 424.65,389.48 425.40,385.00 C426.15,380.52 426.84,377.89 427.50,376.00 C428.16,374.11 428.84,371.95 429.50,373.20 C430.16,374.45 430.83,377.29 431.60,383.80 C432.37,390.31 433.31,405.96 434.30,413.90 C435.29,421.84 436.95,428.86 437.80,433.40 C438.65,437.94 439.31,440.88 439.60,442.30 L439.60,442.3 L401.50,442.3 Z" fill="#d6a66c" fill-opacity="1" stroke="none"/>
<path d="M443.10,442.30 C443.68,440.59 445.71,435.30 446.70,431.60 C447.69,427.90 448.45,423.44 449.30,419.20 C450.15,414.96 451.20,408.78 452.00,405.10 C452.80,401.42 453.66,399.88 454.30,396.20 C454.94,392.52 455.38,386.63 456.00,382.10 C456.62,377.57 457.62,371.07 458.20,367.90 C458.78,364.73 459.10,361.72 459.60,362.30 C460.10,362.88 460.74,368.06 461.30,371.50 C461.86,374.94 462.62,379.56 463.10,383.80 C463.58,388.04 463.82,392.61 464.30,398.00 C464.78,403.39 465.52,412.12 466.10,417.50 C466.68,422.88 467.20,428.06 467.90,431.60 C468.60,435.14 469.52,437.89 470.50,439.60 C471.48,441.31 471.44,441.87 474.00,442.30 C476.56,442.73 484.26,443.44 486.50,442.30 C488.74,441.16 487.76,436.34 488.00,435.20 L488.00,442.3 L443.10,442.3 Z" fill="#d6a66c" fill-opacity="1" stroke="none"/>
<path d="M401.50,441.30 C402.64,440.88 406.33,439.96 408.60,438.70 C410.87,437.44 413.86,436.23 415.70,433.40 C417.54,430.57 418.96,425.82 420.10,421.00 C421.24,416.18 421.95,410.10 422.80,403.30 C423.65,396.50 424.70,384.44 425.40,378.50 C426.10,372.56 426.72,368.79 427.20,366.20 C427.68,363.61 427.98,362.03 428.40,362.30 C428.82,362.57 429.29,363.88 429.80,367.90 C430.31,371.92 431.02,380.89 431.60,387.40 C432.18,393.91 432.70,402.94 433.40,408.60 C434.10,414.26 435.15,419.12 436.00,422.80 C436.85,426.48 437.85,429.62 438.70,431.60 C439.55,433.58 440.60,433.78 441.30,435.20 C442.00,436.62 442.67,439.36 443.10,440.50 C443.53,441.64 443.86,442.01 444.00,442.30 L444.00,442.3 L401.50,442.3 Z" fill="#c2c2c2" fill-opacity="0.55" stroke="none"/>
<path d="M401.50,441.30 C402.64,440.88 406.33,439.96 408.60,438.70 C410.87,437.44 413.86,436.23 415.70,433.40 C417.54,430.57 418.96,425.70 420.10,421.00 C421.24,416.30 421.95,409.76 422.80,404.00 C423.65,398.24 424.65,389.48 425.40,385.00 C426.15,380.52 426.84,377.89 427.50,376.00 C428.16,374.11 428.84,371.95 429.50,373.20 C430.16,374.45 430.83,377.29 431.60,383.80 C432.37,390.31 433.31,405.96 434.30,413.90 C435.29,421.84 436.95,428.86 437.80,433.40 C438.65,437.94 439.31,440.88 439.60,442.30" fill="none" stroke="#c0772a" stroke-width="1.0" stroke-opacity="1.0" stroke-linejoin="round"/>
<path d="M443.10,442.30 C443.68,440.59 445.71,435.30 446.70,431.60 C447.69,427.90 448.45,423.44 449.30,419.20 C450.15,414.96 451.20,408.78 452.00,405.10 C452.80,401.42 453.66,399.88 454.30,396.20 C454.94,392.52 455.38,386.63 456.00,382.10 C456.62,377.57 457.62,371.07 458.20,367.90 C458.78,364.73 459.10,361.72 459.60,362.30 C460.10,362.88 460.74,368.06 461.30,371.50 C461.86,374.94 462.62,379.56 463.10,383.80 C463.58,388.04 463.82,392.61 464.30,398.00 C464.78,403.39 465.52,412.12 466.10,417.50 C466.68,422.88 467.20,428.06 467.90,431.60 C468.60,435.14 469.52,437.89 470.50,439.60 C471.48,441.31 471.44,441.87 474.00,442.30 C476.56,442.73 484.26,443.44 486.50,442.30 C488.74,441.16 487.76,436.34 488.00,435.20" fill="none" stroke="#c0772a" stroke-width="1.0" stroke-opacity="1.0" stroke-linejoin="round"/>
<path d="M401.50,441.30 C402.64,440.88 406.33,439.96 408.60,438.70 C410.87,437.44 413.86,436.23 415.70,433.40 C417.54,430.57 418.96,425.82 420.10,421.00 C421.24,416.18 421.95,410.10 422.80,403.30 C423.65,396.50 424.70,384.44 425.40,378.50 C426.10,372.56 426.72,368.79 427.20,366.20 C427.68,363.61 427.98,362.03 428.40,362.30 C428.82,362.57 429.29,363.88 429.80,367.90 C430.31,371.92 431.02,380.89 431.60,387.40 C432.18,393.91 432.70,402.94 433.40,408.60 C434.10,414.26 435.15,419.12 436.00,422.80 C436.85,426.48 437.85,429.62 438.70,431.60 C439.55,433.58 440.60,433.78 441.30,435.20 C442.00,436.62 442.67,439.36 443.10,440.50 C443.53,441.64 443.86,442.01 444.00,442.30" fill="none" stroke="#000" stroke-width="1.25" stroke-opacity="1.0" stroke-linejoin="round"/>
<rect x="199.3" y="235" width="86.69999999999999" height="86.19999999999999" fill="none" stroke="#000" stroke-width="1.5" rx="0"/>
<text x="203.5" y="244.4" font-size="7.6" fill="#222" stroke="#222" stroke-width="0.22" letter-spacing="0.4">I</text>
<rect x="300.6" y="235" width="86.19999999999999" height="86.19999999999999" fill="none" stroke="#000" stroke-width="1.5" rx="0"/>
<text x="304.8" y="244.4" font-size="7.6" fill="#222" stroke="#222" stroke-width="0.22" letter-spacing="0.4">II</text>
<rect x="401.5" y="235" width="86.5" height="86.19999999999999" fill="none" stroke="#000" stroke-width="1.5" rx="0"/>
<text x="405.7" y="244.4" font-size="7.6" fill="#222" stroke="#222" stroke-width="0.22" letter-spacing="0.4">III</text>
<rect x="199.3" y="356" width="86.69999999999999" height="86.30000000000001" fill="none" stroke="#000" stroke-width="1.5" rx="0"/>
<text x="203.5" y="365.4" font-size="7.6" fill="#222" stroke="#222" stroke-width="0.22" letter-spacing="0.4">I</text>
<rect x="300.6" y="356" width="86.19999999999999" height="86.30000000000001" fill="none" stroke="#000" stroke-width="1.5" rx="0"/>
<text x="304.8" y="365.4" font-size="7.6" fill="#222" stroke="#222" stroke-width="0.22" letter-spacing="0.4">II</text>
<rect x="401.5" y="356" width="86.5" height="86.30000000000001" fill="none" stroke="#000" stroke-width="1.5" rx="0"/>
<text x="405.7" y="365.4" font-size="7.6" fill="#222" stroke="#222" stroke-width="0.22" letter-spacing="0.4">III</text>
<line x1="240.8" y1="288.7" x2="286" y2="288.7" stroke="#222" stroke-width="1.0"/>
<line x1="240.8" y1="286.5" x2="240.8" y2="290.9" stroke="#222" stroke-width="0.9"/>
<text x="240.8" y="285.2" font-size="9" fill="#1a1a1a" textLength="19.6" lengthAdjust="spacingAndGlyphs" stroke="#1a1a1a" stroke-width="0.22">9.0%</text>
<line x1="342.2" y1="288.3" x2="386.8" y2="288.3" stroke="#222" stroke-width="1.0"/>
<line x1="342.2" y1="286.1" x2="342.2" y2="290.5" stroke="#222" stroke-width="0.9"/>
<text x="337.8" y="284.8" font-size="9" fill="#1a1a1a" textLength="24.8" lengthAdjust="spacingAndGlyphs" stroke="#1a1a1a" stroke-width="0.22">34.2%</text>
<line x1="443.1" y1="288.6" x2="488" y2="288.6" stroke="#222" stroke-width="1.0"/>
<line x1="443.1" y1="286.40000000000003" x2="443.1" y2="290.8" stroke="#222" stroke-width="0.9"/>
<text x="455" y="285.1" font-size="9" fill="#1a1a1a" textLength="20" lengthAdjust="spacingAndGlyphs" stroke="#1a1a1a" stroke-width="0.22">5.7%</text>
<line x1="246.1" y1="404.5" x2="286" y2="404.5" stroke="#222" stroke-width="1.0"/>
<line x1="246.1" y1="402.3" x2="246.1" y2="406.7" stroke="#222" stroke-width="0.9"/>
<text x="255.3" y="401.0" font-size="9" fill="#1a1a1a" textLength="19.4" lengthAdjust="spacingAndGlyphs" stroke="#1a1a1a" stroke-width="0.22">8.9%</text>
<line x1="347.2" y1="404.5" x2="386.8" y2="404.5" stroke="#222" stroke-width="1.0"/>
<line x1="347.2" y1="402.3" x2="347.2" y2="406.7" stroke="#222" stroke-width="0.9"/>
<text x="356.4" y="401.0" font-size="9" fill="#1a1a1a" textLength="19.4" lengthAdjust="spacingAndGlyphs" stroke="#1a1a1a" stroke-width="0.22">4.9%</text>
<line x1="441.3" y1="403.7" x2="488" y2="403.7" stroke="#222" stroke-width="1.0"/>
<line x1="441.3" y1="401.5" x2="441.3" y2="405.9" stroke="#222" stroke-width="0.9"/>
<text x="463.1" y="400.2" font-size="9" fill="#1a1a1a" textLength="24.2" lengthAdjust="spacingAndGlyphs" stroke="#1a1a1a" stroke-width="0.22">33.1%</text>
<line x1="194.8" y1="321.7" x2="194.8" y2="240" stroke="#000" stroke-width="1.2"/>
<polygon points="194.8,235.3 192.20000000000002,241.3 194.8,239.8 197.4,241.3" fill="#000"/>
<text x="186" y="278.1" font-size="10" fill="#1a1a1a" text-anchor="middle" textLength="41" lengthAdjust="spacingAndGlyphs" transform="rotate(-90 186 278.1)" stroke="#1a1a1a" stroke-width="0.22">Cell count</text>
<line x1="194.8" y1="442.8" x2="194.8" y2="361" stroke="#000" stroke-width="1.2"/>
<polygon points="194.8,356.3 192.20000000000002,362.3 194.8,360.8 197.4,362.3" fill="#000"/>
<text x="186" y="399.15" font-size="10" fill="#1a1a1a" text-anchor="middle" textLength="41" lengthAdjust="spacingAndGlyphs" transform="rotate(-90 186 399.15)" stroke="#1a1a1a" stroke-width="0.22">Cell count</text>
<line x1="199" y1="327.9" x2="482" y2="327.9" stroke="#000" stroke-width="1.2"/>
<polygon points="488,327.9 481.5,325.2 483.125,327.9 481.5,330.59999999999997" fill="#000"/>
<line x1="199" y1="448.8" x2="481" y2="448.8" stroke="#000" stroke-width="1.2"/>
<polygon points="487.3,448.8 480.8,446.1 482.425,448.8 480.8,451.5" fill="#000"/>
<text x="344.2" y="345" font-size="11" fill="#1a1a1a" text-anchor="middle" textLength="16.3" lengthAdjust="spacingAndGlyphs" stroke="#1a1a1a" stroke-width="0.22">GFP</text>
<text x="352.8" y="462.9" font-size="11" fill="#1a1a1a" text-anchor="middle" textLength="43" lengthAdjust="spacingAndGlyphs" stroke="#1a1a1a" stroke-width="0.22">CD45.1-PE</text>
<text x="29.2" y="482.7" font-size="14" fill="#000" font-weight="bold">D</text>
<line x1="64.2" y1="492.3" x2="64.2" y2="599.7" stroke="#000" stroke-width="1.4"/>
<line x1="63.6" y1="599.1" x2="178.9" y2="599.1" stroke="#000" stroke-width="1.4"/>
<line x1="61.3" y1="599.1" x2="64.2" y2="599.1" stroke="#000" stroke-width="1.1"/>
<text x="58.3" y="602.6" font-size="9.8" fill="#1a1a1a" text-anchor="end" textLength="5.8" lengthAdjust="spacingAndGlyphs" stroke="#1a1a1a" stroke-width="0.22">0</text>
<line x1="61.3" y1="578.36" x2="64.2" y2="578.36" stroke="#000" stroke-width="1.1"/>
<text x="58.3" y="581.86" font-size="9.8" fill="#1a1a1a" text-anchor="end" textLength="11.8" lengthAdjust="spacingAndGlyphs" stroke="#1a1a1a" stroke-width="0.22">10</text>
<line x1="61.3" y1="557.62" x2="64.2" y2="557.62" stroke="#000" stroke-width="1.1"/>
<text x="58.3" y="561.12" font-size="9.8" fill="#1a1a1a" text-anchor="end" textLength="11.8" lengthAdjust="spacingAndGlyphs" stroke="#1a1a1a" stroke-width="0.22">20</text>
<line x1="61.3" y1="536.88" x2="64.2" y2="536.88" stroke="#000" stroke-width="1.1"/>
<text x="58.3" y="540.38" font-size="9.8" fill="#1a1a1a" text-anchor="end" textLength="11.8" lengthAdjust="spacingAndGlyphs" stroke="#1a1a1a" stroke-width="0.22">30</text>
<line x1="61.3" y1="516.14" x2="64.2" y2="516.14" stroke="#000" stroke-width="1.1"/>
<text x="58.3" y="519.64" font-size="9.8" fill="#1a1a1a" text-anchor="end" textLength="11.8" lengthAdjust="spacingAndGlyphs" stroke="#1a1a1a" stroke-width="0.22">40</text>
<line x1="61.3" y1="495.40000000000003" x2="64.2" y2="495.40000000000003" stroke="#000" stroke-width="1.1"/>
<text x="58.3" y="498.90000000000003" font-size="9.8" fill="#1a1a1a" text-anchor="end" textLength="11.8" lengthAdjust="spacingAndGlyphs" stroke="#1a1a1a" stroke-width="0.22">50</text>
<rect x="71.4" y="569" width="9.5" height="30.100000000000023" fill="#356b4f" stroke="none" stroke-width="1" rx="0"/>
<line x1="76.15" y1="569" x2="76.15" y2="564.4" stroke="#222" stroke-width="1.1"/>
<line x1="73.95" y1="564.4" x2="78.35000000000001" y2="564.4" stroke="#222" stroke-width="1.1"/>
<rect x="85.4" y="574.2" width="9.7" height="24.899999999999977" fill="#b06f28" stroke="none" stroke-width="1" rx="0"/>
<line x1="90.25" y1="574.2" x2="90.25" y2="570.6" stroke="#222" stroke-width="1.1"/>
<line x1="88.05" y1="570.6" x2="92.45" y2="570.6" stroke="#222" stroke-width="1.1"/>
<rect x="109.9" y="530.6" width="9.3" height="68.5" fill="#356b4f" stroke="none" stroke-width="1" rx="0"/>
<line x1="114.55000000000001" y1="530.6" x2="114.55000000000001" y2="524.9" stroke="#222" stroke-width="1.1"/>
<line x1="112.35000000000001" y1="524.9" x2="116.75000000000001" y2="524.9" stroke="#222" stroke-width="1.1"/>
<rect x="123.9" y="578.3" width="9.5" height="20.800000000000068" fill="#b06f28" stroke="none" stroke-width="1" rx="0"/>
<line x1="128.65" y1="578.3" x2="128.65" y2="575.3" stroke="#222" stroke-width="1.1"/>
<line x1="126.45" y1="575.3" x2="130.85" y2="575.3" stroke="#222" stroke-width="1.1"/>
<rect x="148.2" y="580" width="9.3" height="19.100000000000023" fill="#356b4f" stroke="none" stroke-width="1" rx="0"/>
<line x1="152.85" y1="580" x2="152.85" y2="575.7" stroke="#222" stroke-width="1.1"/>
<line x1="150.65" y1="575.7" x2="155.04999999999998" y2="575.7" stroke="#222" stroke-width="1.1"/>
<rect x="162.4" y="530.3" width="9.5" height="68.80000000000007" fill="#b06f28" stroke="none" stroke-width="1" rx="0"/>
<line x1="167.15" y1="530.3" x2="167.15" y2="512.3" stroke="#222" stroke-width="1.1"/>
<line x1="164.95000000000002" y1="512.3" x2="169.35" y2="512.3" stroke="#222" stroke-width="1.1"/>
<polygon points="126.58,568.95 127.07,570.21 128.43,570.30 127.38,571.16 127.72,572.48 126.58,571.75 125.43,572.48 125.77,571.16 124.72,570.30 126.08,570.21" fill="#111"/>
<polygon points="130.72,568.95 131.22,570.21 132.58,570.30 131.53,571.16 131.87,572.48 130.72,571.75 129.58,572.48 129.92,571.16 128.87,570.30 130.23,570.21" fill="#111"/>
<polygon points="150.58,568.95 151.07,570.21 152.43,570.30 151.38,571.16 151.72,572.48 150.58,571.75 149.43,572.48 149.77,571.16 148.72,570.30 150.08,570.21" fill="#111"/>
<polygon points="154.73,568.95 155.22,570.21 156.58,570.30 155.53,571.16 155.87,572.48 154.73,571.75 153.58,572.48 153.92,571.16 152.87,570.30 154.23,570.21" fill="#111"/>
<text x="82.8" y="611" font-size="9" fill="#1a1a1a" text-anchor="middle" stroke="#1a1a1a" stroke-width="0.22" letter-spacing="0.2">I</text>
<text x="121.7" y="611" font-size="9" fill="#1a1a1a" text-anchor="middle" stroke="#1a1a1a" stroke-width="0.22" letter-spacing="0.2">II</text>
<text x="160" y="611" font-size="9" fill="#1a1a1a" text-anchor="middle" stroke="#1a1a1a" stroke-width="0.22" letter-spacing="0.2">III</text>
<rect x="66.6" y="495.5" width="7.4" height="4" fill="#356b4f" stroke="none" stroke-width="1" rx="0"/>
<rect x="66.6" y="507" width="7.4" height="4" fill="#b06f28" stroke="none" stroke-width="1" rx="0"/>
<text x="77.6" y="500.1" font-size="8.8" fill="#1a1a1a" textLength="22.5" lengthAdjust="spacingAndGlyphs" stroke="#1a1a1a" stroke-width="0.22">GFP+</text>
<text x="77.6" y="511.6" font-size="8.8" fill="#1a1a1a" textLength="35.7" lengthAdjust="spacingAndGlyphs" stroke="#1a1a1a" stroke-width="0.22">CD45.1+</text>
<text x="39.3" y="545.3" font-size="10" fill="#1a1a1a" text-anchor="middle" textLength="103" lengthAdjust="spacingAndGlyphs" transform="rotate(-90 39.3 545.3)" stroke="#1a1a1a" stroke-width="0.22">Donor cells (% of CD45+)</text>
<line x1="64.2" y1="651.7" x2="64.2" y2="763.9" stroke="#000" stroke-width="1.4"/>
<line x1="63.6" y1="707.7" x2="122" y2="707.7" stroke="#000" stroke-width="1.4"/>
<line x1="60.6" y1="654.7" x2="64.2" y2="654.7" stroke="#000" stroke-width="1.1"/>
<text x="56.6" y="658.1" font-size="9.6" fill="#1a1a1a" text-anchor="end" textLength="12.8" lengthAdjust="spacingAndGlyphs" stroke="#1a1a1a" stroke-width="0.22">1.0</text>
<line x1="60.6" y1="681.2" x2="64.2" y2="681.2" stroke="#000" stroke-width="1.1"/>
<text x="56.6" y="684.6" font-size="9.6" fill="#1a1a1a" text-anchor="end" textLength="12.8" lengthAdjust="spacingAndGlyphs" stroke="#1a1a1a" stroke-width="0.22">0.5</text>
<line x1="60.6" y1="707.7" x2="64.2" y2="707.7" stroke="#000" stroke-width="1.1"/>
<text x="56.6" y="711.1" font-size="9.6" fill="#1a1a1a" text-anchor="end" textLength="12.8" lengthAdjust="spacingAndGlyphs" stroke="#1a1a1a" stroke-width="0.22">0.0</text>
<line x1="60.6" y1="734.2" x2="64.2" y2="734.2" stroke="#000" stroke-width="1.1"/>
<text x="56.6" y="737.6" font-size="9.6" fill="#1a1a1a" text-anchor="end" textLength="18.4" lengthAdjust="spacingAndGlyphs" stroke="#1a1a1a" stroke-width="0.22">&#8722;0.5</text>
<line x1="60.6" y1="760.7" x2="64.2" y2="760.7" stroke="#000" stroke-width="1.1"/>
<text x="56.6" y="764.1" font-size="9.6" fill="#1a1a1a" text-anchor="end" textLength="18.4" lengthAdjust="spacingAndGlyphs" stroke="#1a1a1a" stroke-width="0.22">&#8722;1.0</text>
<rect x="67.2" y="704" width="12.8" height="3.7000000000000455" fill="#a80f30" stroke="none" stroke-width="1" rx="0"/>
<line x1="73.60000000000001" y1="704" x2="73.60000000000001" y2="702.2" stroke="#222" stroke-width="1.1"/>
<line x1="71.4" y1="702.2" x2="75.80000000000001" y2="702.2" stroke="#222" stroke-width="1.1"/>
<rect x="86.6" y="678.7" width="12.3" height="29.0" fill="#2b4a86" stroke="none" stroke-width="1" rx="0"/>
<line x1="92.75" y1="678.7" x2="92.75" y2="676.4" stroke="#222" stroke-width="1.1"/>
<line x1="90.55" y1="676.4" x2="94.95" y2="676.4" stroke="#222" stroke-width="1.1"/>
<rect x="105.7" y="707.7" width="12.7" height="30.299999999999955" fill="#6eab45" stroke="none" stroke-width="1" rx="0"/>
<line x1="112.05" y1="738" x2="112.05" y2="742.6" stroke="#222" stroke-width="1.1"/>
<line x1="109.8" y1="742.6" x2="114.3" y2="742.6" stroke="#222" stroke-width="1.1"/>
<polygon points="88.65,669.45 89.15,670.71 90.50,670.80 89.46,671.66 89.80,672.98 88.65,672.25 87.50,672.98 87.84,671.66 86.80,670.80 88.15,670.71" fill="#111"/>
<polygon points="92.80,669.45 93.30,670.71 94.65,670.80 93.61,671.66 93.95,672.98 92.80,672.25 91.65,672.98 91.99,671.66 90.95,670.80 92.30,670.71" fill="#111"/>
<polygon points="96.95,669.45 97.45,670.71 98.80,670.80 97.76,671.66 98.10,672.98 96.95,672.25 95.80,672.98 96.14,671.66 95.10,670.80 96.45,670.71" fill="#111"/>
<polygon points="107.75,747.35 108.25,748.61 109.60,748.70 108.56,749.56 108.90,750.88 107.75,750.15 106.60,750.88 106.94,749.56 105.90,748.70 107.25,748.61" fill="#111"/>
<polygon points="111.90,747.35 112.40,748.61 113.75,748.70 112.71,749.56 113.05,750.88 111.90,750.15 110.75,750.88 111.09,749.56 110.05,748.70 111.40,748.61" fill="#111"/>
<polygon points="116.05,747.35 116.55,748.61 117.90,748.70 116.86,749.56 117.20,750.88 116.05,750.15 114.90,750.88 115.24,749.56 114.20,748.70 115.55,748.61" fill="#111"/>
<text x="74" y="772.8" font-size="9" fill="#1a1a1a" text-anchor="middle" stroke="#1a1a1a" stroke-width="0.22" letter-spacing="-0.3">I</text>
<text x="93" y="772.8" font-size="9" fill="#1a1a1a" text-anchor="middle" stroke="#1a1a1a" stroke-width="0.22" letter-spacing="-0.3">II</text>
<text x="111.6" y="772.8" font-size="9" fill="#1a1a1a" text-anchor="middle" stroke="#1a1a1a" stroke-width="0.22" letter-spacing="-0.3">III</text>
<text x="17.2" y="707.5" font-size="10" fill="#1a1a1a" text-anchor="middle" textLength="122" lengthAdjust="spacingAndGlyphs" transform="rotate(-90 17.2 707.5)" stroke="#1a1a1a" stroke-width="0.22">Ratio of GFP+ / CD45.1+ cells</text>
<text x="30.6" y="707.5" font-size="10" fill="#1a1a1a" text-anchor="middle" textLength="31" lengthAdjust="spacingAndGlyphs" transform="rotate(-90 30.6 707.5)" stroke="#1a1a1a" stroke-width="0.22">(Log10)</text>
<polygon points="139.5,652.4 139.5,759.6 190.3,759.6" fill="url(#torange)"/>
<polygon points="139.5,652.4 190.3,652.4 139.5,759.6" fill="url(#tgreen)" style="mix-blend-mode:multiply"/>
<text x="164.8" y="660" font-size="7.6" fill="#fff" text-anchor="middle" textLength="13.5" lengthAdjust="spacingAndGlyphs">GFP</text>
<text x="164.8" y="669.3" font-size="7.6" fill="#fff" text-anchor="middle" textLength="33" lengthAdjust="spacingAndGlyphs">Dominant</text>
<text x="164.8" y="747.8" font-size="7.6" fill="#fff" text-anchor="middle" textLength="25" lengthAdjust="spacingAndGlyphs">CD45.1</text>
<text x="164.8" y="757" font-size="7.6" fill="#fff" text-anchor="middle" textLength="33" lengthAdjust="spacingAndGlyphs">Dominant</text>
<text x="218.8" y="482.7" font-size="14" fill="#000" font-weight="bold">E</text>
<line x1="273" y1="491.2" x2="273" y2="599.6" stroke="#000" stroke-width="1.4"/>
<line x1="272.4" y1="599" x2="477.3" y2="599" stroke="#000" stroke-width="1.4"/>
<line x1="269.8" y1="599.0" x2="273" y2="599.0" stroke="#000" stroke-width="1.1"/>
<text x="268.8" y="602.5" font-size="9.8" fill="#1a1a1a" text-anchor="end" textLength="5.8" lengthAdjust="spacingAndGlyphs" stroke="#1a1a1a" stroke-width="0.22">0</text>
<line x1="269.8" y1="578.18" x2="273" y2="578.18" stroke="#000" stroke-width="1.1"/>
<text x="268.8" y="581.68" font-size="9.8" fill="#1a1a1a" text-anchor="end" textLength="11.8" lengthAdjust="spacingAndGlyphs" stroke="#1a1a1a" stroke-width="0.22">20</text>
<line x1="269.8" y1="557.36" x2="273" y2="557.36" stroke="#000" stroke-width="1.1"/>
<text x="268.8" y="560.86" font-size="9.8" fill="#1a1a1a" text-anchor="end" textLength="11.8" lengthAdjust="spacingAndGlyphs" stroke="#1a1a1a" stroke-width="0.22">40</text>
<line x1="269.8" y1="536.54" x2="273" y2="536.54" stroke="#000" stroke-width="1.1"/>
<text x="268.8" y="540.04" font-size="9.8" fill="#1a1a1a" text-anchor="end" textLength="11.8" lengthAdjust="spacingAndGlyphs" stroke="#1a1a1a" stroke-width="0.22">60</text>
<line x1="269.8" y1="515.72" x2="273" y2="515.72" stroke="#000" stroke-width="1.1"/>
<text x="268.8" y="519.22" font-size="9.8" fill="#1a1a1a" text-anchor="end" textLength="11.8" lengthAdjust="spacingAndGlyphs" stroke="#1a1a1a" stroke-width="0.22">80</text>
<line x1="269.8" y1="494.9" x2="273" y2="494.9" stroke="#000" stroke-width="1.1"/>
<text x="268.8" y="498.4" font-size="9.8" fill="#1a1a1a" text-anchor="end" textLength="17.8" lengthAdjust="spacingAndGlyphs" stroke="#1a1a1a" stroke-width="0.22">100</text>
<rect x="278.2" y="584.2" width="7.4" height="14.799999999999955" fill="#356b4f" stroke="none" stroke-width="1" rx="0"/>
<line x1="281.9" y1="584.2" x2="281.9" y2="579.5" stroke="#222" stroke-width="1.0"/>
<line x1="280.09999999999997" y1="579.5" x2="283.7" y2="579.5" stroke="#222" stroke-width="1.0"/>
<rect x="289.3" y="583" width="7.4" height="16" fill="#a60a30" stroke="none" stroke-width="1" rx="0"/>
<line x1="293.0" y1="583" x2="293.0" y2="579.3" stroke="#222" stroke-width="1.0"/>
<line x1="291.2" y1="579.3" x2="294.8" y2="579.3" stroke="#222" stroke-width="1.0"/>
<rect x="300.4" y="582" width="7.4" height="17" fill="#2b4a86" stroke="none" stroke-width="1" rx="0"/>
<line x1="304.09999999999997" y1="582" x2="304.09999999999997" y2="576.8" stroke="#222" stroke-width="1.0"/>
<line x1="302.29999999999995" y1="576.8" x2="305.9" y2="576.8" stroke="#222" stroke-width="1.0"/>
<rect x="311.5" y="582" width="7.4" height="17" fill="#69ad40" stroke="none" stroke-width="1" rx="0"/>
<line x1="315.2" y1="582" x2="315.2" y2="578.3" stroke="#222" stroke-width="1.0"/>
<line x1="313.4" y1="578.3" x2="317.0" y2="578.3" stroke="#222" stroke-width="1.0"/>
<rect x="329.4" y="535.5" width="7.4" height="63.5" fill="#356b4f" stroke="none" stroke-width="1" rx="0"/>
<line x1="333.09999999999997" y1="535.5" x2="333.09999999999997" y2="531.3" stroke="#222" stroke-width="1.0"/>
<line x1="331.29999999999995" y1="531.3" x2="334.9" y2="531.3" stroke="#222" stroke-width="1.0"/>
<rect x="340.5" y="528.3" width="7.4" height="70.70000000000005" fill="#a60a30" stroke="none" stroke-width="1" rx="0"/>
<line x1="344.2" y1="528.3" x2="344.2" y2="521.3" stroke="#222" stroke-width="1.0"/>
<line x1="342.4" y1="521.3" x2="346.0" y2="521.3" stroke="#222" stroke-width="1.0"/>
<rect x="351.59999999999997" y="532" width="7.4" height="67" fill="#2b4a86" stroke="none" stroke-width="1" rx="0"/>
<line x1="355.29999999999995" y1="532" x2="355.29999999999995" y2="529.3" stroke="#222" stroke-width="1.0"/>
<line x1="353.49999999999994" y1="529.3" x2="357.09999999999997" y2="529.3" stroke="#222" stroke-width="1.0"/>
<rect x="362.7" y="532" width="7.4" height="67" fill="#69ad40" stroke="none" stroke-width="1" rx="0"/>
<line x1="366.4" y1="532" x2="366.4" y2="526.3" stroke="#222" stroke-width="1.0"/>
<line x1="364.59999999999997" y1="526.3" x2="368.2" y2="526.3" stroke="#222" stroke-width="1.0"/>
<rect x="380.6" y="584.3" width="7.4" height="14.700000000000045" fill="#356b4f" stroke="none" stroke-width="1" rx="0"/>
<line x1="384.3" y1="584.3" x2="384.3" y2="582" stroke="#222" stroke-width="1.0"/>
<line x1="382.5" y1="582" x2="386.1" y2="582" stroke="#222" stroke-width="1.0"/>
<rect x="391.70000000000005" y="584.5" width="7.4" height="14.5" fill="#a60a30" stroke="none" stroke-width="1" rx="0"/>
<line x1="395.40000000000003" y1="584.5" x2="395.40000000000003" y2="579.3" stroke="#222" stroke-width="1.0"/>
<line x1="393.6" y1="579.3" x2="397.20000000000005" y2="579.3" stroke="#222" stroke-width="1.0"/>
<rect x="402.8" y="581" width="7.4" height="18" fill="#2b4a86" stroke="none" stroke-width="1" rx="0"/>
<line x1="406.5" y1="581" x2="406.5" y2="578.3" stroke="#222" stroke-width="1.0"/>
<line x1="404.7" y1="578.3" x2="408.3" y2="578.3" stroke="#222" stroke-width="1.0"/>
<rect x="413.90000000000003" y="582" width="7.4" height="17" fill="#69ad40" stroke="none" stroke-width="1" rx="0"/>
<line x1="417.6" y1="582" x2="417.6" y2="576.8" stroke="#222" stroke-width="1.0"/>
<line x1="415.8" y1="576.8" x2="419.40000000000003" y2="576.8" stroke="#222" stroke-width="1.0"/>
<rect x="431.8" y="581.9" width="7.4" height="17.100000000000023" fill="#356b4f" stroke="none" stroke-width="1" rx="0"/>
<line x1="435.5" y1="581.9" x2="435.5" y2="581" stroke="#222" stroke-width="1.0"/>
<line x1="433.7" y1="581" x2="437.3" y2="581" stroke="#222" stroke-width="1.0"/>
<rect x="442.90000000000003" y="585" width="7.4" height="14" fill="#a60a30" stroke="none" stroke-width="1" rx="0"/>
<line x1="446.6" y1="585" x2="446.6" y2="580.8" stroke="#222" stroke-width="1.0"/>
<line x1="444.8" y1="580.8" x2="448.40000000000003" y2="580.8" stroke="#222" stroke-width="1.0"/>
<rect x="454.0" y="579.1" width="7.4" height="19.899999999999977" fill="#2b4a86" stroke="none" stroke-width="1" rx="0"/>
<line x1="457.7" y1="579.1" x2="457.7" y2="575.3" stroke="#222" stroke-width="1.0"/>
<line x1="455.9" y1="575.3" x2="459.5" y2="575.3" stroke="#222" stroke-width="1.0"/>
<rect x="465.1" y="584" width="7.4" height="15" fill="#69ad40" stroke="none" stroke-width="1" rx="0"/>
<line x1="468.8" y1="584" x2="468.8" y2="579.8" stroke="#222" stroke-width="1.0"/>
<line x1="467.0" y1="579.8" x2="470.6" y2="579.8" stroke="#222" stroke-width="1.0"/>
<text x="298.7" y="611.3" font-size="9.8" fill="#1a1a1a" text-anchor="middle" stroke="#1a1a1a" stroke-width="0.22">CD3</text>
<text x="351.2" y="611.3" font-size="9.8" fill="#1a1a1a" text-anchor="middle" stroke="#1a1a1a" stroke-width="0.22">B220</text>
<text x="402.7" y="611.3" font-size="9.8" fill="#1a1a1a" text-anchor="middle" stroke="#1a1a1a" stroke-width="0.22">CD11b</text>
<text x="455" y="611.3" font-size="9.8" fill="#1a1a1a" text-anchor="middle" stroke="#1a1a1a" stroke-width="0.22">Gr-1</text>
<rect x="276" y="495.2" width="7" height="4" fill="#356b4f" stroke="none" stroke-width="1" rx="0"/>
<text x="286.8" y="500.2" font-size="8.6" fill="#1a1a1a" textLength="49.5" lengthAdjust="spacingAndGlyphs" stroke="#1a1a1a" stroke-width="0.22">GFP Control</text>
<rect x="276" y="503.3" width="7" height="4" fill="#a60a30" stroke="none" stroke-width="1" rx="0"/>
<text x="286.8" y="507.90000000000003" font-size="8" fill="#1a1a1a" stroke="#1a1a1a" stroke-width="0.22" letter-spacing="0.1">I</text>
<rect x="276" y="511" width="7" height="4" fill="#2b4a86" stroke="none" stroke-width="1" rx="0"/>
<text x="286.8" y="515.6" font-size="8" fill="#1a1a1a" stroke="#1a1a1a" stroke-width="0.22" letter-spacing="0.1">II</text>
<rect x="276" y="518.6" width="7" height="4" fill="#69ad40" stroke="none" stroke-width="1" rx="0"/>
<text x="286.8" y="523.2" font-size="8" fill="#1a1a1a" stroke="#1a1a1a" stroke-width="0.22" letter-spacing="0.1">III</text>
<text x="228.3" y="543.2" font-size="10" fill="#1a1a1a" text-anchor="middle" textLength="95" lengthAdjust="spacingAndGlyphs" transform="rotate(-90 228.3 543.2)" stroke="#1a1a1a" stroke-width="0.22">Proportion of GFP+ cells</text>
<text x="241.5" y="543.2" font-size="10" fill="#1a1a1a" text-anchor="middle" textLength="90.4" lengthAdjust="spacingAndGlyphs" transform="rotate(-90 241.5 543.2)" stroke="#1a1a1a" stroke-width="0.22">(% of GFP+/CD45.1&#8722;)</text>
<text x="216.8" y="643.9" font-size="14" fill="#000" font-weight="bold">F</text>
<line x1="270.8" y1="656.4" x2="270.8" y2="763.1" stroke="#000" stroke-width="1.4"/>
<line x1="270.2" y1="762.5" x2="474.5" y2="762.5" stroke="#000" stroke-width="1.4"/>
<line x1="267.6" y1="762.5" x2="270.8" y2="762.5" stroke="#000" stroke-width="1.1"/>
<text x="266.6" y="766.0" font-size="9.8" fill="#1a1a1a" text-anchor="end" textLength="5.8" lengthAdjust="spacingAndGlyphs" stroke="#1a1a1a" stroke-width="0.22">0</text>
<line x1="267.6" y1="741.5" x2="270.8" y2="741.5" stroke="#000" stroke-width="1.1"/>
<text x="266.6" y="745.0" font-size="9.8" fill="#1a1a1a" text-anchor="end" textLength="11.8" lengthAdjust="spacingAndGlyphs" stroke="#1a1a1a" stroke-width="0.22">20</text>
<line x1="267.6" y1="720.5" x2="270.8" y2="720.5" stroke="#000" stroke-width="1.1"/>
<text x="266.6" y="724.0" font-size="9.8" fill="#1a1a1a" text-anchor="end" textLength="11.8" lengthAdjust="spacingAndGlyphs" stroke="#1a1a1a" stroke-width="0.22">40</text>
<line x1="267.6" y1="699.5" x2="270.8" y2="699.5" stroke="#000" stroke-width="1.1"/>
<text x="266.6" y="703.0" font-size="9.8" fill="#1a1a1a" text-anchor="end" textLength="11.8" lengthAdjust="spacingAndGlyphs" stroke="#1a1a1a" stroke-width="0.22">60</text>
<line x1="267.6" y1="678.5" x2="270.8" y2="678.5" stroke="#000" stroke-width="1.1"/>
<text x="266.6" y="682.0" font-size="9.8" fill="#1a1a1a" text-anchor="end" textLength="11.8" lengthAdjust="spacingAndGlyphs" stroke="#1a1a1a" stroke-width="0.22">80</text>
<line x1="267.6" y1="657.5" x2="270.8" y2="657.5" stroke="#000" stroke-width="1.1"/>
<text x="266.6" y="661.0" font-size="9.8" fill="#1a1a1a" text-anchor="end" textLength="17.8" lengthAdjust="spacingAndGlyphs" stroke="#1a1a1a" stroke-width="0.22">100</text>
<rect x="276.1" y="727" width="7.4" height="35.5" fill="#6a4a1f" stroke="none" stroke-width="1" rx="0"/>
<line x1="279.8" y1="727" x2="279.8" y2="725" stroke="#222" stroke-width="1.0"/>
<line x1="278.0" y1="725" x2="281.6" y2="725" stroke="#222" stroke-width="1.0"/>
<rect x="287.1" y="723.2" width="7.4" height="39.299999999999955" fill="#a60a30" stroke="none" stroke-width="1" rx="0"/>
<line x1="290.8" y1="723.2" x2="290.8" y2="718.2" stroke="#222" stroke-width="1.0"/>
<line x1="289.0" y1="718.2" x2="292.6" y2="718.2" stroke="#222" stroke-width="1.0"/>
<rect x="298.1" y="724.5" width="7.4" height="38.0" fill="#2b4a86" stroke="none" stroke-width="1" rx="0"/>
<line x1="301.8" y1="724.5" x2="301.8" y2="720.5" stroke="#222" stroke-width="1.0"/>
<line x1="300.0" y1="720.5" x2="303.6" y2="720.5" stroke="#222" stroke-width="1.0"/>
<rect x="309.1" y="725.8" width="7.4" height="36.700000000000045" fill="#69ad40" stroke="none" stroke-width="1" rx="0"/>
<line x1="312.8" y1="725.8" x2="312.8" y2="719.3" stroke="#222" stroke-width="1.0"/>
<line x1="311.0" y1="719.3" x2="314.6" y2="719.3" stroke="#222" stroke-width="1.0"/>
<rect x="327.3" y="713.8" width="7.4" height="48.700000000000045" fill="#6a4a1f" stroke="none" stroke-width="1" rx="0"/>
<line x1="331.0" y1="713.8" x2="331.0" y2="710.8" stroke="#222" stroke-width="1.0"/>
<line x1="329.2" y1="710.8" x2="332.8" y2="710.8" stroke="#222" stroke-width="1.0"/>
<rect x="338.3" y="711.8" width="7.4" height="50.700000000000045" fill="#a60a30" stroke="none" stroke-width="1" rx="0"/>
<line x1="342.0" y1="711.8" x2="342.0" y2="706.3" stroke="#222" stroke-width="1.0"/>
<line x1="340.2" y1="706.3" x2="343.8" y2="706.3" stroke="#222" stroke-width="1.0"/>
<rect x="349.3" y="709.5" width="7.4" height="53.0" fill="#2b4a86" stroke="none" stroke-width="1" rx="0"/>
<line x1="353.0" y1="709.5" x2="353.0" y2="707" stroke="#222" stroke-width="1.0"/>
<line x1="351.2" y1="707" x2="354.8" y2="707" stroke="#222" stroke-width="1.0"/>
<rect x="360.3" y="710" width="7.4" height="52.5" fill="#69ad40" stroke="none" stroke-width="1" rx="0"/>
<line x1="364.0" y1="710" x2="364.0" y2="704.3" stroke="#222" stroke-width="1.0"/>
<line x1="362.2" y1="704.3" x2="365.8" y2="704.3" stroke="#222" stroke-width="1.0"/>
<rect x="378.5" y="745.8" width="7.4" height="16.700000000000045" fill="#6a4a1f" stroke="none" stroke-width="1" rx="0"/>
<line x1="382.2" y1="745.8" x2="382.2" y2="743.3" stroke="#222" stroke-width="1.0"/>
<line x1="380.4" y1="743.3" x2="384.0" y2="743.3" stroke="#222" stroke-width="1.0"/>
<rect x="389.5" y="748" width="7.4" height="14.5" fill="#a60a30" stroke="none" stroke-width="1" rx="0"/>
<line x1="393.2" y1="748" x2="393.2" y2="742.8" stroke="#222" stroke-width="1.0"/>
<line x1="391.4" y1="742.8" x2="395.0" y2="742.8" stroke="#222" stroke-width="1.0"/>
<rect x="400.5" y="750" width="7.4" height="12.5" fill="#2b4a86" stroke="none" stroke-width="1" rx="0"/>
<line x1="404.2" y1="750" x2="404.2" y2="745" stroke="#222" stroke-width="1.0"/>
<line x1="402.4" y1="745" x2="406.0" y2="745" stroke="#222" stroke-width="1.0"/>
<rect x="411.5" y="746.3" width="7.4" height="16.200000000000045" fill="#69ad40" stroke="none" stroke-width="1" rx="0"/>
<line x1="415.2" y1="746.3" x2="415.2" y2="741.3" stroke="#222" stroke-width="1.0"/>
<line x1="413.4" y1="741.3" x2="417.0" y2="741.3" stroke="#222" stroke-width="1.0"/>
<rect x="429.7" y="742.6" width="7.4" height="19.899999999999977" fill="#6a4a1f" stroke="none" stroke-width="1" rx="0"/>
<line x1="433.4" y1="742.6" x2="433.4" y2="740.3" stroke="#222" stroke-width="1.0"/>
<line x1="431.59999999999997" y1="740.3" x2="435.2" y2="740.3" stroke="#222" stroke-width="1.0"/>
<rect x="440.7" y="744" width="7.4" height="18.5" fill="#a60a30" stroke="none" stroke-width="1" rx="0"/>
<line x1="444.4" y1="744" x2="444.4" y2="740.6" stroke="#222" stroke-width="1.0"/>
<line x1="442.59999999999997" y1="740.6" x2="446.2" y2="740.6" stroke="#222" stroke-width="1.0"/>
<rect x="451.7" y="744.8" width="7.4" height="17.700000000000045" fill="#2b4a86" stroke="none" stroke-width="1" rx="0"/>
<line x1="455.4" y1="744.8" x2="455.4" y2="738.3" stroke="#222" stroke-width="1.0"/>
<line x1="453.59999999999997" y1="738.3" x2="457.2" y2="738.3" stroke="#222" stroke-width="1.0"/>
<rect x="462.7" y="744" width="7.4" height="18.5" fill="#69ad40" stroke="none" stroke-width="1" rx="0"/>
<line x1="466.4" y1="744" x2="466.4" y2="739.6" stroke="#222" stroke-width="1.0"/>
<line x1="464.59999999999997" y1="739.6" x2="468.2" y2="739.6" stroke="#222" stroke-width="1.0"/>
<text x="296.3" y="774.6" font-size="9.8" fill="#1a1a1a" text-anchor="middle" stroke="#1a1a1a" stroke-width="0.22">CD3</text>
<text x="349" y="774.6" font-size="9.8" fill="#1a1a1a" text-anchor="middle" stroke="#1a1a1a" stroke-width="0.22">B220</text>
<text x="400.5" y="774.6" font-size="9.8" fill="#1a1a1a" text-anchor="middle" stroke="#1a1a1a" stroke-width="0.22">CD11b</text>
<text x="449.3" y="774.6" font-size="9.8" fill="#1a1a1a" text-anchor="middle" stroke="#1a1a1a" stroke-width="0.22">Gr-1</text>
<rect x="273.8" y="658.9" width="7" height="4" fill="#6a4a1f" stroke="none" stroke-width="1" rx="0"/>
<text x="284.6" y="663.9" font-size="8.6" fill="#1a1a1a" textLength="63" lengthAdjust="spacingAndGlyphs" stroke="#1a1a1a" stroke-width="0.22">CD45.1 Control</text>
<rect x="273.8" y="666.6" width="7" height="4" fill="#a60a30" stroke="none" stroke-width="1" rx="0"/>
<text x="284.6" y="671.2" font-size="8" fill="#1a1a1a" stroke="#1a1a1a" stroke-width="0.22" letter-spacing="0.1">I</text>
<rect x="273.8" y="674.1" width="7" height="4" fill="#2b4a86" stroke="none" stroke-width="1" rx="0"/>
<text x="284.6" y="678.7" font-size="8" fill="#1a1a1a" stroke="#1a1a1a" stroke-width="0.22" letter-spacing="0.1">II</text>
<rect x="273.8" y="682.2" width="7" height="4" fill="#69ad40" stroke="none" stroke-width="1" rx="0"/>
<text x="284.6" y="686.8000000000001" font-size="8" fill="#1a1a1a" stroke="#1a1a1a" stroke-width="0.22" letter-spacing="0.1">III</text>
<text x="226.3" y="706" font-size="10" fill="#1a1a1a" text-anchor="middle" textLength="108.7" lengthAdjust="spacingAndGlyphs" transform="rotate(-90 226.3 706)" stroke="#1a1a1a" stroke-width="0.22">Proportion of CD45.1+ cells</text>
<text x="239.5" y="707.7" font-size="10" fill="#1a1a1a" text-anchor="middle" textLength="87.1" lengthAdjust="spacingAndGlyphs" transform="rotate(-90 239.5 707.7)" stroke="#1a1a1a" stroke-width="0.22">(% of CD45.1+/GFP&#8722;)</text>
</svg></body></html>
